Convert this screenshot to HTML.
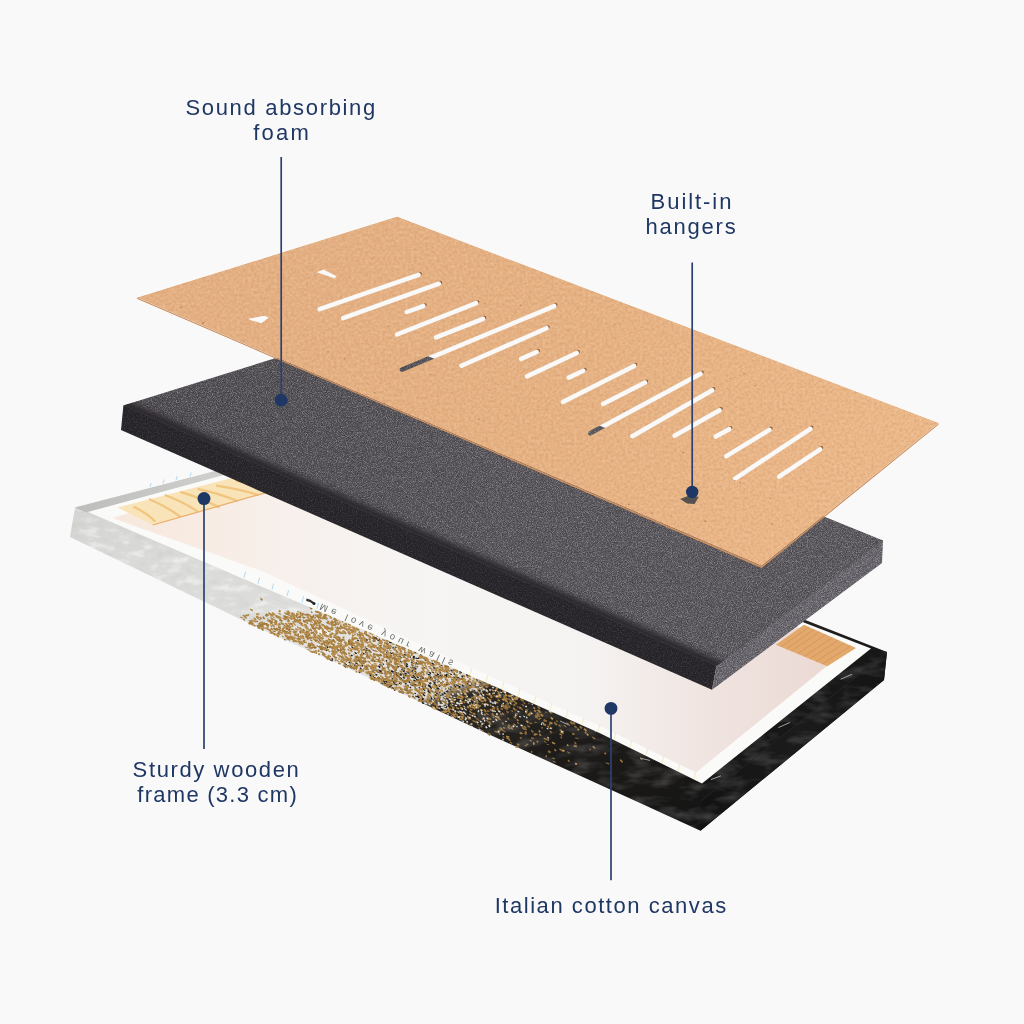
<!DOCTYPE html>
<html><head><meta charset="utf-8"><style>
html,body{margin:0;padding:0;background:#f9f9f9;}
body{width:1024px;height:1024px;overflow:hidden;position:relative;}
svg{position:absolute;left:0;top:0;display:block;will-change:transform;}
.lb{font-family:"Liberation Sans",sans-serif;font-size:22px;fill:#1f3764;}
.mt{font-family:"Liberation Sans",sans-serif;font-size:9.5px;fill:#6a6a6a;}
</style></head><body>
<svg width="1024" height="1024" viewBox="0 0 1024 1024">
<defs>
<linearGradient id="band" gradientUnits="userSpaceOnUse" x1="174.2" y1="471" x2="354.8" y2="959">
 <stop offset="0" stop-color="#d4d4d2"/>
 <stop offset="0.15" stop-color="#dadad8"/>
 <stop offset="0.3" stop-color="#dcdcda"/>
 <stop offset="0.42" stop-color="#e4e4e2"/>
 <stop offset="0.575" stop-color="#dddcd9"/>
 <stop offset="0.588" stop-color="#5a5650"/>
 <stop offset="0.6" stop-color="#2c2926"/>
 <stop offset="0.75" stop-color="#1e1c1a"/>
 <stop offset="1" stop-color="#141414"/>
</linearGradient>
<linearGradient id="rimG" gradientUnits="userSpaceOnUse" x1="75" y1="0" x2="240" y2="0">
 <stop offset="0" stop-color="#bdbdbc"/>
 <stop offset="1" stop-color="#d2d2d1"/>
</linearGradient>
<linearGradient id="canvasBack" gradientUnits="userSpaceOnUse" x1="150" y1="0" x2="850" y2="0">
 <stop offset="0" stop-color="#f8e9df"/>
 <stop offset="0.2" stop-color="#f7f0ec"/>
 <stop offset="0.4" stop-color="#f6f5f4"/>
 <stop offset="0.62" stop-color="#f5f3f2"/>
 <stop offset="0.8" stop-color="#f0e4e0"/>
 <stop offset="1" stop-color="#ead7d1"/>
</linearGradient>
<linearGradient id="foamFront" gradientUnits="userSpaceOnUse" x1="0" y1="0" x2="0" y2="1">
 <stop offset="0" stop-color="#2b2a2f"/>
 <stop offset="1" stop-color="#333237"/>
</linearGradient>
<linearGradient id="rface" gradientUnits="userSpaceOnUse" x1="700" y1="0" x2="887" y2="0">
 <stop offset="0" stop-color="#121212"/>
 <stop offset="0.5" stop-color="#1b1b1b"/>
 <stop offset="1" stop-color="#141414"/>
</linearGradient>
<filter id="foamTex" filterUnits="userSpaceOnUse" x="100" y="300" width="800" height="400" color-interpolation-filters="sRGB">
 <feTurbulence type="fractalNoise" baseFrequency="1.2" numOctaves="1" seed="5" result="n"/>
 <feColorMatrix in="n" type="matrix" values="0 0 0 0 1  0 0 0 0 1  0 0 0 0 1  1.0 0 0 0 -0.5" result="wdot"/>
 <feColorMatrix in="n" type="matrix" values="0 0 0 0 0  0 0 0 0 0  0 0 0 0 0  -1.0 0 0 0 0.5" result="kdot"/>
 <feComposite in="wdot" in2="SourceGraphic" operator="in" result="w2"/>
 <feComposite in="kdot" in2="SourceGraphic" operator="in" result="k2"/>
 <feMerge><feMergeNode in="SourceGraphic"/><feMergeNode in="k2"/><feMergeNode in="w2"/></feMerge>
</filter>
<linearGradient id="kraftG" gradientUnits="userSpaceOnUse" x1="330" y1="230" x2="860" y2="470">
 <stop offset="0" stop-color="#e4b083"/>
 <stop offset="0.5" stop-color="#e6b283"/>
 <stop offset="1" stop-color="#ebb889"/>
</linearGradient>
<linearGradient id="foamTop" gradientUnits="userSpaceOnUse" x1="150" y1="0" x2="850" y2="0">
 <stop offset="0" stop-color="#524f54"/>
 <stop offset="0.5" stop-color="#5a575d"/>
 <stop offset="1" stop-color="#5c595f"/>
</linearGradient>
<filter id="mottle" filterUnits="userSpaceOnUse" x="60" y="480" width="300" height="220" color-interpolation-filters="sRGB">
 <feTurbulence type="fractalNoise" baseFrequency="0.06 0.14" numOctaves="3" seed="3" result="n"/>
 <feColorMatrix in="n" type="matrix" values="0 0 0 0 0.72  0 0 0 0 0.72  0 0 0 0 0.71  -0.7 0 0 0 0.29" result="g"/>
 <feColorMatrix in="n" type="matrix" values="0 0 0 0 1  0 0 0 0 1  0 0 0 0 1  1.6 0 0 0 -0.8" result="wh"/>
 <feMerge><feMergeNode in="g"/><feMergeNode in="wh"/></feMerge>
 <feComposite in2="SourceGraphic" operator="in"/>
</filter>
<filter id="blackTex" filterUnits="userSpaceOnUse" x="400" y="600" width="500" height="240" color-interpolation-filters="sRGB">
 <feTurbulence type="fractalNoise" baseFrequency="0.035 0.09" numOctaves="3" seed="8" result="n"/>
 <feColorMatrix in="n" type="matrix" values="0 0 0 0 1  0 0 0 0 1  0 0 0 0 1  0.45 0 0 0 -0.2" result="w"/>
 <feComposite in="w" in2="SourceGraphic" operator="in"/>
</filter>
<filter id="bev" filterUnits="userSpaceOnUse" x="0" y="300" width="1024" height="450"><feGaussianBlur stdDeviation="3"/></filter>
<filter id="foamTex2" filterUnits="userSpaceOnUse" x="100" y="380" width="640" height="320" color-interpolation-filters="sRGB">
 <feTurbulence type="fractalNoise" baseFrequency="0.8" numOctaves="2" seed="9" result="n"/>
 <feColorMatrix in="n" type="matrix" values="0 0 0 0 1  0 0 0 0 1  0 0 0 0 1  0.35 0 0 0 -0.175" result="wdot"/>
 <feColorMatrix in="n" type="matrix" values="0 0 0 0 0  0 0 0 0 0  0 0 0 0 0  -0.5 0 0 0 0.25" result="kdot"/>
 <feComposite in="wdot" in2="SourceGraphic" operator="in" result="w2"/>
 <feComposite in="kdot" in2="SourceGraphic" operator="in" result="k2"/>
 <feMerge><feMergeNode in="SourceGraphic"/><feMergeNode in="k2"/><feMergeNode in="w2"/></feMerge>
</filter>
<filter id="kraftTex" filterUnits="userSpaceOnUse" x="130" y="210" width="820" height="360" color-interpolation-filters="sRGB">
 <feTurbulence type="fractalNoise" baseFrequency="0.35" numOctaves="3" seed="11" result="n"/>
 <feColorMatrix in="n" type="matrix" values="0 0 0 0 1  0 0 0 0 0.88  0 0 0 0 0.76  0.7 0 0 0 -0.35" result="w"/>
 <feColorMatrix in="n" type="matrix" values="0 0 0 0 0.72  0 0 0 0 0.5  0 0 0 0 0.36  -0.7 0 0 0 0.35" result="k"/>
 <feComposite in="w" in2="SourceGraphic" operator="in" result="w2"/>
 <feComposite in="k" in2="SourceGraphic" operator="in" result="k2"/>
 <feMerge><feMergeNode in="SourceGraphic"/><feMergeNode in="k2"/><feMergeNode in="w2"/></feMerge>
</filter>
<mask id="kmask" maskUnits="userSpaceOnUse" x="0" y="0" width="1024" height="1024">
<polygon points="137,297.6 397,216.6 939,423 761.6,566" fill="#fff"/>
<polygon points="137,297.6 761.6,566 939,423 938.7,424.8 761.6,568.2 137,299" fill="#fff"/>
<g stroke="#000" stroke-width="4.5" stroke-linecap="round">
<line x1="319.7" y1="309.2" x2="418.6" y2="274.9"/>
<line x1="343.1" y1="318.1" x2="439" y2="283.7"/>
<line x1="406.8" y1="312" x2="423.4" y2="306.1"/>
<line x1="397" y1="334.5" x2="476.2" y2="303.2"/>
<line x1="436.1" y1="337.4" x2="483" y2="318.8"/>
<line x1="402" y1="369.6" x2="554.3" y2="306.1"/>
<line x1="461.5" y1="365.7" x2="546.5" y2="328.2"/>
<line x1="521.1" y1="358.9" x2="536.7" y2="352"/>
<line x1="527" y1="376.4" x2="576.8" y2="353"/>
<line x1="568.8" y1="377.6" x2="583.4" y2="370.8"/>
<line x1="562.9" y1="402" x2="634.2" y2="365.9"/>
<line x1="603" y1="404" x2="645" y2="382.5"/>
<line x1="590.3" y1="433.3" x2="700.6" y2="373.7"/>
<line x1="632.3" y1="436.2" x2="712.3" y2="390.3"/>
<line x1="674.6" y1="435.7" x2="719.6" y2="410.3"/>
<line x1="715.7" y1="436.6" x2="729.3" y2="429.2"/>
<line x1="726.4" y1="456.2" x2="769.4" y2="429.8"/>
<line x1="735.2" y1="478.6" x2="810.4" y2="428.8"/>
<line x1="779.1" y1="476.7" x2="820.2" y2="449.3"/>
</g>
<polygon points="316.7,272.2 323.5,269.6 336.5,276.3 334.5,278.3" fill="#000"/><polygon points="248.8,318.8 264.4,315.8 268.8,317.6 261.5,323.2 250,320" fill="#000"/>
</mask>
</defs>
<g id="frame">
<polygon points="75,507.6 342,438 887,652 884,680 700.5,830.8 640,803 480,730.3 360,673.8 260,628.8 70,537" fill="url(#band)"/>
<polygon points="75,507.6 260,586 340,620 340,664.8 260,628.8 70,537" fill="#fff" filter="url(#mottle)"/>
<path d="M331.7 657.8l1.8 1.1 -.8 1.1 -1.3 -.8zM461 678l2.8 1.8 -1.3 .6 -2.2 -1.4zM407.9 653.7l2 1.6 -.8 .8 -1.8 -1.4zM406.1 689l2 1.3 -.9 1.3 -1.6 -1zM416.4 675.7l2.7 1.5 -.7 1.2 -2.4 -1.6zM410.1 683.5l2.6 1 -.6 1.3 -1.9 -.9zM400.8 656.8l1.7 .7 -.5 .8 -1.1 -.5zM399.2 691.1l1.2 .9 -.9 .8 -.8 -1zM422.2 685.6l1.3 1.4 -.7 .8 -1.5 -1.5zM386.3 659.7l1.3 1.1 -1 1.1 -1.1 -1.2zM413 674.7l1.1 1.2 -1.2 .7 -1 -.8zM344 665l2.1 1.4 -.2 1.5 -2 -1.3zM344.7 662.7l2.4 1.8 -.5 1 -2.6 -1.5zM429.4 699.4l1.3 1.5 -1.2 .8 -1.3 -1.4zM314.3 646.4l1.6 .6 -.3 1.4 -1.6 -.3zM411.6 661.3l1.7 1.9 -.7 .9 -2 -1.9zM371.9 677.1l1.1 1.3 -.7 .6 -1.1 -1.1zM345.6 658.8l1.9 .6 -.1 1.2 -2 -.3zM356.4 656.7l2.2 .8 -.5 1.1 -2.2 -.9zM453.6 685.4l2.3 1.6 -1 1.5 -1.5 -1.3zM430.1 681.7l1.6 1.4 -.8 1.2 -1.9 -1.4zM405.6 674.2l1.2 .9 -.6 1.2 -1.3 -.6zM446 670.5l2.2 1.9 -.9 .5 -1.8 -1.4zM447 664.3l2.1 1.8 -1 .9 -1.9 -1.6zM446.3 683l2.2 1.9 -1.4 .7 -1.7 -1.2zM422.2 699.7l2.1 .9 -.6 1.1 -1.5 -.9zM446 690.9l1.9 .5 -.3 .9 -1.7 -.5zM426.1 700.6l1.3 1 -.9 .8 -.9 -1zM359.1 671.1l1.5 1.6 -.8 .6 -1.4 -1.1zM403.1 670.1l1.8 .8 -.6 1.6 -1.3 -.8zM411.5 669.6l2.1 1.1 -.6 1.2 -2.1 -1.2zM466.9 675.5l1.6 .9 -.7 1 -1.2 -.9zM460.4 671.4l1.8 1 -.6 .9 -1.9 -1.2zM407 671.4l2.3 1.1 -.5 1.2 -2 -.7zM479.8 681.2l1.5 1 -1 1.1 -1.3 -.8zM422.7 697.9l1.5 .7 -.7 1 -1.2 -.8zM395.6 666.5l2.1 1.1 -.8 1 -1.8 -1.1zM410.1 686.2l1.4 1.6 -1 .6 -1 -1zM444.1 692.1l1.6 1.1 -.5 .9 -1.9 -1.2zM360.2 667.2l1.8 1.5 -.9 1.4 -1.7 -1.8zM395.7 673.8l2.7 1.1 -.3 1.6 -2.3 -.9zM414.8 667.1l2 1.7 -.8 1.1 -2 -1.8zM374 677l2.3 1.1 -.9 1.1 -1.6 -.7zM394.6 670.4l1.5 1.3 -1 .6 -1.2 -.8zM413.9 675.8l2.2 1.5 -.9 .7 -1.6 -1zM373.2 636.4l2.3 1.7 -.6 1.1 -2.3 -1zM395.5 666.9l1.2 .8 -.2 1.1 -1.3 -.5zM415.5 657.5l2.4 .5 .1 1.1 -2.6 -.3zM475.3 682.4l1.1 .9 -.9 1.3 -1.1 -1.2zM389.5 655.9l1.4 1.6 -1 .6 -1.3 -1.3zM385.8 653.7l1.7 .6 -.5 1.5 -1.6 -.7zM439.6 673.2l2.3 .9 -.3 1 -2.3 -1.1zM413.1 682.9l3.2 1.3 -1 1.5 -2.5 -.9zM364.1 638.1l3.1 1.6 -1 1 -2.1 -1.2zM389.4 684.9l2.9 .9 -.6 .7 -2.1 -.3zM388.9 679.8l1.1 1.3 -.9 1 -1.3 -1.3zM437.3 688.1l1.6 2.1 -1.4 .8 -1.5 -2zM399 690.6l1.9 .5 -.4 1.6 -1.6 -.3zM468 680.1l1.7 .8 -.4 1.4 -1.7 -.5zM387.8 663.2l2.3 .6 -.6 .9 -1.7 -.3zM338.8 645.1l2.2 1.6 -.8 .9 -1.5 -.9zM449.5 686.2l2.9 .6 -.2 1 -2.1 -.2zM401.7 679.2l2.4 .7 -.1 1.4 -2.4 -.6zM400.2 660.2l2.3 2.3 -.9 .5 -2 -1.9zM355.1 662.5l2.9 .5 -.2 1.2 -2.2 -.3zM403 667l2.5 .9 -.3 1.3 -2.8 -.5zM456.1 676.4l3.2 .9 -1 1.5 -2.1 -.7zM445.5 677.8l2.6 2.5 -1.3 .4 -2.1 -1.8zM399.1 675.4l1.1 1.8 -1 .7 -1.5 -1.3zM354.8 651.4l2.4 2 -1.2 .9 -1.5 -1.2zM422.7 688l1.6 1.2 -1.1 .9 -1.2 -.8zM458.5 677.2l2.4 1.8 -.7 .9 -2.3 -1.7zM430.7 689.8l2.2 1.2 -.6 1.6 -2.2 -1.5zM425.1 683.6l1.5 1.2 -.3 .9 -1.8 -1zM423.8 667l1.9 .7 -.3 1.1 -1.9 -.8zM376.6 637.2l1.1 1.7 -1.1 1 -1.2 -1.5zM478.8 679.3l3.1 .8 -.5 1.1 -2.2 -.8zM423.8 691.7l1.6 .8 -.3 1.4 -1.7 -.9zM416.1 678.6l2.3 .6 -.2 1.8 -2 -.6zM421.8 698.8l1.8 .8 -.5 1.6 -1.8 -.9zM402 666.6l1.3 1 -1 1.2 -1.2 -1.1zM397.5 665.2l1.6 1.4 -.7 1.4 -1.5 -1.3zM371.1 665.6l2 1.4 -.9 .8 -1.7 -.9zM420.7 680.2l1.5 1.8 -1.2 .6 -1 -1.3zM437.7 698.5l1.5 .6 -.2 1.2 -1.2 -.2zM434.6 679.9l1.5 .6 -.5 1.1 -1.3 -.5zM419.7 661.7l2.4 1.9 -1.3 .9 -1.4 -1.5zM378 676.8l1.9 1.6 -.7 1.1 -2.1 -1.8zM379.1 666.8l1.3 .7 -.2 1.1 -1.5 -.8zM438.4 684.7l2.9 .4 -.6 1.2 -1.9 -.4zM470.4 685.1l1.8 .7 -.7 1.4 -1.6 -.8zM407.9 691.7l1.4 1.1 -1.1 1 -1 -1zM387.6 678.2l1.1 1.6 -1 .7 -.8 -1.3zM378.8 671.3l1.3 1.2 -1 .8 -.9 -.9zM450.4 673.3l1.9 1.3 -.7 .7 -1.8 -1.1zM325.8 649.4l2 .9 -.9 1 -1.5 -.6zM419.1 674l2 2 -1.1 .9 -1.6 -1.6zM369.2 672.5l2 .8 -1 1.4 -1.4 -.9zM330.6 659.2l2.6 1.4 -.9 .9 -2.4 -1.1zM357.4 639.5l1.6 .4 -.4 1.5 -1.7 -.6zM379.3 639.9l2.2 .7 -.6 1.2 -1.6 -.4zM452.1 681l1.6 .8 -.5 1.3 -1.7 -1.1zM379.4 663.7l2.7 1.5 -.7 1.1 -2.1 -1.1zM467.1 682.5l1.6 1.9 -.8 .6 -1.5 -1.5zM450.3 669.4l2.2 .6 -.3 1 -2.1 -.7zM428.8 690.9l1.8 1.1 -.4 1.6 -2 -1.1zM424.1 688.9l1.4 1.3 -.6 1 -1.3 -1.4zM466.1 674l2.7 .8 -.5 1.4 -2.1 -.7zM472.1 683.1l1.3 .7 -.7 1.1 -1 -.6zM414.4 685.6l1.5 1.4 -.5 1.1 -1.8 -1.5zM411.7 664.4l1.8 1.7 -.7 .7 -1.8 -1.7zM348.5 661.8l2.4 .5 -.4 1.2 -1.7 -.2zM391.3 669.9l1.9 2.1 -1 .9 -1.6 -1.7zM430.7 686.4l1.4 1.9 -.7 .8 -1.8 -1.4zM438.3 676l1.9 1.3 -.9 1.5 -1.8 -.9zM361.8 664.3l1.5 1.3 -.8 1.3 -1.3 -1.1zM469.3 685.1l1.5 .9 -.6 1 -1.5 -.6zM413.2 656.6l1.8 1.2 -.7 1.4 -1.9 -1.1zM422 697.1l2.2 2 -.9 1.3 -1.8 -2.1zM454.1 672.5l1.3 1.5 -.8 1.2 -1.3 -1zM434.4 678.2l2.1 .6 -.6 .8 -1.4 -.3zM411.3 683.8l2.4 .8 -.5 1.4 -1.9 -.6zM430 672.4l1.2 1 -.7 .8 -1.1 -1zM445.4 675.8l2.6 .8 -.8 .8 -1.9 -.2zM398.9 682.4l2.5 1.1 -.4 1.1 -2.3 -.9zM424.6 679.6l2.2 1.2 -1 .9 -1.3 -.7zM457.7 685l3.1 1.4 -.7 .8 -2.2 -.8zM413 655.7l2.1 .4 -.6 1.3 -1.8 -.5zM351.1 646.2l2.5 .9 -.4 1.1 -1.8 -.7zM428.1 684.6l2.1 .6 -.4 1.2 -1.6 -.1zM373 655.3l1.7 1 -.2 1.4 -1.8 -.8zM386.9 684.1l.9 1.3 -1.1 1.2 -1 -1.4zM410.5 650l1.7 .7 -.5 1 -1.1 -.5zM434.1 683.3l2.4 1.2 -.4 1.5 -2.7 -1zM419.2 686.8l1.3 1.4 -.9 .8 -1.2 -1.2zM350.6 654.7l2.1 .3 -.5 1.3 -1.3 -.3zM362.8 660.3l1.5 .4 -.1 1.3 -1.5 -.2zM456.1 670.8l2.2 .6 -.4 1.1 -2 -.3zM425.9 673.2l1.9 .5 -.4 .7 -1.4 -.3zM369 649.2l2.1 2 -1.1 .9 -1.9 -1.8zM456.5 683.9l1.5 1.2 -.7 1.1 -1.2 -.6zM453.6 676.3l2.3 1.4 -.8 .9 -2.1 -1.2zM391 683.9l1.5 .9 -.6 1.1 -1.1 -.7zM443.8 693.2l2.2 1.4 -.6 1.2 -2 -1.3zM404 669.3l1.3 1.1 -.7 .8 -1.2 -.8zM414.6 670.3l1.9 1.2 -.9 1.1 -1.6 -1.1zM424.1 686l1.9 .6 -.3 1.1 -1.7 -.2zM394.4 657.3l1.2 1.4 -1 1 -1.2 -1zM379 638.4l1.4 .7 -.5 1.2 -1.4 -.5zM372.2 669.8l1.9 2.2 -1.1 .5 -1.2 -1.6zM433.2 667.1l1.9 .5 -.4 1.6 -1.6 -.9zM427.8 684.7l3 1.3 -.8 1.5 -2.1 -1.2zM437.4 693.4l2.1 .5 -.4 .9 -1.5 -.4zM438.6 684.9l1.8 .7 -.3 1.7 -1.5 -.9zM436.7 692.3l1.2 1.1 -.7 1.1 -1.3 -.9zM434.9 691.3l2 .8 -.6 1.2 -1.8 -.8zM406.2 688.1l2 .6 -.4 1.4 -1.4 -.5zM442.1 693.2l1.2 1 -1 1.1 -.8 -1zM445.8 673.9l2.7 .6 -.7 .8 -2.1 -.4zM422.1 680.8l1.8 2 -1 .6 -1.5 -1.7zM385.7 680.4l2.2 1.4 -1.1 1.1 -1.8 -1.2zM372.2 668.1l2.5 1.3 -.6 1.1 -2.2 -.8zM388.2 646.9l2.3 1.3 -.5 .9 -2.4 -1zM440.7 675.3l2.3 .9 -.6 1.5 -1.6 -.8zM425.2 685.5l1 1.3 -.6 1.1 -1.3 -1.2zM421.3 676.5l2.5 .6 -.3 .9 -2.7 -.4zM378.4 669.4l1.5 .6 -.3 .9 -1.4 -.6zM412.8 695.4l1.2 .7 -.6 1.5 -1.4 -.7zM454.2 685.1l2.4 1.2 -.7 .9 -2.5 -1.1zM379.7 670l1.6 1 -.6 1.4 -1.5 -.8zM439.1 691.5l1.4 1 -.9 .9 -.8 -.8zM400.3 673.5l1.2 1.2 -1.4 1.3 -.8 -1.3zM417.7 695.5l2.3 1.9 -1.3 1 -2.1 -1.8zM447 690.3l1.8 .6 -.3 1.5 -1.8 -.8zM431.5 697.6l1.1 1.4 -1.2 .8 -.8 -1zM421.6 692l2.8 1.7 -1.1 .7 -1.9 -1.1zM422.3 702.3l1.9 .5 -.3 1.3 -1.6 -0zM403.8 653.7l2.7 .9 -.7 1.1 -2.2 -.5zM378.5 665.3l2.3 1.3 -1 .9 -1.7 -.7zM383.4 667.6l1.7 2 -1.3 .8 -1.4 -1.2zM399.2 655.9l1.9 .7 0 1 -1.8 -.6zM354.9 663.9l1 1.1 -1.2 1.3 -.8 -.7zM420.1 653.5l2.2 1 -.6 1 -1.6 -.4zM376.5 646.6l1.5 .8 -.5 1.4 -1.2 -.5zM438.9 680.4l1 1.2 -.9 1 -.8 -1.1zM406 666l1.7 .7 -.7 .9 -1.4 -.4zM413.3 675.1l2.3 1.7 -.9 .8 -2 -1.9zM406.2 664.8l2.3 1.1 -.6 1 -2 -1zM434.9 674.4l1.9 .7 -.7 1.2 -1.6 -.6zM387.7 666.3l1.5 1.1 -.7 1.1 -1.8 -.7zM379.4 677l1.3 1.5 -.8 1.1 -1.6 -1.7zM411.7 666.9l2.8 .7 -.5 .9 -2.1 -.4zM434 680.9l1.3 1.7 -1.1 .3 -1.1 -1.3zM430.5 696.1l1.8 1.4 -.4 .8 -1.7 -1.4zM386.5 642.5l1.1 .8 -.5 1 -1.1 -.8zM401.2 688.3l1.3 1.4 -.9 1.1 -1.7 -1.6zM413 683.4l2.6 2.4 -1.3 .7 -1.7 -1.8zM416 661.7l2.2 2.2 -1.1 .9 -1.5 -1.8zM441.2 664.7l1.7 1 -.8 .9 -1.4 -1zM378.7 677.6l2.8 .8 -.6 1 -2.3 -.8zM461.5 677.6l1.5 1.5 -1.1 .8 -.9 -1.1zM401.3 692.2l1.8 .2 .1 1.1 -2.3 -.5zM426.5 678.2l1.8 1.2 -1.1 1.3 -1.3 -1.1zM365.5 651l1.5 1.6 -.7 .9 -1.6 -1zM358.2 658.9l2.4 2.3 -.9 .9 -2.2 -2.1zM350.2 666.5l2.3 .9 -1.1 1.1 -1.6 -.8zM445.9 665l1.6 .6 -.4 1.2 -1.7 -.6zM426.7 687.6l1.9 .6 -.6 1.2 -1.9 -.7zM437.7 687.1l2.3 2.2 -1 .5 -1.9 -1.8zM428.5 672l2.6 .4 -.3 1 -2 -.3zM453.4 683.9l1.6 .4 -.3 1.3 -1.2 -.2zM459.1 686.1l1.5 1 -.5 1.4 -1.5 -.6zM379.3 654.5l2.6 .8 -.7 1.2 -2.4 -.9zM380.9 682.9l2.8 .4 -.9 1.1 -2.2 -.5zM421.3 677.2l2.5 .9 -.4 1.2 -2.3 -1zM350 642.1l2.2 .9 -.4 .9 -2.2 -.7zM424.9 658.7l1.4 .9 -.4 1.3 -1.4 -.7zM390.1 652.1l2.6 1.5 -1.1 .6 -1.8 -1.1zM414.7 692.6l1.4 .6 -.2 1.1 -1.7 -.8zM432.2 663.8l2.6 .6 -.5 .9 -1.9 -.4zM435.4 684.4l2.5 1.4 -1.2 1.4 -2 -1.2zM431.7 662.6l2.3 .7 -.7 1 -2.2 -.6zM408.1 675.4l1.8 1.2 -.7 .7 -1.4 -.6zM433.9 660.7l2.4 1.1 -.3 1.3 -2.1 -.9zM419 681.6l1.6 1.1 -.9 .8 -1.3 -.7zM403 676l2.3 1.6 -.8 1.3 -1.9 -1zM422.4 685.6l1.4 1 -.8 1.1 -1.1 -.6zM446.9 681.8l1.6 2 -.8 .5 -1.4 -1.3zM383.1 663.1l1.2 1.6 -1 .4 -.9 -1.1zM393.8 682.7l1.7 1.4 -.9 .9 -1.3 -.7zM375.4 673.8l2.3 .6 -.6 1.3 -1.7 -.2zM457.8 679l2 .3 -.4 1.4 -1.7 -.3zM476.2 679.2l2.2 1.2 -.7 .7 -2.1 -1zM386.1 678.2l1.7 .8 -.8 1 -1.5 -.6zM372.8 640.3l2.1 .6 -.4 .9 -2 -.6zM436.9 678.8l2 1 -.8 1 -1.7 -1zM407.9 684.5l1 1.2 -.9 1.1 -1.3 -1.3zM378.2 647.5l1.9 2.5 -1.4 .6 -1.7 -1.6zM451.2 670.2l1.7 .4 -.2 1.1 -1.9 -.4zM388.7 685.7l2.1 1 -.7 1.4 -1.4 -.9zM387.2 671.3l2.4 .4 -.8 1 -1.7 -.3zM408.9 680.7l1.9 1.6 -1.3 .9 -1.4 -1.4zM394.5 666.7l2.3 1.3 -1 1.2 -2.1 -.8zM370 674.6l1.7 .9 -.8 1.2 -1.6 -1zM370.6 674l2.5 1.5 -1.3 1 -1.6 -.7zM364.1 648.2l1.4 1.7 -1.2 1 -1.2 -1.2zM417.8 695l2.1 .6 -.6 1.1 -1.9 -.3zM373.5 636.4l2.5 .9 -.5 1 -1.9 -.7zM440.6 674.5l2.5 1.1 -.3 1.2 -2.3 -.7zM459.5 670.9l2.2 .7 -.9 1.1 -1.6 -.3zM432.5 680.6l1.7 .3 .1 1.2 -1.7 -.3zM427.7 689.3l1.6 .4 -.6 1.2 -1.3 -.3zM386.3 643.1l2.9 1.7 -.4 1 -2.4 -1.3zM387 679.9l2 1.5 -.8 1.5 -1.9 -1.4zM410.5 670.4l2.7 .7 -.5 1.3 -2 -.3zM433.7 696.7l1.7 1.6 -1 .7 -1.4 -1.2zM389.1 671.4l2 1.6 -1.3 .6 -1.5 -1.4zM383.1 680.1l2 1.2 -1 1.5 -1.8 -1.2zM348.4 658.4l2.6 1.2 -1 1 -2.4 -.9zM428.8 684.7l1.8 .4 -.3 1 -1.6 -.3zM446.2 674.4l1.1 1.2 -.4 .9 -1.6 -1.1zM412.3 667.5l2 2 -.7 1.1 -1.8 -2.1zM436.7 686.7l1.9 1.7 -1.1 1.1 -1.2 -1.2zM354.8 658.5l3 1.3 -.8 .8 -2.1 -.9zM348.3 640.5l3.1 .6 -.9 1.4 -2.4 -.8zM384.4 672.9l2.7 .9 -.5 1.1 -2.1 -.6zM435.4 694.5l2.5 1.2 -1 .6 -1.5 -.9zM414 651.1l2.1 1.1 -.6 1.4 -1.8 -1.1zM446 673.7l2.6 .9 -.3 1.2 -2 -.8zM440 694.9l3.3 .7 -.8 1.7 -2.2 -.9zM386.8 655.7l2.1 1.6 -.8 1 -2 -1.4zM395.3 683.6l2.5 .8 -.7 1.4 -1.9 -.7zM430.5 676.1l1.7 1.1 -.5 1 -1.4 -.7zM471.5 682.4l1.5 1.1 -1 1.3 -1.4 -1.2zM365.6 649.4l2.2 .7 -.7 1.3 -1.8 -.4zM434.9 695.4l1 1.2 -.6 .7 -1 -1zM393.7 681.7l1.7 .9 -.8 .9 -1.6 -.8zM414.6 677.2l2.1 1.7 -.6 .7 -2.1 -1.4zM394.6 688.8l1.2 1.1 -1.1 1 -1.2 -.9zM415.5 695.4l1.5 .7 -.5 1.2 -1.3 -.6zM392.3 686.7l2 1.6 -.8 .8 -1.9 -1.6zM351.2 654.8l1.7 .4 -.3 1.1 -2 -.3zM450.4 688.2l1.9 1.5 -1.3 1.2 -1.4 -1.5zM419 684.4l1.2 1.1 -.9 1.1 -1 -.9zM371.3 674.8l3.1 1.1 -1 1.2 -2.3 -1.2zM468 673.7l1.7 1.6 -.8 .7 -1.3 -1zM327.1 645.9l1.6 1.1 -1 1.4 -1.2 -1.2zM423.4 687.9l1.5 2 -.5 .9 -2.2 -2zM360.9 659.9l2.7 1.1 -.3 1.5 -2.6 -1.1zM444 674.4l2.3 .7 -.4 1.1 -2.1 -.4zM405.9 662.8l2.2 1.2 -.5 1 -2.2 -.6zM423 693.7l2.4 1.6 -.4 1.1 -2.6 -1.5zM392.5 677.7l1.1 1.4 -1.1 .9 -1 -1.2zM390.3 661l1.8 .7 -.4 .8 -1.3 -.2zM395.5 671.2l1.8 1.8 -1.1 .8 -1.3 -1.6zM446.7 669.1l2 1.3 -1 1 -1.9 -1.3zM400.9 674l1.6 .6 -.6 1.2 -1.7 -.7zM456.7 678.6l2.4 1.9 -1.1 1 -1.9 -1.8zM403.5 669.5l1.4 .6 -.4 .9 -1.1 -.5zM429.7 672.1l1.7 .5 -.6 1.2 -1.2 -.7zM403.1 673.7l1.7 .8 -.7 1.4 -1.3 -1zM416.5 689.2l1.2 1.5 -.6 .7 -1.5 -1.3zM393.1 646.3l1.5 2 -.9 1.1 -1.6 -1.3zM451.3 690.7l1.6 .7 -.4 1.1 -1.5 -.6zM385.9 651.4l3.3 1.1 -.9 1.1 -2.1 -.4zM413.8 668.4l1.6 1.3 -.6 1.2 -1.4 -1.1zM429.8 667.4l2.4 1.2 -.5 .9 -2.3 -1.2zM379.4 672l2.8 .5 -.3 1.1 -2.3 -.5zM417.8 673.1l1.5 .7 -.7 1 -1.1 -.6zM380.6 642.2l1.5 .6 -.1 1 -1.9 -.8zM395.4 668.8l1.4 1.2 -.5 .9 -1.5 -.7zM420.2 678l2 2.5 -1 .6 -1.8 -2.2zM445 664.7l2.6 1.7 -1.1 1 -2.2 -1.2zM476 678.4l1.8 1 -.5 1 -1.2 -.8zM366.1 638.4l1.9 1.3 -.6 1.2 -2 -1.3zM432.6 671.4l1.8 1 -1 .9 -1.5 -.8zM363.5 652.6l1.2 .9 -.6 1.6 -1.4 -1.1zM395.9 673.2l1.8 1.7 -1 1 -1.4 -1.7zM440.3 674.5l.9 1.1 -.9 1 -1 -1.1zM462.5 684.2l1.5 1.7 -.7 1.1 -1.6 -1.4zM413.6 679.3l2.7 1.5 -.9 1.1 -2.2 -.7zM338.1 648.9l1.2 1.8 -.9 .9 -1.2 -1.3zM400.5 676.9l1.6 1.7 -.8 .8 -1.4 -1.4zM438.8 690.7l2.4 1.7 -1.1 .9 -1.7 -1.2zM404.9 688.1l1.2 1.7 -.7 .6 -1.3 -1.1zM394.9 646.5l1.8 .7 -.3 .9 -1.6 -.6zM419.3 682.1l2 1.7 -1.4 .7 -1.8 -1.5zM419.1 699l1.6 1.2 -.8 1 -1.7 -.9zM433.7 681.4l2.5 1.4 -1.3 1.1 -1.7 -1.4zM430 685.5l1.8 1.4 -.6 1 -1.9 -1.6zM389.1 641.5l2.7 .8 -.3 1.1 -2.4 -.5zM405.3 682.5l1.5 .8 -.5 1.4 -1.6 -.5zM377.5 639.1l2.2 .9 -.3 1.4 -2.2 -.8zM468.6 681.9l1.7 .9 -1 1.3 -1.4 -.9zM384.6 681.9l1.5 1.3 -.9 1.2 -1.8 -1.5zM393.1 657.2l1.9 .8 -.1 1.3 -1.8 -.7zM309 644.1l2.1 2 -1.1 .5 -1.8 -1.5zM405.3 688.9l1.9 .5 -.3 .8 -1.6 -.3zM437.3 673.1l1.9 1.5 -.9 1.2 -1.7 -1.4zM347.6 664.9l2.7 1 -.3 .8 -2.6 -.9zM422.3 700.8l1.7 .8 -.8 1.4 -1.6 -.7zM374 660.5l1.7 .8 -.5 1 -1.7 -.7zM436.5 675.1l1.6 1 -.4 1.2 -1.6 -1zM407.9 667.9l2.1 1.3 -.7 1.2 -2 -.8zM399.8 672.9l1.7 .9 -.6 1 -1.5 -.5zM404.5 672.4l2.5 .9 -.5 1.1 -2.1 -.5zM418.2 657.1l1.3 1 -.4 1.1 -1.4 -.7zM434.8 693.8l2.1 1.3 -.6 1.4 -2.1 -.9zM440.5 681.9l2.2 .8 -.4 1.4 -2.4 -.9zM378.8 671.3l1.9 .9 -1.1 1.1 -1.4 -.7zM350.7 665.2l1.2 1.6 -1.3 .7 -.8 -1.2zM429.8 676.4l1.4 1.7 -1 .9 -1.5 -1.5zM454.9 669l2.4 .7 0 1.2 -2.4 -.5zM380.8 672.4l2.9 .6 -.9 1.1 -2.1 -.4zM417.6 678.7l2.6 1.7 -1 .8 -1.8 -1.2zM414.9 672.6l1.4 1.1 -.6 .6 -1.3 -.7zM420.6 678.4l1.4 .7 -.6 1.5 -1.2 -.8zM380.6 669.9l1.7 .6 -.5 1.2 -1.4 -.3zM427.8 690.8l1.8 .5 -.7 1.3 -1.5 -.7zM401.5 668.7l2.3 1.2 -.9 .8 -1.7 -.8zM439.3 670.5l1.9 1.7 -.8 1.2 -2 -1.4zM428 673.8l2.9 .7 -.6 1.2 -2.3 -.4zM401.7 666.7l2.2 .7 -.2 1.3 -2.3 -.6zM365.8 647.7l2.6 1.4 -1.3 .7 -1.7 -1.2zM429.1 682.5l1.8 .5 -.5 1.5 -1.4 -.4zM448.6 687.9l1.2 1.2 -.9 .6 -1 -1.1zM392.8 652.3l1.3 1 -1.1 .9 -.9 -1zM364.9 665.5l2.7 .8 -1 1.6 -2.5 -.7zM411.5 676.4l2.4 .8 -.2 1.1 -2.6 -.6zM392.2 679.9l2.3 2.3 -1 .8 -1.9 -1.9zM393.1 675.7l1.7 .9 -.9 1.3 -1.4 -.9zM381.4 664.6l1.7 1.6 -1.1 .6 -1.5 -1.1zM462 675.1l2.1 1.6 -1.4 1 -1.5 -1.2zM410.2 655.9l1 1 -.6 1.2 -1.3 -.6zM392.1 670.2l2.6 1.7 -.8 .5 -2.3 -1.1z" fill="#1c1b1a"/>
<path d="M475.1 695.5l2.2 1.3 -1 .6 -2.1 -1.1zM414.3 697.2l1.2 1.3 -.7 .8 -1.3 -1.3zM451.9 671l2.7 1.4 -.6 .7 -2.9 -.8zM473.7 702.4l1.4 .9 -1 1.5 -1.3 -.6zM276.2 628.6l1.8 1.7 -1 .9 -1.2 -1.2zM366.6 653.5l2 .9 -.1 .9 -2.1 -.8zM539.3 729.8l1.5 1.8 -1.1 1.1 -1.5 -1.4zM372.4 659.4l3.2 .6 -.5 1.4 -2.9 -.5zM453.2 668.6l2.1 1.3 -.8 .9 -1.7 -.9zM313.3 614.2l1.4 1.8 -1.2 1.1 -.9 -1.1zM403.7 661.6l1.9 .8 -.1 2 -2.1 -.8zM403.3 680.9l1.9 .6 -.6 1.8 -1.8 -.5zM433.5 683.5l2.7 1.8 -.8 1.3 -3 -1.5zM334 655.9l3.6 1.3 -1.4 1.8 -2.5 -1.1zM272.8 630.6l2.9 .3 0 1.4 -3.4 -.7zM282.6 627.6l1.4 .8 -.3 1.1 -1.7 -.7zM325.5 641.4l1.8 .7 -.5 1.2 -1.5 -.4zM368.6 656.1l2.5 2.2 -1.3 .6 -1.7 -1.7zM467.3 680.6l1.4 1.6 -1.1 .7 -1.2 -.8zM326.4 621.8l3.5 .8 -.2 1.3 -3.3 -.5zM302.6 612.6l1.2 1.2 -.8 1.4 -1.3 -1zM379.5 676.9l2 2.4 -1.3 .8 -2.4 -2.2zM495.3 696l3.1 2.2 -1 .4 -2.5 -1.7zM314.1 619.7l1.9 1.8 -1.1 .9 -1.6 -1.7zM339 638.7l2.8 2.2 -.8 1 -2.8 -1.8zM396.4 662.5l2.8 1.1 -.5 1.4 -2.7 -.8zM371.4 658.9l1.8 1.4 -.9 1.2 -2.3 -1.2zM412.2 672.1l2.2 1.9 -.9 1.1 -2.2 -1.8zM428.5 661.5l2.4 2.5 -.7 .5 -2.4 -2.4zM387 662.8l1.3 1.8 -1 .6 -1.4 -1.2zM429.9 687.9l2.6 2.4 -1.1 .7 -1.7 -1.8zM457.4 695.8l2.3 1.3 -.9 1 -2.2 -1zM305.4 619.3l2.5 1.1 -.6 2.1 -2.2 -.9zM310.3 639l2.2 1.2 -.2 1.2 -2 -.7zM509.1 705.9l1.8 1.2 -1.1 .9 -1.3 -.9zM384 683.4l2.3 1.5 -.8 1.2 -1.8 -.8zM497.4 705.7l1.3 1.1 -1.1 1.5 -1.1 -1.3zM268.9 619.8l2.6 1.6 -1.4 1.4 -2 -1.5zM320.8 646.6l3.6 1.8 -1.2 1.5 -2.8 -1.5zM367.1 648.4l2.8 2.2 -1.3 .9 -2.7 -1.9zM322.8 652l2.7 1.7 -1.1 .7 -2 -1.6zM399.7 678.3l1.8 1.6 -1.3 .9 -1.3 -1.5zM340.3 639.3l2.5 .3 -.3 2.2 -2.6 -.6zM400.4 688l3.1 .9 -.8 .9 -2.8 -.8zM416.2 683.4l2.3 2.5 -1.7 .7 -1.3 -1.4zM261.4 625.2l2.5 .4 -.3 2.1 -2.1 -.7zM356.3 627.6l1.8 1 -.7 1.3 -1.4 -.8zM474.1 712.4l2 1.9 -1.4 1 -1.2 -1.3zM324.9 654.9l1.4 1.5 -.8 .9 -1.5 -1.2zM294.2 639.4l2.7 1.7 -1.3 .9 -2.5 -1.3zM464.5 696.1l3 .6 -.4 1.8 -2.5 -.6zM325.8 639.5l2.9 .9 -.5 1.7 -2.5 -.5zM309.2 637l2.9 .6 -.3 1.3 -3.3 -1zM427.3 701.3l2 1.8 -.8 .7 -1.4 -1.2zM348.8 659.2l2.7 1.4 -.9 1.6 -3.1 -1.7zM298.8 637.8l2.7 .9 -.4 .9 -2.4 -.5zM505 699.6l1.8 .3 -.5 1.5 -1.4 -.3zM308.4 632.9l1.6 1 -.8 1.6 -1.2 -.7zM406 679l3.6 .9 -.8 2.3 -3.1 -.7zM423 686.1l2.9 1.6 -.9 1.5 -2.3 -1.3zM357.9 664.2l1.1 1.5 -1.1 1.2 -1.3 -1.2zM319.4 636.1l2.8 1.4 -1.4 1 -1.7 -1.1zM459.3 690.6l3.6 2 -1.3 1 -2.8 -1.6zM295.1 621.1l1.5 .4 -.2 1 -1.4 -.2zM260.3 616.7l2 1.9 -1.4 1 -1.8 -2zM360.4 656.8l1.7 1.6 -1 .7 -1.3 -1.1zM357.3 644.3l1.7 .9 -1 1.1 -1.2 -.3zM315.6 651.7l1.6 .6 -.3 1.6 -1.4 -.5zM385.7 639.4l3.9 .9 -1 1.5 -2.4 -.4zM400.2 649.4l2.1 1.5 -.8 1.7 -2.1 -1.4zM243.5 614.7l2.6 1.6 -.9 .9 -2.7 -1.4zM359 637l1.8 .9 -.4 1.2 -1.7 -.7zM420 698.8l4 2.1 -.8 .7 -3 -1.5zM293.8 616.8l2.4 2.6 -1.5 1 -2.1 -2zM311.8 615.7l2.3 .8 -.4 1.7 -2.5 -.9zM351.8 662.3l3 1.8 -1.2 1 -2.4 -1.8zM277.4 635.1l1.8 1.2 -.7 1.3 -1.5 -.9zM311.1 624.9l2.8 1 -.5 1.6 -2.5 -1.3zM420.5 679.4l1.4 1.7 -1.4 .8 -1.1 -.8zM390.4 686.5l2.9 1.4 -.6 1.3 -2 -.8zM354.6 660.8l3.1 .9 -1.2 1.4 -2.5 -1zM341.5 658.2l3.8 1.5 -.8 1.5 -3.5 -1.7zM352.9 642.4l2 .5 -.1 1.2 -2 -.6zM282.8 629.4l3.1 1.1 -.7 1.2 -2.4 -.6zM474 705.4l2.6 1.9 -1 .9 -2 -1.3zM261.1 623.1l2.4 .8 -.4 1.5 -2.5 -.6zM393.4 675.5l2.9 2.1 -.8 .8 -2.8 -2zM428.1 660.6l1.7 .9 -.5 1.3 -1.7 -.3zM431.7 678.1l1.5 1.3 -1.1 1.7 -1.1 -1zM483.1 697.1l3 1.6 -.9 .6 -2.5 -1zM477.6 695.9l3.4 1 -.6 1.5 -3.1 -.5zM379.9 646.1l3.4 2 -1.2 .9 -2.6 -1.6zM306.8 636.9l2.8 1.3 -.4 1.4 -3 -1.1zM427.4 688l1.6 .8 -1 1.3 -1.4 -.6zM394.3 675.7l2.9 3.2 -1.4 .9 -2.9 -2.3zM312.4 646.5l3.3 .9 -.8 1 -2.6 -.5zM469.3 713.4l2.7 1.7 -.5 1.2 -2.6 -1.5zM394.5 674.2l2.4 .4 0 1.1 -2.8 -.5zM395.5 679.5l2.1 1.2 -.6 1.5 -2.1 -1.1zM439.9 684.5l1.3 .8 -.6 .9 -1.4 -.9zM405.7 659.3l3.5 1.3 -1.1 1 -2.6 -.6zM323.7 616.1l3.3 2.1 -.9 1 -2.8 -1.5zM311.7 627.5l3.4 1.5 -1.1 .9 -2.3 -1.2zM417.6 663l1.6 1 -.7 .7 -1.4 -.7zM444.5 702.3l2.6 1.6 -.9 1 -2.3 -1.4zM375.6 677.1l2 2.3 -1.2 1.5 -2.3 -1.9zM421 691.6l2.6 .5 -.9 1.9 -2.2 -.6zM394.1 653l2.1 1.3 -1 .9 -1.8 -.9zM422 681.1l2.2 2 -1 1.1 -1.7 -1.6zM372.5 644.9l2.6 2.1 -1.5 1.1 -2.2 -1.9zM390.6 682.7l1.9 1.9 -1.4 .8 -1.5 -1.7zM437.2 660l1.3 1.6 -1.3 1.3 -1.4 -1.7zM257.5 616.2l1.7 1.4 -.9 1.4 -1.6 -.9zM403 680.3l2.6 2.2 -.3 1.1 -2.4 -1.8zM425.1 703.7l2.2 .8 -.9 .8 -1.5 -.6zM295.7 628.5l2.9 .7 -.7 1.1 -2.4 -.7zM324.6 630.9l2 1.7 -1.5 .8 -1.7 -1.7zM332.4 651.8l3.3 .8 -.5 1 -2.6 -.5zM343.2 623.9l2.5 1.7 -1 1.2 -2 -.9zM316.8 619.5l2.6 2.7 -1.6 .5 -2.1 -2.2zM262.8 622.5l3 1.4 -.8 1.3 -2.1 -.5zM407.8 669.8l2 .9 -.8 1.1 -1.3 -.4zM476.7 700.5l2.1 1.7 -1.2 1.6 -2 -1.7zM447.6 672.6l2.4 .5 -.4 1.2 -2.3 -.6zM344 627.4l1.9 .8 -.7 1.2 -1.4 -.3zM549.7 721.5l3 1.1 -.5 2 -3.1 -.9zM393.8 681.2l2.8 .5 -.6 1.1 -1.7 -.3zM433.7 699.4l1.7 .7 -.1 1.6 -1.5 -0zM314.3 627.6l2.1 .5 -.4 1.7 -2.5 -.4zM382.4 638.8l2.8 1.6 -1 .6 -2.2 -1.1zM451.8 683.7l1.9 1.1 -1 .9 -1.4 -.6zM363.2 636.2l1.6 1.1 -.8 .9 -1.7 -1zM381.7 659.1l2.3 1.1 -1.1 1.4 -1.5 -.8zM394 678.4l1.4 2.1 -.8 1.1 -1.7 -1.3zM432.2 679.5l3.7 2.1 -.9 1 -2.7 -1.7zM308.8 636.3l2.3 1.8 -1 1 -2.1 -1.9zM457.6 694.5l4 1.8 -1 .7 -2.8 -1.3zM284.3 611.8l3.2 2.2 -.7 1 -2.4 -1.8zM323.8 648.2l2.1 1.7 -.6 1.1 -2.2 -1.7zM356.2 659.1l2.5 .8 -.2 1.4 -2.5 -.4zM445 700.6l2 1.1 -.9 .6 -1.5 -.6zM394.6 663.3l2.3 1.8 -1.2 .6 -1.5 -1.1zM287.6 637l2.4 1.9 -.8 1 -2.8 -2zM383 648.1l2.9 1.3 -1.3 1.5 -2 -1.1zM342.4 626.9l2 .4 -.6 1.3 -1.3 -.6zM375.4 649.9l1.7 1.5 -.9 .7 -1.2 -1.2zM372.1 658.7l2.1 2.3 -1.4 .9 -1.6 -1.7zM448.2 669.1l2.3 1.9 -.9 1 -2 -1.5zM327.5 641l3 1.2 -.8 1.6 -2.4 -.6zM396.5 675.2l1.8 1 -1 1.3 -1.4 -.6zM336.4 638l3.8 2.5 -1.2 1 -2.9 -1.3zM271.2 627.6l2 1.9 -1.2 1 -1.6 -1.8zM439.5 665.7l1.9 1.1 -.8 .7 -1.4 -.5zM282.6 629.5l3 1.5 -1.6 1.7 -2.6 -1.6zM320.4 645.3l3.1 1.4 -.8 1.5 -2.2 -1.3zM337.1 659.4l2.8 3.2 -1.3 -0 -2.3 -2.3zM333.2 654.3l2 1.6 -.6 1.5 -2.1 -1zM390.2 659.9l2.2 1.3 -.8 1.4 -1.8 -.8zM415.1 687.5l1.8 1.3 -.8 1.1 -1.2 -.7zM399.7 687.6l2.3 2 -.7 1 -1.7 -1.7zM370.2 654.9l2.4 1.6 -.7 .6 -2.3 -1.5zM350.5 628.5l2.7 1.3 -.6 1.3 -2.9 -1.4zM444.6 698.7l2.8 1.2 -1.1 1.1 -1.6 -.8zM313.7 627.1l2 2.2 -1.6 .5 -1.3 -1.6zM261.1 627.4l3.1 2.6 -1.3 .9 -2.2 -1.9zM297.5 634.5l2.9 2.2 -1 1 -2.4 -1.6zM380.2 650.7l1.9 1.3 -.5 1.3 -1.9 -1.1zM435.1 667.9l2.9 2.7 -1.8 .9 -1.8 -2zM430.4 664.8l1.4 .6 -.6 1.2 -1.4 -.4zM411.4 651.8l2.2 2 -1.6 1 -1.7 -1.8zM343.2 664.3l2.1 1.8 -.9 .9 -1.5 -1.6zM250.7 608.8l2.4 1.2 -.7 1.3 -2.8 -1.7zM403.5 656.1l2.5 .9 -.8 1.3 -2.4 -.6zM268.3 619.1l3.2 1.3 -.3 2 -2.8 -.9zM282.9 630.5l2.1 1.2 -.7 1.1 -2.2 -1.3zM303.9 639.3l1.6 .7 -.5 1.1 -1.7 -.2zM291.6 628.5l2.9 1.1 -.5 .8 -2.3 -.7zM459.9 712.5l2.6 .6 -.5 1.6 -2.1 -.7zM435 689.3l3.3 1.5 -.8 .8 -2.1 -.7zM315.2 639.3l1.5 1.3 -1.3 1.3 -1.4 -1.5zM285.5 615.5l2.5 1.6 -1.2 1.2 -1.8 -.8zM361.8 662.4l1.8 1.9 -1.7 .8 -1 -1.2zM305.6 635.3l2.5 1.1 -.8 2 -2.3 -.9zM385.6 653.2l2.7 2 -.7 1 -2.3 -1.5zM419.5 655.6l2.3 .8 -.7 1.1 -2.1 -.7zM399.9 664.9l1.4 1.5 -1.4 .7 -.8 -1.1zM383.4 679l1.6 .9 -.6 1.3 -1.4 -1.1zM314.1 622l3.5 1.3 -.7 1.6 -2.8 -1.2zM328.2 654.9l3.1 1.3 -1.1 1.1 -2.1 -1.3zM477.9 704.8l3.5 .5 -.7 1.5 -2.6 -.7zM359.4 630.8l1.4 1.8 -1.2 1.3 -1.4 -1.7zM266.4 623.1l1.6 .9 -.6 1.2 -1.7 -.9zM508.4 694.5l3.1 1.6 -1.3 .7 -2.5 -1.3zM472.6 712.4l2.6 .9 -.7 1.5 -2.1 -.5zM377.3 653.9l2.2 1.9 -1.3 1.3 -1.7 -1.1zM482 702.7l2.5 1.1 -.4 1.2 -2.3 -1zM330.4 642.4l2.8 1.1 -.7 1 -2.6 -.9zM437.2 681.1l1.3 1.4 -.8 .9 -1.3 -1.5zM418.5 689.8l1.9 2 -1.5 1.4 -2 -1.7zM373.4 669.1l2.2 1.2 -.8 .5 -1.7 -.7zM417.4 678.9l3.8 .7 -.6 1.6 -3.1 -.7zM329.3 658.5l2.7 .7 -.3 1.7 -2.4 -.7zM323.8 647.3l2.9 1.6 -1.3 1.1 -2.6 -1.5zM353.4 647.2l3.8 1.6 -1.4 1.4 -2.6 -.9zM316.3 610.8l3.3 .6 -.3 2 -3 -.9zM372.5 649.2l2.8 1.1 -.8 1.1 -2.3 -.9zM373.4 652.7l2.2 1 -.5 1.9 -2.7 -1.2zM459.5 700.6l2.5 1.9 -1 .7 -2.1 -1.5zM375.2 653.6l3 .5 -.6 1.4 -2.4 -.5zM480.5 684.7l2.7 1.4 -.3 1.1 -2.4 -1.1zM449 710.4l2.1 1.3 -1.1 .8 -1.6 -1.3zM278.2 626.1l2.8 .7 -.4 1.9 -2.8 -.6zM307.7 618.6l3 2.4 -1.4 .8 -2.1 -2.1zM434.5 676l2.3 .8 -.5 1.6 -1.8 -.9zM388.5 656.3l3 1.6 -1.2 .8 -2.4 -1.3zM497.6 692.6l2.5 .3 -.3 1.7 -2.3 -.6zM318.7 652.7l1.5 1.2 -1 1.6 -1.2 -1zM349.1 622.8l2.1 2.3 -1.2 1 -2 -2zM256.2 620.4l2.1 .5 -.6 1.6 -1.6 -.5zM300 631.1l1.4 .9 -.9 1.8 -1.1 -1.1zM317.5 634.5l3.2 1.6 -.9 .8 -2.3 -1.2zM403.4 645.6l2 1.5 -1.3 1.4 -1.6 -1.3zM458.9 703.8l2.3 1.2 -.5 1.2 -2.1 -.7zM398.8 680.9l3.5 1.3 -.9 1.7 -2.3 -1.1zM277.3 616.1l1.4 1.5 -1.4 1 -.9 -1.2zM510.3 694.6l1.7 1.2 -.9 1.3 -1.3 -.6zM378.5 670.9l3.7 1.5 -1.2 1 -2.6 -1.2zM424.2 682.6l2.3 2.1 -1 .9 -1.8 -1.5zM395.6 686.3l1.8 .5 -.1 1.1 -1.7 -.4zM350.4 666l2.9 1.6 -1.3 1.1 -2.4 -1.2zM332 619.8l2.4 2.9 -1.7 1 -1.8 -2.1zM366 649.5l3.3 .9 -0 1.3 -2.9 -1zM335.1 648.3l1.1 1.5 -1.1 1.2 -1.3 -1.3zM259 622.6l3.3 .7 -.8 1.5 -2.3 -.7zM406.1 670.6l2.4 1.1 -1 1.3 -2.1 -1zM290.1 614.7l2.3 2.3 -1.1 .5 -2.1 -1.8zM288.7 624.7l2.3 2.8 -1.2 1 -2.4 -2zM374.1 647l1.8 .5 -.2 1 -1.6 -.5zM485.9 682.1l3.1 2.3 -.9 1 -2.5 -1.6zM370.5 645.2l2.4 .9 -.7 1.4 -1.9 -.6zM396 644.1l2.1 .8 -.6 1.9 -1.8 -.8zM324.1 643.7l3.1 1.8 -1.5 1.2 -2 -1.4zM420.9 678.3l1.7 .4 -.5 1.3 -1.5 -.3zM419.1 679.8l2.5 2 -.7 1.7 -2.3 -1.5zM394.6 661.3l2.8 2.9 -1.2 1.3 -2.7 -2.4zM452.4 706.1l2.5 1.2 -.7 1.4 -2.1 -.8zM473.1 695.4l2.6 .7 -.7 1.7 -2.3 -.8zM479.1 682.9l2.1 2.3 -.7 .9 -1.8 -1.5zM311.3 616.7l1.6 1.6 -.9 1.1 -1.8 -1.1zM340.4 655.7l4.2 1 -1.4 1.9 -2.7 -.9zM426.9 671.1l1 1.4 -.6 1.1 -1.3 -1zM394.2 679.9l2.3 1.3 -.9 1.7 -1.9 -1.3zM431.2 677l2 1.1 -.6 1.5 -2.1 -1.2zM275.4 620.2l1.9 2.3 -1.1 1.5 -1.8 -2.1zM360.6 633.7l1.7 1.1 -1.1 1.2 -1.5 -1.3zM384.3 667.1l1.7 .9 -.7 1 -1.5 -.9zM272.4 624l2.2 1 -1 1.5 -1.4 -.6zM356 664.7l2.1 2.3 -.9 1.5 -2.3 -2zM449 690.7l2.4 2.5 -1.6 .5 -1.6 -1.7zM375.6 665.1l2.5 .9 -1.1 1.3 -1.6 -.9zM321.3 637.2l2.9 .6 -.8 1.1 -2.1 -.7zM389.2 646.7l2.6 .9 -.7 1.3 -2.3 -.5zM476.3 682.8l1.9 1 -.4 2 -1.8 -.7zM405.6 684.7l2.3 2 -.8 .9 -2 -1.9zM418.9 672.1l2 1.2 -.6 .7 -1.9 -.9zM355 633.1l1.1 1.1 -1.2 1.2 -.9 -1.2zM433.3 664.8l1.4 1.4 -1.2 1.4 -1.6 -1.5zM319.1 638.6l3.1 2.3 -1.3 1.2 -2.1 -1.6zM498 692.8l2.1 .8 -.4 1.2 -2 -.5zM401.9 690.4l1.5 1.2 -.9 1 -1.2 -.9zM386.7 683.2l3 1 -.8 1.5 -2.2 -.3zM309.3 629.5l3.1 .6 -.7 .9 -1.9 -.6zM471.1 703l2.3 1.9 -1.2 1 -1.9 -1.6zM367.4 660.5l3 1.1 -.7 1.1 -2.3 -.8zM445.3 668.1l2.4 1.8 -1.1 1.7 -1.9 -1.7zM344.1 663.1l1.9 .8 -.5 1.1 -1.3 -.8zM372.9 667l2.4 .5 -.2 1.1 -2.5 -.7zM355.8 665.3l1.7 .8 -.7 1.4 -1.1 -.6zM350.9 648.3l1.6 1 -.6 1.6 -1.3 -.9zM426.1 677.7l3.1 .4 -.9 1.3 -2.8 -.4zM445.6 687.4l1.2 1.4 -.9 1.5 -1.4 -1.3zM385 647l3.2 1.1 -1 .8 -2.1 -.7zM537.7 705.8l2.6 2.5 -1 1.1 -2 -2.1zM475 696l3.7 .9 -.7 1.1 -3 -.5zM348.5 664.9l2.1 1.1 -.8 .8 -1.3 -.7zM299.4 615.2l1.5 1.2 -.6 .7 -1.6 -.9zM360.9 638.9l2.5 1.1 -.8 1.1 -1.7 -.8zM300.3 615.4l1.4 1.3 -1.2 1.2 -1 -1.4zM473.9 703.4l1.8 1.8 -1.1 1 -1.6 -1.6zM307.9 644.8l2 1.9 -1.4 .5 -1.4 -1.5zM397.6 675.3l2.3 2 -1 1.1 -2 -1.5zM435.7 688.4l2.1 1.6 -1.1 .7 -1.2 -1.1zM401.9 680.4l1.7 .8 -.2 .9 -1.9 -.5zM311.2 611l1.7 1.6 -1 .7 -1.3 -1.4zM320.3 616.1l1.5 1.9 -1.2 1.2 -1.5 -2zM299 643l2.5 .8 -.4 1 -2 -.6zM320.8 627.2l3.4 2.2 -1 .6 -3.3 -1.8zM463.7 700.8l2 1.6 -1 1 -1.4 -.7zM396 651.3l2.2 1 -.3 1 -2.1 -.5zM292.8 640.2l2.9 .6 -.6 1.5 -2.3 -.5zM467.6 717.7l3.7 .5 -.7 1.6 -2.9 -.5zM389.2 683.3l2.3 .8 -.6 1.5 -1.8 -.6zM372.7 663.9l2 2.2 -1 .4 -1.6 -1.8zM423.2 685.6l1.5 1.6 -1 .4 -1.4 -1.3zM291.1 636.5l2.3 1.3 -.7 .9 -2.4 -1.1zM325 646.4l2.3 1.9 -1.3 1.8 -2.3 -2.1zM508.5 695.3l2 .5 -.5 1.5 -1.8 -.7zM256.7 624.8l3.6 1 -.2 1.4 -3.3 -.8zM345.4 658.5l3 1.1 -.9 1.4 -2.8 -1zM393.8 674.3l1.2 1.5 -1.2 .9 -1.1 -1.2zM452.9 711.7l1.4 1.6 -1.1 .4 -.9 -.9zM406.7 677l3.3 2.1 -1 1 -2.3 -1.4zM304.5 633.2l2.3 1.1 -.6 1.2 -2.1 -1.1zM318.9 627l1.7 1.7 -1.2 .7 -1.3 -1zM286.6 612.8l3.4 1.8 -1 1.2 -3 -1.4zM398.1 655.7l1.5 1.1 -1.3 1.3 -1.4 -1.1zM340.1 639.4l2 2.1 -.8 1.4 -2.2 -2.1zM331.4 642.5l2.7 1.5 -.8 1 -2.8 -1.5zM288.1 618.9l2.1 1.8 -.7 1.1 -2.1 -1.4zM319.5 645.5l2 1.2 -.8 1.5 -2.2 -1.4zM286.2 623.1l1.4 .9 -.4 1.7 -1.4 -.7zM348.6 659.4l2 .7 -.5 .9 -1.8 -.6zM397.6 672l1.9 .6 -.7 1.8 -2.2 -.7zM420.6 680.6l1.3 .9 -.9 1.2 -1 -1.1zM400.6 651.9l2.1 1.5 -1.1 .7 -1.6 -1.1zM456.6 687.9l2.3 1.3 -.5 1.2 -2.3 -1.3zM336.1 637.3l1.5 1 -.9 1.3 -1.2 -.7zM361.5 653.1l1.7 1.9 -1.1 1.4 -1.9 -1.3zM267.2 623.1l2.4 2.2 -1.4 1.8 -1.8 -2.6zM387.4 640l1.4 1.7 -1.1 .6 -1.1 -1.4zM289.7 622.6l3.4 1 -.7 1.7 -2.8 -1zM409.7 673.4l2.7 1.7 -1.2 1.4 -2.7 -2.2zM453.1 679.8l2.5 2 -1.1 .6 -1.4 -1.3zM374.8 669.9l3.1 1.2 -.5 .7 -3.2 -.8zM352.6 643.9l2 .9 -.9 1.2 -1.7 -.7zM484.6 682.9l1.7 1.7 -.9 .9 -1.3 -1.1zM294.1 629.9l3.7 1.8 -1.5 1.1 -2.4 -1.6zM332.2 643.4l3.1 .3 -.7 1.8 -2.4 -.4zM414.9 665l2 .9 -.4 1.6 -1.9 -.4zM342.8 638.1l2.5 1.9 -1.1 1.1 -2.6 -1.4zM408.9 654.3l2.1 1.8 -1.1 1.4 -2.4 -2zM401.1 646.2l1 1.2 -.9 .8 -.7 -1.1zM383.8 639.3l1.9 1.1 -.7 1.2 -1.6 -.9zM269.9 628.9l1.3 1.3 -.8 1.2 -1.5 -1.1zM456.8 714.8l2.4 2.3 -1.6 1.2 -1.5 -1.9zM503.3 689.9l2.7 .7 -.5 1.6 -2.3 -.5zM422.9 670.9l1.5 1.4 -1.2 .9 -1.3 -1.4zM411.6 682.1l2.6 1.6 -.9 1.5 -2 -.9zM249.8 620.2l3 1.7 -.8 1.3 -2.7 -.8zM428.5 675.2l2.3 1.4 -1.2 .9 -1.4 -1.2zM378.9 641.8l2.8 2.1 -.7 .8 -2.5 -1.8zM492.3 706l3.5 1.5 -.8 .9 -2.4 -1zM321.1 636.8l3 1.5 -1 .9 -2.4 -1.1zM395.9 659.2l3.6 1.3 -1.1 1.4 -2.6 -1zM459.2 672.4l2.1 .9 -.5 1.2 -2 -.7zM339.2 626.8l2 2.1 -.6 1 -2 -1.6zM298.9 618.7l2.8 1.1 -1.2 1.6 -2 -1zM402.3 679.5l3.3 .9 -.6 1.2 -2.8 -.7zM429.9 661.5l2.1 2.4 -1.1 .6 -1.7 -1.6zM286.3 628l2.4 1.3 -.4 1 -2.6 -.9zM368.5 650.8l3.5 1 -1.1 1.4 -2.5 -.9zM479.2 698.7l2.2 .5 -.8 1.9 -2.2 -.9zM348.1 639.6l3.7 1.1 -.4 1.4 -3.5 -1.1zM468.2 674.1l1.8 1.1 -.9 1.3 -1.5 -.7zM436 698.5l2.8 1.5 -.8 .6 -2.1 -.8zM329.9 617l2.2 .7 -.9 1 -1.4 -.6zM448 675l2.1 2.2 -1.5 1.1 -1.8 -2.1zM362.1 660.9l2 1.7 -.6 1 -1.9 -1.5zM395.2 658.6l2.9 .8 -.7 1.9 -2.4 -.6zM322.7 615.8l2.3 .6 .1 1.2 -2.7 -.9zM305.7 627.7l2.2 .9 -.5 1.2 -1.5 -.5zM344.1 641.8l3 1.6 -1.2 .8 -2.4 -1.5zM314.9 619.7l1.1 1.1 -1.2 1.6 -.9 -1zM321.3 642.4l1.6 1.1 -.9 1.6 -1.6 -1.4zM402.3 654.1l2.9 2.1 -.9 1.3 -2.5 -1.8zM453.3 682.9l3.5 1.5 -1.1 .7 -2.7 -1zM483.4 697.8l3.1 1.9 -.3 1 -2.7 -1.4zM389 675.8l1.4 1.4 -1.3 1 -1.1 -1.3zM372.8 667.7l1.6 2 -1.1 .9 -1.3 -1.2zM319.2 635.2l1.5 .9 -.5 1.5 -1.6 -1.2zM377.6 643.3l2.4 2.1 -1.2 .4 -1.9 -2.1zM344.1 631.6l2.7 1.7 -1.2 1.1 -1.9 -1.1zM454.7 681l1.2 1.7 -.9 1.1 -1.1 -1.3zM336 629.6l1.4 1.6 -1.3 1 -1 -1.3zM409.6 690.7l2.9 1.8 -1.4 1.3 -2.5 -1.4zM428 666.1l2 .3 -.1 1.3 -1.6 -.4zM452.4 691.4l2.2 2.5 -1.1 1 -2.1 -2.1zM430.6 692.6l1 1.1 -.6 .7 -1.2 -1zM490.6 695.8l1.9 .8 -.6 1.8 -1.9 -1.1zM420 672.2l2.1 .7 -.5 1.6 -1.8 -1zM392.3 666.9l2.7 .9 -1 .9 -2.4 -.8zM454.5 673.8l3.5 .9 -.9 1.9 -2.4 -.5zM420.9 674.3l2.8 2.5 -1.2 .9 -2.4 -2zM434.5 676.2l1.9 .9 -.9 1.2 -1.4 -.6zM393.9 648.4l2 1.3 -.9 1.2 -2.1 -1.3zM394.3 671.6l2.3 .9 -.8 1 -1.5 -.9zM444 683.7l1.8 1.1 -.8 1 -1.4 -1.1zM547.4 725.6l1.8 .7 -.5 1.8 -1.9 -1.1zM374.7 638l1.4 2 -1.3 1.5 -1.5 -1.5zM550.6 711.6l1.8 1.6 -.9 .6 -2.1 -1.4zM320 627.3l2.9 .6 -.8 1 -2.7 -.4zM324.6 654.8l1.6 2 -1.2 .6 -1.2 -1.6zM366.1 654.7l3.3 1 -.7 1.8 -2.9 -.6zM458.8 687.5l2.6 1.8 -.7 1.8 -2.3 -1.6zM362.6 644.7l1.9 1.4 -.9 1 -1.8 -1zM328.6 638.4l3.1 1.4 -.7 .9 -2.5 -1.3zM304.8 633.7l3.3 .7 -1 1.5 -2.3 -.7zM332.2 639.2l1 1.3 -1.4 1.8 -.9 -1.2zM306.2 633.6l3.5 1.6 -1 1.5 -2.6 -.7zM413.3 658.4l1.5 .6 -.4 1.5 -1.4 -.3zM361.6 642.6l2.2 1.1 -.4 1.8 -2 -1.1zM419.6 672.2l1.6 .3 -.1 1.3 -1.5 -.1zM270.9 621.1l1.5 1.2 -.7 .7 -1.6 -1zM391.7 657l3.4 .8 -.4 1.8 -2.6 -.6zM366 632.8l1.6 1.6 -1.4 1.3 -1.2 -1.3zM389.1 657.5l1.7 1.8 -1 1.2 -1.6 -.9zM252.4 624.2l2.9 1.6 -.3 1 -2.4 -1.3zM331.7 642.1l1.5 1.6 -1.4 1.3 -1.4 -1.4zM389.9 679.8l3.3 1.7 -1.1 .6 -2.6 -1.3zM407 668.7l1.5 .8 -.2 1 -1.6 -.5zM385.5 656.5l2.7 1 -.5 .8 -2.7 -.6zM404.5 665l2 .6 -.6 1.7 -1.3 -.8zM335.7 631.8l2.7 .9 -.7 1.9 -2.1 -.9zM373.4 677.6l1.5 1.8 -1.2 1.3 -1.5 -1.7zM351.9 664.5l1.4 1.2 -.5 1 -1.5 -1.3zM337.9 635.7l2.9 2.1 -1 1.6 -3.2 -2.1zM451.2 678.3l3.4 1.5 -1.4 1.2 -2.4 -1zM413 681.5l2 1.2 -.9 1.5 -1.8 -1.1zM369.6 651.3l2.6 1 -.7 .8 -2.1 -.4zM366.7 634.1l2.7 1 -.5 .9 -2.7 -.7zM427.8 694.1l1.2 .7 -.4 1.1 -1.2 -.7zM399.7 677.5l2.1 2 -1.3 .6 -1.8 -1.7zM404.5 659.3l2.7 2.1 -1.5 1.5 -2.8 -2.2zM365.3 666.4l1.8 1.2 -1 1.3 -1.4 -.7zM312.8 646.5l3.4 1.5 -1.4 .8 -2.4 -1.2zM295.4 618.7l3.1 1.9 -.8 1.4 -2.5 -1.6zM380.4 675l1.9 1.3 -.8 1 -1.9 -1.5zM419.6 687.7l2.4 1.7 -.7 .7 -2.6 -1.9zM381.5 671.7l1.9 1.9 -1.4 .7 -1.3 -1zM381.6 658l2.9 .8 -.6 1.2 -1.9 -.4zM307.9 619.6l2.5 .6 -.5 .8 -2 -.3zM315.8 631.7l1.8 1.2 -.8 1.3 -1.6 -1.4zM340.7 648.5l1.7 2.2 -1.5 .9 -1.3 -1.8zM349.9 659.3l2 1.6 -.7 .7 -1.9 -1.2zM299.9 626.9l1.9 1.7 -.7 1.3 -1.7 -1.1zM334.2 646.5l1.6 1.6 -1.2 1.9 -1.6 -1.6zM456.7 713.6l1.6 1.4 -1.1 1 -1.1 -1zM311.1 642.2l1.4 .4 -.1 1.6 -1.4 -.6zM437.1 705.6l1.5 1.4 -.9 1 -1.7 -1.1zM396.2 677.6l2 1.9 -1.4 1.2 -1.4 -1.3zM327.8 626.8l2.6 1.1 -.7 1.4 -2.1 -.2zM387 684.9l2.9 2 -1.6 1.5 -2.1 -2.2zM463.2 715.6l1.6 .2 -.6 1 -1.2 -.3zM367.6 634.8l2.6 1.3 -.8 1.3 -2.2 -1.1zM358.9 658l1.8 1.3 -1.4 1.2 -1.5 -1.1zM340.7 650.9l2 2.1 -1.2 1.1 -2 -1.5zM322.1 653l2.4 1.1 -.6 1.8 -2.1 -1zM515.3 712.9l2.8 .9 -.1 .8 -2.5 -.5zM395.4 687.9l1.6 1 -.6 .9 -1.5 -.7zM424 686.4l1.5 1.1 -.9 .8 -1.2 -1zM386.5 645.2l2.7 .9 -.6 1.6 -2.5 -.9zM397.5 658.9l1.2 1.3 -1.9 1.3 -.6 -1.5zM273.5 625l1.4 1 -.3 1.1 -1.4 -.9zM407.5 654.7l2.2 1.6 -.6 1.1 -2.4 -.8zM421.5 660.4l2.6 1.4 -1.6 1.7 -1.8 -1.2zM355 667l2.7 .9 -.5 1.4 -2.5 -.7zM379.7 653.5l2.4 1.3 -1 1.1 -2.3 -.7zM584.7 728.1l2.5 2.5 -1.3 1.1 -2.4 -2.3zM373.6 676.9l2.5 3 -.9 .4 -2.1 -2zM340.4 647.4l2.2 2 -1.3 .4 -1.5 -1.4zM368.3 644.1l1.4 2.1 -1.3 1 -1.2 -1.3zM336.9 626.1l2.5 1.9 -1.1 1.1 -1.9 -1.8zM288.1 610.3l2 2.3 -.8 .9 -2.4 -2.5zM288.1 631.8l3.4 1.3 -.7 1.1 -3.1 -.7zM271.1 631.5l3.4 1.5 -.5 1.6 -2.7 -1.2zM265.2 614.1l2.4 1.3 -.3 1.5 -2.2 -.9zM544.9 723.4l1.4 .5 -.5 1.6 -1.2 -.6zM478.3 687.4l2.4 1.4 -1.1 1 -1.7 -.9zM467 706.5l2.4 1.7 -1 .6 -1.8 -1.4zM342.6 648l3.1 1.1 -.6 1.9 -2.9 -.9zM400.3 654.1l1.6 .7 -.7 1 -1.4 -.7zM490.4 708.5l2.6 2.1 -1.2 1.1 -2.3 -1.7zM417.4 693.9l1.9 1.2 -.9 1.3 -1.3 -1.1zM332.2 649.6l1.4 1.5 -1.3 1.4 -1.2 -1.5zM369.3 672.1l2.9 1.1 -.5 1.8 -3.4 -1.3zM370.4 677.5l2.6 1.2 -1.3 1.5 -1.7 -1.2zM511.7 710.1l1.4 .8 -.6 1.1 -1.3 -1zM491.2 695.6l2 1.4 -1.2 1 -1.5 -1.2zM282.8 617.2l3.5 2 -.8 1.2 -3 -2zM441.5 700.6l2.2 1 -.8 1.1 -1.6 -.6zM359.7 653.9l2.5 .7 -.5 1.2 -2.1 -.6zM324.6 625.3l2.6 1.8 -.9 1.4 -2.1 -1.2zM270.8 622.4l2.1 .8 -.7 1.3 -2.3 -.8zM414 661.8l2.9 1.6 -1.1 1 -2 -1.2zM441.9 666.6l2.1 1.3 -.8 .5 -1.6 -.8zM384.1 645.3l2 .7 -.2 1.5 -1.8 -.4zM352.9 629.9l2.5 1.6 -1 .5 -2.1 -1.4zM423.4 657.6l1.2 .7 -.3 1.1 -1.6 -.6zM486.1 693.5l2.5 .9 -.9 .9 -2 -.7zM365.9 634.9l1.7 .4 -.5 1 -1.2 -.4zM303.4 628.4l1.9 2.1 -1.2 1.2 -2.2 -1.9zM329.2 645.6l1.6 1.8 -1.3 1.1 -1.4 -1.5zM520.7 698.1l2.7 3.1 -1.4 .3 -1.8 -1.7zM462.9 674.6l2.7 2.3 -.9 .8 -2.1 -2zM541.5 713.6l2.2 1.9 -1.3 1.4 -2.5 -2zM449.7 675l2.7 2.4 -1.9 .7 -1.9 -2zM439 666l3 1.7 -.7 .8 -2.7 -1.6zM460.5 697.7l3.2 1 -.9 1.1 -2.7 -.6zM336.5 646.3l1.7 2.2 -1.1 .9 -1.8 -1.8zM322.6 632.6l2.4 .8 -.7 1.7 -1.8 -.7zM477.2 687.1l2.2 1.4 -.8 .9 -1.8 -1.2zM359.9 658.6l1 1.2 -1.1 1.2 -1.1 -.9zM429.3 690l3.1 1.5 -1.1 .6 -2.1 -.9zM325.3 634l3 1.7 -.9 1.1 -2.7 -1.2zM412.6 682.6l2 1.4 -1.4 1.3 -1.6 -1.1zM485.4 690.1l3.4 1.6 -1.2 1 -2.8 -1.7zM347 657.7l2.5 .9 -.8 1.8 -2 -.3zM439 675.9l3.7 2.4 -1.2 .9 -2.8 -1.8zM286.2 626.8l2.3 1.7 -1.1 1.4 -2.4 -1.7zM327.7 620.3l1.8 1.1 -1 1.1 -1.5 -.6zM339.3 662.2l1.5 1.6 -1 .6 -1 -1.1zM426.2 678.6l2.3 2.6 -1.5 1.1 -2.2 -1.7zM382.4 679.7l1.3 1.6 -1.2 1.2 -1.6 -1.6zM317.4 637.4l1.9 1.1 -.4 1.1 -1.7 -.7zM375.9 658.5l2.9 1 -.5 .9 -3.1 -.8zM460.3 711.7l2.5 1.7 -1.1 .9 -1.9 -1.3zM355.3 667.5l2 1.4 -.8 1 -1.4 -.8zM284.4 617l3.4 1.2 -.8 1.6 -3.1 -1.4zM389 678.3l1.7 .9 -.7 .8 -1.1 -.7zM505.9 697.1l2 2 -1.3 .9 -1.9 -1.5zM509.3 694.5l2.5 2 -.7 .9 -2.2 -1.9zM342.6 650.4l2.7 1.1 -.3 1.6 -2.6 -.8zM365.8 645.9l1.1 1.3 -1.6 1.2 -1 -1.3zM286.1 635.5l1.9 .4 -0 .9 -1.8 -.3zM415.8 671.4l2.2 1.9 -.9 .5 -1.9 -1.2zM354.4 636.7l2.6 1.5 -.7 1.5 -2.3 -1zM460.2 715.4l3.1 .7 -.3 1 -2.6 -.6zM492.4 707.8l1.4 1.7 -1.1 .9 -1.2 -.8zM302.7 640l2.6 1.4 -1.2 1.6 -1.6 -1.3zM407.1 687.8l2.3 3.1 -1.5 1 -2.1 -2.5zM310.3 615.5l2.8 1.9 -1.3 1.1 -2.2 -1.5zM320.9 642.9l2.3 .5 -.4 2 -2.3 -.4zM283.8 624.3l2.3 1.7 -.9 .8 -1.8 -1.4zM495.4 701.3l3.3 .9 -1 1.4 -2.7 -.8zM340.4 624.6l2.9 2.9 -1.5 1.5 -2.1 -2.3zM443.3 698l2.9 1.8 -1.3 1.3 -1.9 -1.4zM318.6 626.2l3.6 .9 -1 .7 -2.4 -.3zM360.8 656.5l3.2 .4 -.8 1.8 -2.7 -.5zM333.8 617.5l2.5 .3 -.1 1.2 -2.8 -.4zM294 620.2l2.8 1.2 -.9 1.3 -2.5 -1.3zM444.6 708l2.1 2.2 -1.1 1 -1.9 -2zM276.6 627.2l2.5 2.5 -.9 .7 -2.5 -1.7zM452.4 708.4l1.5 1.6 -.8 .7 -1.6 -1.5zM395.1 653.2l2.9 .9 -.8 1.9 -2.8 -1zM388.5 662.7l1.9 1.8 -.4 .8 -2.1 -1.7zM332.3 649.5l2.8 1.7 -1.3 1 -2.3 -1.2zM421.9 666.7l3.2 2 -1.4 1.1 -2.8 -1.6zM528.1 713.5l2.4 1.5 -.7 1.3 -2.6 -1.1zM299.6 630.4l2 1.2 -.7 1.5 -2 -1.3zM406.1 674.4l2 .5 -.3 .7 -1.7 -.2zM314.2 635.9l2.1 1.6 -.4 1.2 -2.3 -1.5zM493.6 695l1.7 .6 -.5 1 -1.3 -.4zM417.4 660.1l1.6 .7 -.1 1.7 -1.8 -.5zM386.7 647.6l3 .7 -.3 .9 -2.8 -.3zM284.5 617.7l1.8 1 -1 1.3 -1.9 -1zM419.8 661.2l1.8 1.8 -.9 .8 -1.9 -2zM408.2 691.9l1.6 .6 -.4 1.4 -1.4 -.6zM435.1 688.7l3.3 .5 -.9 1.3 -2.7 -.7zM313.2 632l1.5 .7 -0 .9 -1.7 -.5zM388.1 645.6l1 1.3 -1.1 .8 -.8 -.9zM286.5 632.1l1.9 1.4 -.7 .7 -1.6 -1.3zM458.3 678.6l1.9 .8 -.8 1.3 -1.7 -.5zM499 693.7l1.4 1.7 -1 .6 -1.5 -1.6zM416.4 673.4l2.8 2 -.9 1.2 -2.4 -1.3zM462.2 677.5l3.3 1.5 -1 1.1 -3.2 -1.7zM323 624.5l2.1 .9 -.7 1.1 -2.1 -.9zM310.9 618.4l2.2 1.3 -.9 .9 -1.7 -.9zM384.2 670.7l2.8 1.3 -1 1.4 -2 -.8zM450.6 676.4l3.9 .8 -1.1 .8 -2.8 -.5zM257.8 626.3l2.3 1 -.7 1.6 -2 -1zM435.1 685.3l2.6 1.4 -.6 1.8 -2.1 -1.2zM458 687.8l2.9 2.7 -1.1 .8 -2.3 -1.8zM405.7 657.6l2.8 .7 -.2 1.6 -2.9 -.9zM323 629.7l2.7 2.3 -1.9 1.2 -2.3 -2.1zM413.5 684l3.3 1.7 -1.1 1.3 -2.7 -1.8zM292.2 638.5l1.9 1.2 -.9 1.1 -2 -1.2zM410.9 658.6l2.5 1.5 -.4 1.4 -2.8 -1.4zM330.9 646.2l2.9 1.5 -.9 1.7 -2.6 -1.4zM320.6 651.2l2.9 .6 .1 1.3 -3.3 -.6zM538.5 716l1.7 .3 -.2 1.1 -1.5 -.3zM277.9 616.1l2.7 .5 -.6 1.8 -1.8 -.5zM315.4 640.4l1.6 1 -.6 1 -1.3 -1.1zM462.7 680.3l2.6 .8 -.8 1.1 -1.9 -.3zM398.7 647.3l3.2 1.7 -1.3 1 -1.9 -1.3zM395.3 658.3l2.6 1.8 -.9 1.6 -2.2 -1.5zM419.9 694.3l2.9 1.8 -1.1 1.1 -2.9 -1.9zM377 670.5l1.8 1.9 -1.1 .9 -1.9 -1.9zM485.2 685.2l3.7 .8 -1.3 1.9 -2.7 -.6zM393.5 653.3l2 1.9 -1.4 .7 -1.4 -1.1zM306.3 619.2l3.2 .9 -0 1.6 -2.7 -.7zM450.8 714.8l3.1 1.2 -.6 1.1 -2.7 -.9zM389.7 660.2l2 .5 -.3 1.8 -1.9 -.6zM327.5 635.7l1.9 1.1 -.4 .8 -2.2 -1.2zM294.6 632.4l2.1 1.3 -.5 1.2 -2 -.8zM362.8 661.6l2.3 1.9 -1.2 .9 -2 -2zM479 698.2l1.9 .7 -.2 .8 -1.9 -.6zM392.8 664.9l2.5 1.8 -1.5 1 -1.4 -1.4zM421.2 670.7l1.7 .7 -.4 1.8 -1.6 -.4zM366.5 667.3l2.8 2 -1.2 1.1 -2.1 -1.5zM419.8 674.7l3.6 1.3 -.8 .9 -2.6 -.9zM395.2 660.1l2.5 1.6 -1.2 1.3 -1.9 -1.7zM333.7 645.3l2.3 1.4 -1 1.4 -1.5 -1zM366.5 666.4l2 .7 -.6 .8 -1.4 -.4zM348.3 632.2l2.1 1.7 -.9 1 -1.7 -1.4zM314.4 621.4l2.9 .8 -.6 1.9 -2.1 -.8zM281.8 628.7l3 1.2 -.9 1 -2.3 -.7zM370.3 667.3l3.3 .8 -.6 .9 -2.1 -.7zM405.5 654.3l1.7 .6 -.3 1.3 -1.7 -.8zM278.3 623.5l1.6 .5 -.6 .9 -1.3 -.5zM352.8 643.4l1.4 1.3 -1 1 -1.3 -1zM286 625.7l2 1.2 -.9 1.3 -1.7 -.9zM307 634.6l2.6 1.6 -1.1 1.4 -1.8 -1.3zM345.6 652.5l1.9 1.4 -.9 1.4 -2.2 -1.2zM422.5 683.1l2.6 2.3 -1.2 1.4 -2.5 -1.8zM401.8 648.1l2.4 .7 -.6 1.2 -1.7 -.3zM263.1 616.1l2.2 2.6 -1.3 .8 -1.7 -1.7zM470.5 686.1l1.6 1.1 -1.2 1.5 -1.5 -1.4zM363.7 657.3l2.7 .5 -.5 1.6 -2.7 -.3zM502.5 689.6l1.6 .9 -.7 1.6 -1.7 -.5zM417.8 690.6l2.3 1.1 -.9 1.5 -1.7 -.7zM391.9 643.3l2.8 .8 -.2 1 -3 -.5zM430.2 663.8l2.9 1.9 -.7 1 -2.5 -1.7zM288.9 627.2l1.7 1.6 -.6 .8 -1.6 -1.4zM293 622l2.5 2.3 -.7 .4 -2.4 -1.9zM364.8 630.2l2.5 .5 -.4 2.2 -2.5 -.7zM327.3 648.6l2 .8 -.8 1.4 -1.6 -.8zM329.9 635.9l2.5 1 -.4 1.2 -2 -.7zM359.1 643.2l3.6 1 -.5 1 -3.1 -.5zM344.5 655.1l2 .8 -.4 1.1 -1.9 -.8zM381.2 681.6l1.3 1.6 -1 1.1 -1.4 -1.4zM307.4 649.1l3.1 .9 -.8 .8 -2.3 -.8zM528 725.3l2.2 1.6 -.6 .8 -2.6 -1.6zM511.2 696.5l2.5 1.1 -.9 1.4 -1.9 -.7zM454.8 679.2l3.4 1.3 -.6 1 -3 -1.2zM419 679.9l2.4 1.7 -1.1 1 -2.1 -1zM471.2 681.7l2.7 1.3 -1 1.3 -1.7 -.9zM445.3 696.6l4.1 .6 -.7 1.1 -3.4 -.7zM469.7 724.1l2.5 .7 -.6 .9 -2.5 -.6zM286 628.1l2.4 .8 -.6 1.1 -1.9 -.7zM306.4 630.6l2 2.3 -1.1 1.2 -2.1 -2.2zM304.3 623.9l2.5 1.4 -1.1 .7 -2 -1.3zM343.5 651.4l3 1.2 -.8 1.8 -2.4 -.8zM473.7 683.3l1.6 .8 -.6 1.5 -1.6 -.9zM345.2 643.8l2.1 1.7 -1.3 1.2 -1.6 -1.4zM452.7 677.1l3.6 1.1 -.8 1.6 -2.8 -.8zM474.7 698.5l1.6 1.1 -.8 1.6 -1.5 -1.2zM404.8 679.6l3.6 1.9 -1.4 1.3 -2.5 -1.4zM335.2 622.3l1.9 2.3 -.7 .6 -2.1 -2.1zM310.8 623.2l1.6 2 -1.3 .8 -1.4 -1.5zM380.8 661.8l.9 1.4 -.9 .9 -.8 -1.1zM297.9 633.1l1.4 .8 -.5 1.4 -1.4 -.4zM286.2 630.7l1.9 .3 -.4 1.3 -1.6 -.5zM396.8 650l1.4 1.4 -.8 1 -1.2 -.9zM373.1 644l2.7 .9 -.1 1.4 -2.7 -.8zM352.6 647.8l3.2 1.5 -.7 1.2 -3.1 -1.4zM294.6 633.6l3.6 1.5 -.9 1.5 -3.1 -1.3zM349.9 649.9l2.3 .7 -.2 1.1 -2.5 -.7zM404.5 680.3l1.9 .5 -.7 1.4 -1.7 -.4zM385.2 670.7l1.1 1.4 -.7 .9 -1.3 -1.3zM347.8 631.2l2.6 .5 0 1 -2.7 -.4zM468.5 685.1l2.2 1.6 -.4 1.1 -2.5 -1.6zM539.5 733.2l2.3 2.3 -1.6 .8 -1.3 -1.6zM471.1 696.6l3.9 1.3 -.6 .8 -3.3 -1zM347.6 625.4l2 1.3 -.8 1.1 -1.7 -1.2zM397.2 653.6l3.1 1.8 -.7 .7 -2.3 -1.2zM418 699.4l1.9 1 -.6 1.4 -1.4 -.1zM496.1 688.6l1.8 1.2 -1.7 1.6 -1.1 -1.5zM383.5 678l3.8 .8 -1 1.8 -2.4 -.8zM310.2 636.2l2.6 1 -.8 1.5 -2.1 -.7zM499.2 696.5l2.3 .3 -.3 .9 -1.7 -.2zM473.5 677.6l2.8 2.8 -1.3 .2 -2.2 -2zM296.9 637.4l1.7 1.6 -.7 1.2 -1.7 -1.5zM438.6 703.3l1.8 .8 -.5 1.4 -1.4 -.8zM436.4 704.2l1.3 1.8 -1.4 1 -.7 -1.3zM392.8 651.8l2.8 2.4 -1.5 .8 -2.4 -2zM245.7 614.2l2.1 .9 -.5 1.5 -1.9 -.5zM373.7 671.2l2 1.4 -.7 1.5 -1.8 -1.1zM386.4 663.3l2.5 1.1 -.9 .9 -2.1 -.9zM371.3 659.5l1.7 1.3 -.7 1 -1.4 -.9zM419.9 655.2l2.7 .9 -.3 1.5 -3 -.5zM387.9 680.3l2.1 2.1 -1.1 1.5 -2.2 -2.7zM451.7 687.5l3.3 1.3 -1 1.6 -2.8 -1zM415.8 673.7l2.1 2.3 -1.4 .9 -1.9 -2.3zM404.8 646.9l1.4 1.4 -1.3 1.4 -1.1 -1zM354.8 655.5l2.5 .7 -.5 1.5 -2.2 -.3zM363.6 660l3.5 1.3 -1.1 1.6 -2.9 -.7zM450.5 712.8l3.2 1.5 -.7 1 -2.3 -1zM483 684l1.9 .7 -.8 1.6 -1.3 -.7zM415.2 688.4l2.9 1.6 -.9 1.7 -3.1 -1.6zM420 662.5l3.3 1.2 -1 1.2 -3 -.7zM389.9 653.6l3.1 2.5 -1.3 1.2 -2.5 -2zM354.9 665.4l3.2 1.5 -.6 1.1 -3.1 -1.5zM323.6 614.5l2.8 1.5 -.2 1 -2.8 -1.3zM461.7 711.8l2 2.4 -1 1 -1.9 -1.9zM458.2 682l2.3 2.2 -1.2 .7 -1.8 -1.5zM531.1 737.3l3.4 .8 -.9 .8 -2.5 -.3zM372.3 657.6l2 2 -1.1 .7 -1.4 -1.6zM451.1 708.4l3.1 .9 -.4 1.4 -2.6 -.6zM275.7 619.5l2.1 2.6 -1.6 .5 -2.1 -1.9zM436.9 690.2l1.4 1.4 -.9 .7 -1.6 -1zM326.2 626.8l1.7 1.7 -1.7 1.5 -1 -1.3zM360.3 644.1l3.1 .6 -.5 1.9 -3.3 -1.1zM296.5 616.5l1.8 .7 -.5 1.2 -1.6 -.4zM333.6 618.2l2.6 1.5 -.6 1.5 -2.5 -1.5zM299.5 612.6l2.4 .5 -.5 1.2 -1.9 -.5zM311.5 646.3l1.6 .6 -.3 1.9 -1.4 -.5zM353.1 666.8l2.6 1.5 -.8 1.5 -2.5 -1.5zM252.2 622.8l1.6 1.4 -1.1 .9 -1.2 -1.1zM309.2 644.9l1.3 1.4 -.5 1 -1.5 -1.5zM440.9 696l1.8 2.5 -1.5 1 -1.3 -1.9zM349.7 647.4l2.1 2.1 -.8 .6 -2 -1.6zM469 705.1l2.9 1.6 -.8 1.7 -2.5 -1.7zM393.2 672.1l3.3 1.6 -.9 1.2 -2.7 -1zM320.4 647.3l2.6 2.4 -.8 .9 -2.3 -2.4zM288.1 619.9l1.6 .4 -.6 1.2 -1.3 -.5zM289.5 636.7l1.2 1.3 -1 1.4 -1.4 -1.8zM420.2 655.8l3.1 1 -.4 1.8 -3.1 -.7zM298.2 637l2.5 2.7 -1 .7 -2 -2.3zM460.9 700.3l2.1 .9 -.6 1.4 -1.6 -.8zM309.7 642.9l2.9 2 -1.9 1.2 -1.8 -1.3zM407.7 655.7l1.9 .9 -.6 1.2 -1.6 -.5zM332.9 645l2.8 1 -.5 1.6 -2.5 -.4zM504.2 695.2l1.6 .5 -.2 1.6 -1.6 -.5zM251 620.4l1.6 1.7 -1 .6 -1.3 -1.1zM357.4 660.4l1.4 .5 -.4 .9 -1.4 -.4zM433.6 675.5l1.9 1.5 -1.2 1.4 -1.7 -1.2zM329.9 655.6l1.3 .8 -.4 .9 -1.6 -.6zM348.6 623.2l2.5 1.1 -.7 1.4 -2.2 -.7zM277.1 615.9l2.8 .5 -1 1.1 -2.1 -.6zM422 680.1l2 .9 -1.2 2 -1.4 -1.2zM415.3 684.9l2.1 1 -.1 .9 -2.2 -.7zM339.7 649.1l1.3 1.5 -.9 .9 -1.3 -.8zM399.2 676l1.8 1.9 -1.1 .5 -1.8 -1.8zM334.6 633.2l2.3 1.2 -0 .9 -2.6 -.9zM402.5 646.1l1.7 2 -1.3 .7 -1.2 -1.5zM368.6 656l2.2 2.4 -1.5 .7 -1.8 -1.8zM313.1 623.2l2.6 1.6 -1.2 1.3 -1.8 -1.3zM436.9 696l2.2 .6 -.5 1.2 -2.3 -.4zM365.7 668.8l1.7 1 -.7 .8 -1.2 -.7zM301.9 634.7l2.5 1.5 -.8 1.4 -2.3 -1.5zM410 666.6l3.7 1.9 -1.5 .4 -2.5 -1.2zM558.9 724.6l2.2 1.7 -1 .4 -1.8 -1.2zM381.7 668.5l2.7 .8 0 1 -2.8 -.3zM477.1 703.8l3.5 1.9 -.7 .5 -2.6 -1.2zM269.8 613.2l2.9 1.4 -.9 1.2 -2.2 -1zM317.8 622.5l1.5 .4 -.3 1.2 -1.5 -.7zM439.2 668.2l3 1.8 -1.5 1.5 -2.5 -1.4zM349.6 643.2l3.8 2.2 -1.1 1.1 -2.6 -1.5zM411.6 662.3l2.6 .7 -.4 1.5 -2.3 -.6zM345.9 659.7l1.9 1.4 -1.1 1.5 -1.4 -1.4zM331.3 627.1l2.2 2.2 -.7 1.5 -3 -2.1zM351.8 634.2l2.7 1 -.5 1.1 -2 -.6zM459.4 677.5l1.8 .9 -.5 1.4 -1.6 -1.3zM427.1 697.8l2.9 1.5 -.7 1.8 -2.9 -1.6zM376.3 654l2.9 2.4 -1 .8 -2 -1.5zM415.3 679.8l1.8 .7 -.5 1.5 -1.5 -.6zM348 642.5l3.4 .6 -.4 1.7 -2.7 -.8zM496.6 713l1.6 1.5 -1.2 .9 -1 -1.1zM311.4 650.7l2.5 1 -.9 1.4 -2 -.6zM460 694.4l1.8 1.2 -.8 1 -1.2 -1.3zM327.1 642.4l2.5 1.6 -1.2 1.4 -1.8 -1.2zM411.1 653.6l2 1 -.8 1.5 -1.6 -.7zM301.2 641l2.7 2.9 -1.2 1.1 -2.1 -2.1zM403.8 661.5l1.4 .6 -.4 1.1 -1.3 -.4zM378.7 654l1.4 1.8 -1.3 1.1 -1.4 -1.6zM330.5 632.9l2.6 1.4 -.8 .7 -1.9 -1zM467.1 698.1l3.1 1.4 -.7 1.4 -2.4 -1zM352.2 630.6l1.3 1.5 -1.1 1.5 -1.6 -1.6zM286.4 638.3l2.7 .2 -.3 1.3 -2.8 -.5zM311.3 625.4l2.8 1.7 -1.1 .7 -2.1 -1.6zM441.8 674.6l2.3 2.6 -1.3 .5 -2 -1.7zM369.1 635.2l2 1.1 -.8 1 -1.8 -.9zM249 621.7l2 1.4 -1 1.7 -1.8 -.9zM334.7 623.6l1.8 .9 -.7 1.5 -1.5 -.6zM383.7 648.1l2.6 1.2 -.2 .8 -3 -1.1zM357 663l1.6 1.1 -.7 1.1 -1.3 -.7zM374 664.2l2.9 .8 -.2 .8 -2.2 -.3zM446.7 669.9l2.1 2.1 -1.5 .7 -1.3 -1.5zM420.7 699.2l2.7 1.8 -1.4 1.3 -2.2 -1.3zM339.8 631.6l1.3 1.9 -.9 .6 -1.5 -1.3zM394.8 667.5l2.7 1.3 -.7 1.3 -2.1 -.3zM366 671.1l3.1 2.9 -1.4 .5 -2 -2.1zM387.7 668.9l2.5 .5 -.3 1.3 -1.8 -.5zM319.5 632.5l1.5 .9 -.4 1 -1.4 -.8zM304.4 641.4l1.8 .6 -.8 1.3 -1.2 -.4zM386.7 682.8l2.3 1.7 -1.1 .7 -1.9 -1.3zM304.1 613.6l2.7 1.7 -.7 .7 -3 -1.5zM300 611.7l1.5 .7 -.8 1.2 -1.4 -.6zM309.6 645.4l1.7 1.8 -1.4 1.2 -1.4 -1.7zM291.9 612.1l3 1.6 -1.2 1.2 -2.4 -1.4zM325.6 634.9l3.7 .6 -.8 1.2 -3.2 -.4zM394.8 662.6l1.5 1.1 -.8 1.3 -1.5 -.8zM303.4 620l2.7 2.1 -1.2 1.1 -2.4 -1.9zM442.1 667.8l3.5 2.9 -1.5 .5 -2.5 -2.3zM257.7 624.8l3.5 .9 -.8 1 -2.2 -.7zM442.4 701.8l2.4 .9 -.9 .9 -1.7 -.6zM306.6 622l1.8 1.4 -.9 .9 -1.4 -1.2zM369.2 665l2.8 2.2 -.9 .5 -2.3 -1.8zM353.5 659l2.9 1.6 -.8 1.1 -2.7 -1.5zM380.6 678.1l2.1 1.1 -.6 1.2 -1.8 -.9zM319.9 619.7l2.2 1.6 -1 1.2 -1.8 -1.4zM417.4 665.4l1.2 1.2 -1 1.2 -1.3 -1.1zM465.2 699.6l2.8 .6 -.5 1.6 -1.9 -.7zM400 682.4l1.9 1.6 -.5 1 -2.2 -2.2zM385.3 670.2l1.5 .5 -.2 1.6 -1.7 -.4zM349.8 640.6l2.9 2.8 -1.6 1.2 -2.5 -2.6zM324.4 613.7l2.6 1.4 -.7 1.8 -2.6 -1.4zM357.2 655.1l2.4 2.4 -.8 1.4 -2.8 -2.2zM329.5 633.4l2.2 .7 -.7 1.5 -1.4 -.4zM401.9 647.1l1.6 1.3 -.5 .8 -2 -.9zM353.6 627.4l2.3 .8 -.5 1.2 -2.1 -.8zM346.6 644.4l2.2 .2 -.6 1.1 -1.5 -.2zM480.4 709.3l2.9 .6 -.6 1.2 -2.3 -.6zM368.4 664.2l1.9 1.8 -1 1.1 -2.3 -2.1zM308.8 620.4l2.2 1 -.2 1.1 -2.3 -.9zM451.4 697.2l2.2 1.3 -.9 1.6 -1.8 -1.1zM358.8 658.1l2.5 1.5 -.4 1.6 -2.7 -1.3zM364.5 659.2l1.7 1 -.3 1.2 -1.9 -.9zM445.6 667.3l2.1 .5 -.6 1.4 -1.6 .1zM333.3 640.2l3 2 -1.2 .7 -2.8 -1.6zM403.7 648.9l2.2 1.6 -.7 1 -1.7 -1.3zM379.6 644.7l2.2 1.7 -1.2 1.1 -1.7 -1zM519.9 732l2.8 .8 -.3 1.7 -2.9 -.6zM414.8 663.7l1.7 .5 -.2 .8 -1.5 -.2zM410.5 666.4l3.5 1.9 -.7 1.3 -2.8 -1.5zM342.3 651.4l1.8 .9 -.3 1.8 -1.8 -.5zM331.7 632l2.6 1.7 -1 .6 -2 -1.1zM326.1 634.4l1.6 1.2 -.8 .6 -1.3 -.9zM455.1 691.3l1.8 2 -1.1 .6 -1.8 -1.6zM438.2 661.8l1.9 1.3 -1.2 1.1 -1.6 -1.3zM344.3 630.5l1.5 1.8 -1.5 .9 -.9 -1.2zM344.8 642l1.5 .9 -.4 1 -1.5 -.6zM447.7 682.7l2.8 1.9 -1.3 .9 -2.6 -1.1zM317.1 644.9l1.5 1.4 -.7 .9 -1.5 -1.2zM431.4 660.1l1.7 .4 -.1 1.2 -2 -.5zM412.7 659.9l2.1 2 -1.3 .4 -1.6 -1.6zM378.4 676.1l1.4 1.2 -.9 1.4 -1.3 -1.1zM378.9 648.8l2.9 1.9 -.6 1.7 -2.5 -1.3zM334.4 620.7l2.7 1 -.8 1.3 -2.6 -1zM395.7 657.6l2.5 1.1 -.5 1.4 -2.3 -.9zM288.8 612.5l1.3 1.1 -1.1 1.3 -1.2 -.9zM420.7 670.8l3.8 .9 -.7 1.6 -3 -.6zM507.9 698.4l2.5 .6 -.4 1.1 -2.5 -.6zM407.2 675.3l1.5 1.5 -.8 1.5 -1.8 -1.6zM429.9 679l3.7 .7 -.5 1.3 -3.3 -.4zM407 692l2.1 1 -1.1 1.6 -1.4 -1.2zM319.8 616.9l3.6 .8 -.8 1.2 -3.1 -.7zM474.7 680.4l1.9 1.3 -.8 1.8 -1.9 -1.2zM318.4 649.4l1.6 1.6 -1.4 1.2 -1.3 -.8zM279.3 617.3l1.8 1.9 -1.3 .5 -1.3 -1.2zM466 683.9l2.9 1.1 -.5 1.5 -3.3 -.8zM375.3 668.9l3.4 .6 -.6 1.4 -2.8 -.5zM374.2 666.2l2.7 1.8 -1.3 1.3 -2.1 -1.6zM303 619.4l2.1 .8 -.6 1.6 -1.6 -.7zM360.2 654.8l2.8 2.5 -1.1 .8 -1.9 -1.9zM300.2 614.1l3.3 .9 -.6 .9 -3.1 -.6zM418.1 662.4l1.4 1 -.7 1.6 -1.3 -.7zM372 636.5l1.4 1.3 -1 1.4 -1.2 -.7zM331.4 623.8l2.6 1.8 -1.1 .8 -1.7 -1.5zM379.3 656.8l1.2 1.2 -1 1.5 -1.2 -.7zM322.8 640.1l2.8 1.2 -.6 1.3 -2.9 -1.2zM496.9 715l2.4 3.1 -1.4 .7 -1.8 -1.7zM459.4 712.5l2.9 .2 -.7 1.7 -1.9 -.5zM428.6 677.8l2.8 1.7 -.8 1.1 -2.7 -1.4zM313 631.2l3 3.3 -1.7 .4 -2 -2.4zM279.6 628.3l2.1 2.8 -1.4 .4 -2.1 -1.9zM274.1 627.2l2.2 1.6 -1 2.1 -2.6 -2.3zM351.6 641.4l2.9 1.4 -.7 1.4 -2.4 -1.1zM325.9 644.6l2.3 .8 -1.1 1.5 -1.7 -.8zM378.3 658.8l2.9 1.7 -1 .7 -2.5 -1.5zM278.1 631.8l1.9 .5 -.5 1.4 -1.7 -.5zM337.5 638.2l2.2 1.9 -1.7 1 -1.6 -1.7zM330.3 640.7l2 1.6 -.9 .9 -2 -1.5zM464.5 692.4l2.9 2 -.9 1.6 -2.3 -2zM260.1 623.8l2.8 1.4 -1.5 1.8 -1.9 -1.4zM425.1 677.2l1.5 1.3 -.8 .8 -1.2 -.8zM355.7 645.2l2.1 1.1 -.7 1.6 -1.5 -1.2zM390.3 681.5l1.8 2 -1.2 .9 -1.6 -1.4zM372.1 636.2l2.8 .5 -.5 1.3 -2.2 -.4zM270.1 620l3 1.6 -.5 1.2 -2.9 -1.5zM534.9 733l3 .9 -1 .9 -2.2 -.7zM507 701.8l2.1 1.3 -.5 1.3 -1.9 -1zM467.1 689.8l1.9 2 -.8 1.2 -1.9 -1.9zM399.9 664.6l2.8 .5 0 2.1 -2.6 -.6zM309.3 633l1.7 2 -1 .9 -1.4 -1.8zM409.8 688.9l1.8 1.4 -1.1 1.4 -1.9 -.8zM444.9 664.8l3.6 .9 -.8 1 -2.5 -.5zM338.1 662.9l2.6 .4 -.7 1.1 -1.7 -.3zM406.1 685.7l2.1 2 -1.5 1.5 -1.3 -2zM366.6 657.3l1.9 .3 -.2 1.2 -1.7 -.5zM391.1 665l3.4 1.5 -1.5 1.1 -2.9 -1.5zM480.2 694.6l1.7 2.3 -1.3 .5 -1.4 -1.4zM345.7 656.6l2.7 1.2 -.8 .9 -2.2 -.7zM394.5 656.3l1.9 1.1 -.7 1.1 -1.9 -.8zM389.6 680.3l3.4 .5 -1 1.3 -2.1 -.5zM433.6 707.6l1.9 .8 -.8 1.3 -1.3 -.7zM490.4 704.1l1.8 2 -1.4 .5 -1.5 -1.7zM414.2 651.4l1.9 2 -1.1 .3 -1.6 -1.4zM345.9 655.8l2.8 2.2 -1.2 .7 -2.6 -2.1zM432.2 701.5l1 1.1 -.4 .8 -1.5 -1.2zM490.8 684l2 .5 -.5 1.7 -1.6 -.3zM301.4 622l1.5 1.6 -1 1.7 -1.7 -1.3zM389.9 654.8l2.2 1.8 -.7 1.3 -2.4 -2.2zM287.6 624.8l1.2 1 -.8 1.4 -1.1 -1.2zM286.8 635.2l2.9 1.7 -1.3 1.2 -1.9 -1.4zM378.4 648.9l1.7 1.8 -1 .5 -1.6 -1.4zM454.2 679.8l2 .7 .1 1.3 -2.5 -.1zM460.3 690.1l2.8 .6 -.3 .9 -2.1 -.5zM505.3 704.8l2.3 1.6 -1.1 1.7 -2.3 -1.2zM445.7 678.9l2.9 3 -1.3 -.2 -1.9 -1.7zM327.9 630.4l2.7 .7 -.2 1.3 -2.7 -.7zM442.5 680.5l2 1.3 -1.4 1.3 -1.3 -1.3zM288 628.6l2 .7 -.3 1.7 -1.7 -.1zM434.2 703l2.6 .8 -.8 1.5 -2 -.6zM307.7 637.2l1.6 1.6 -1 .8 -1.5 -1.5zM352.8 667.9l2 .7 -.6 1.2 -1.6 -.5zM348.9 652.3l1.8 .7 -.7 1.3 -1.7 -.6zM327 626.3l3.5 1.6 -1.2 1.7 -2.6 -1.6zM479.2 705l1.5 1.4 -1.4 1.2 -1.3 -1.2zM355.8 628.5l3.8 .8 -.7 1.5 -2.9 -.4zM324.5 654.7l1.7 1.9 -1.3 .5 -1.6 -1.5zM350.9 629.1l3.1 .8 -.9 1.7 -2.5 -.8zM523.7 702l1.7 1.1 -.5 1.2 -1.4 -1zM444.4 683.3l2.8 2.1 -1.5 1.5 -3 -1.9zM351.3 628.9l1.7 1.1 -.6 1 -1.2 -.5zM461.9 707.4l1.6 1 -.8 1.6 -1.6 -1zM341.5 660.1l1.2 1.1 -.9 1.2 -1.1 -1.1zM280.5 622.4l4.1 1.2 -.9 1.5 -2.7 -.8zM389.9 659.9l2.7 1.1 -.8 .8 -2.4 -.9zM300 631l1.9 1.9 -1.2 1.1 -2 -2.4zM328.9 654.6l1 1.8 -1.1 1.3 -1.2 -1.6zM492.3 712.5l1.3 1.5 -1.1 1.5 -1.3 -1.2zM423.4 672.9l1.7 1.5 -1.1 1.3 -1.8 -1.1zM445.1 675.7l1.4 1.5 -1 1.3 -1.6 -.9zM310.1 606.2l2.8 2.3 -1.7 1.2 -1.7 -2zM343.8 661.9l2.4 1.2 -1 1.1 -1.8 -.9zM292.6 630.9l1.7 .8 -.5 1 -1.3 -.7zM506.4 736.4l3.1 2.2 -.7 1.4 -2.6 -1.7zM445.7 682.4l4 .4 -1 1.8 -2.7 -.4zM406.9 674.9l1.3 1.4 -1.2 1.5 -.9 -1.3zM386.7 641.8l2.6 2 -1 1 -2.1 -1.2zM425.5 659l2.7 1.6 -.8 1 -2.7 -1.7zM393.8 668.5l2.6 1.1 -.6 1.1 -2.4 -.9zM468.7 679.7l3.3 2.5 -1.6 .5 -2.5 -1.8zM313.2 644.6l1.6 .5 -.2 1.2 -1.7 -.6zM483.8 713.4l2.2 .6 -.6 1.7 -2 -.7zM269.2 629.4l2.4 1.1 -1 1.1 -2.2 -1.1zM348.2 648.5l1.1 1.4 -.6 1 -1.6 -1.2zM411.6 663.2l2.8 2.7 -1.2 .4 -2.3 -2zM311.9 625.9l1.3 1.5 -1.2 .8 -1 -1.4zM316.8 616.2l2.8 1.1 -.5 1.3 -2.2 -1.2zM341.7 625.8l2.2 1.8 -1 1.4 -1.5 -1.2zM315 616.6l1.4 1.3 -1.6 1.2 -.9 -1.1zM353.6 665.7l1.6 .6 -.2 1.6 -1.7 -.7zM276.3 633.8l1.6 1.7 -.7 .8 -1.5 -1.6zM283.7 615l3.4 1.3 -.8 1.7 -3.2 -1.6zM480.8 700l2.7 .7 -.3 1.5 -2.8 -.5zM348.1 623.3l3.3 2 -1.2 .5 -2.8 -1.6zM488.5 692.9l1.8 1.9 -1.6 .8 -1.5 -1.1zM427 671.6l1.1 1.5 -1 1.4 -1.2 -.8zM427.8 701.5l1.6 1.7 -1.2 1.3 -1.3 -1.8zM469.1 674.9l2 .9 -.4 1.5 -2 -.3zM407 667.5l3.6 1.7 -.8 1 -2.4 -1.3zM502.2 712.2l2.5 2.3 -1.4 .5 -1.9 -1.3zM260.6 597.4l2.3 2.3 -.9 1.3 -1.7 -1.7zM456.4 669.4l1.8 1.2 -1.1 .8 -1.2 -1.1zM404.4 662.8l1.7 1.3 -.8 1.1 -1.5 -.8zM390.3 674.1l1.7 .6 -0 1.1 -1.6 -.3zM439 683.7l1.5 1.5 -1 1.1 -1.4 -1zM399.1 686.2l2 1.9 -.5 .8 -2.7 -1.7zM314.4 629.9l3.2 1.5 -1.5 1.2 -2.7 -1.4zM424.3 656.9l1.9 1.6 -1.3 1.3 -1.3 -1.3zM274.8 622.9l2.3 1.5 -.6 1.1 -2.5 -1.3zM469.6 698l1.5 .7 -.6 1.6 -1.5 -.8zM284.4 638.5l1.7 1.1 -.7 1.2 -1.8 -.8zM450.1 704l2.6 2.3 -1.3 .6 -1.8 -1.6zM310.8 631.6l2.6 .6 -1.1 2 -2 -.7zM317.8 627.1l1.8 1.2 -.8 1.1 -1.7 -.8zM393.9 688.8l1.5 .4 -.4 1 -1.6 -.4zM420.4 691.7l1.5 1.5 -.7 .6 -1.4 -1.2zM315.3 649.9l1.9 .7 -.6 1.2 -1.5 -.3zM478.8 686.3l3.1 1.6 -.7 1.1 -2.6 -1.3zM325.5 616.8l2.4 1.5 -1.1 1.1 -2.1 -1.1zM364 639.5l2.3 1.4 -.8 1.1 -1.9 -1.5zM566.2 722.6l2.6 .8 -.2 .9 -2.7 -.9zM469.7 708.5l3.1 1.1 -.8 1.2 -2 -.7zM332.9 651.4l1.7 1.3 -.9 1.1 -1.1 -1zM367.1 651.7l1.6 1.9 -1.3 1.2 -1.2 -1zM325.6 616.7l2.4 2.6 -1.3 .2 -1.7 -1.6zM264 622.3l3.1 1 -.4 1.2 -3.2 -.9zM536.9 740.6l1.6 1.2 -.9 1.1 -1.3 -1.4zM487.4 696.8l2.6 2.6 -1 .7 -2.2 -2.4zM280 618.4l2.9 2.1 -1.2 1.6 -2.6 -1.7zM370.3 667.2l3.8 2.2 -1.2 1.1 -2.8 -1.8zM367.8 671.8l2.4 .8 -.6 1.2 -2 -.9zM454.1 711.1l2.2 1 -.6 1 -2 -.6zM420.7 695.8l2.4 1.1 -.9 1.5 -1.7 -1zM361.5 669.4l2.6 1.5 -.3 1 -2.7 -1.5zM286.3 625.1l.9 1.4 -.6 .9 -.9 -1.2zM344.3 623l2.8 .7 -.2 1.6 -2.5 -.8zM382.1 677.9l3.7 1.4 -.4 1 -3.3 -1.3zM322.6 630.3l1.8 1.3 -.3 1.2 -1.8 -.6zM259 622.5l1.4 1.2 -.9 1.4 -1.5 -.8zM502.4 694.2l2.7 .7 0 1 -2.7 -.7zM377.8 646.6l2.2 1.4 -.7 .9 -2.2 -1.2zM393.2 682.7l2.4 1.5 -1 .6 -2.1 -1.2zM261.8 621l1.7 1.3 -.9 1.2 -1.3 -.9zM325.4 613l1.7 .9 -.6 1.4 -1.3 -.8zM428.8 661.3l2.6 2.3 -1.5 .6 -1.8 -2zM386.4 662l2 .5 -.2 1.1 -1.9 -.4zM418.6 661.6l1.8 1.2 -1.1 1.9 -1.6 -1zM408.6 695.9l1.6 1.3 -.6 .7 -1.4 -1.2zM420.3 675.6l2.6 .7 -.4 2 -2.3 -.5zM389 649.3l2.9 1.4 -.5 .9 -2.2 -1zM422.3 669.1l2.2 .5 -.6 1.5 -1.8 -.5zM268.5 612.1l3.4 2 -1 1.2 -2.8 -2.1zM356.8 633l3.9 1.5 -.7 1.4 -3.1 -.5zM369.1 631.4l3.5 1.7 -1.5 1.5 -2.4 -1.7zM442.9 707.1l2.6 2.5 -1.2 .8 -1.9 -1.9zM337.5 648.3l1.6 1.7 -1 1.3 -1.5 -1.6zM287.4 617.5l2.2 1.9 -.7 .8 -2 -1.7zM319.4 612.8l2.6 1.5 -1 1.7 -2.2 -1.5zM474.5 694.1l2.8 .8 -.9 1.3 -2 -.4zM484.3 709.9l2.4 1.2 -.6 1 -1.9 -.8zM497.1 695.1l2.9 1.5 -1.5 1.3 -2.7 -1.3zM339.9 655.1l2.3 1.5 -.7 .9 -2.2 -.9zM270.2 631.3l2.2 1.2 -1 1.3 -1.8 -.5zM318.2 617.4l2.9 3 -1 .2 -2.1 -2.2zM409.8 679.1l1.9 1.1 -.5 .9 -1.9 -.8zM258.9 626.9l2 .5 -.5 1.3 -1.7 -.5zM452.6 669.1l2.6 1.1 -1 1.5 -1.6 -.6zM348.1 641.7l2.8 2.3 -1.5 1.2 -2.1 -1.7zM381.8 641.4l1.2 1.2 -.6 .7 -1.3 -1.1zM340.7 632.2l3.6 .9 -1.1 1.2 -2.8 -.8zM322.9 641.9l2.8 2.7 -1.6 .4 -1.9 -2zM374.8 649.7l3 1.9 -.8 .7 -2.3 -1.2zM470.7 688.3l3 2.4 -1 .4 -2.4 -1.7zM378.8 659.8l2.5 2.5 -1.8 .6 -2.3 -1.7zM461.2 711.8l2.1 .9 -.9 1.2 -1.8 -.9zM333.3 623.8l2 .6 -.6 1.7 -1.5 -.7zM358.5 664.5l3.8 .8 -.7 1.4 -3.2 -.8zM316.9 614.5l3.2 .9 -.5 1.9 -2.6 -.7zM468.8 686.2l1.5 1.5 -1.4 1.6 -1.2 -1.6zM318.5 645.9l2.3 1.1 -.7 1.3 -2 -1.1zM333.5 638.8l1.7 2 -1.1 .8 -1.8 -1.9zM471.8 685.2l1.8 1.1 -.2 1.5 -1.9 -.5zM301 629.8l2.9 1.4 -1.2 .7 -2.1 -1.2zM388.7 671.4l2.1 2.6 -1.5 .6 -1.4 -1.7zM336.6 627.8l2.9 1.3 -1.2 1 -2.5 -1.2zM450 681.2l2.3 2.2 -1.2 .8 -1.6 -1.3zM459.7 692.1l1.6 1.5 -1 .6 -1.2 -1.2zM444.2 701.4l3.7 .6 -.1 1.8 -3.2 -.6zM283.8 626.7l1.8 1.5 -.7 .6 -1.7 -1.1zM452.5 700.9l2.5 1.4 -.2 1.4 -2.9 -1.4zM407.3 657.4l1.2 .9 -.4 1.3 -1.3 -1.1zM418.5 691.7l2.9 2.6 -1 .6 -2.6 -2.1zM386.2 676.1l2.5 1.8 -1.5 1.5 -1.7 -1.1zM445.4 666.8l2.5 1.7 -1.1 1.2 -2.4 -1.3zM312.5 643.2l2.3 1.9 -1.5 1.4 -2.2 -1.5zM424.2 677.7l1.9 .5 -.4 1.2 -1.4 -.1zM510.8 699.5l2.2 2.3 -1.1 1.1 -2.4 -2.2zM620.6 758.9l2.6 2.9 -1.2 1 -2.2 -2.3zM449.6 708.1l1.5 .4 -0 1.3 -1.7 -.3zM507.6 717.3l2 1.5 -1 1 -1.2 -1.1zM314.3 632.7l2.5 2.4 -1.6 .5 -2.1 -1.6zM271.8 617.9l3.6 1.6 -1 .5 -3 -1.1zM362.6 634.7l1.7 .9 -.9 1.3 -1.5 -1.1zM402 690.1l2.9 2.4 -1.7 1.6 -2.2 -2.2zM401.2 671.9l2.9 2.2 -1.2 .9 -2.5 -2.1zM476.9 678.5l1.6 .9 -.6 1 -1.5 -.6zM390.1 644.6l1.9 1.3 -1.1 1.5 -1.6 -1.6zM383.6 656.1l1.9 .6 -.8 1.3 -1.4 -.5zM446.1 664.6l1.9 1.1 -1 1.6 -1.2 -1.1zM453.1 714.3l2.2 .6 -.5 1.2 -1.6 -.3zM382.2 666.4l3.8 2.4 -1.4 .8 -2.5 -1.8zM414.1 687.5l3.6 1 -.2 1.2 -2.8 -.3zM330.1 645.1l2.1 1.9 -.9 1 -1.8 -1.5zM572.1 733l2.6 .5 -.2 1.6 -2.4 -.6zM405.1 659.6l2.7 1.7 -.8 1 -2.1 -1.6zM278.6 632.9l2.7 1.5 -1.3 .7 -1.8 -.9zM449.9 690.7l2 .9 -.5 1.1 -1.8 -.8zM416.1 659.6l2.8 1.2 -.9 1.2 -1.7 -.4zM294 614.3l3.7 1.7 -.6 1.2 -3 -1.5zM308.4 642.4l3.5 2.5 -2 .9 -2.2 -1.8zM401.1 652.3l1.4 1.4 -1.1 1.1 -1 -1.2zM370 636.3l1.5 1.1 -1.1 1.2 -1.1 -.7zM454.9 675.6l2.5 .8 -.5 1.4 -1.8 -.3zM480.8 691.7l2.1 1.4 -.7 .9 -1.8 -1.2zM439.9 675.8l1.6 2 -1.7 1 -1.3 -1.6zM408.7 675.4l1.6 .8 -.7 1 -1.2 -.3zM484.1 708.5l2.5 2.7 -1.1 1.5 -1.9 -2.5zM270.2 621.4l3 .6 -.7 1 -2.3 -.4zM373.5 638.4l2.6 2.5 -1.4 1.4 -2.1 -2.1zM351.8 637.1l3.2 1.8 -1.5 1.5 -2.4 -1zM512.4 694l1.7 1.6 -.8 1.1 -1.5 -1.3zM543.1 723.4l3.4 1 -1.2 1.8 -2.3 -1.1zM440.6 681.7l1.7 1.6 -1.3 1 -1.3 -1zM306.6 630l3.1 2.1 -1.5 .9 -2.2 -1.3zM342.1 660.5l3.5 2.1 -1.1 .7 -2.8 -1.8zM307.5 613.4l1.8 .9 -.7 1.8 -1.8 -.9zM514.9 701.3l2.4 1.9 -.9 .7 -2.1 -1.6zM288 637.1l2.7 2.5 -1.1 1 -2.7 -2.5zM313.7 633.9l3.4 2.5 -1.9 1.3 -2.1 -1.6zM534 733.5l2.1 .7 -.5 1.5 -2 -.3zM291.8 614.2l3.2 1.3 -1.6 1.6 -2.1 -1.4zM292.3 637.5l2.3 2.3 -.9 .6 -2 -2.1zM411.5 659.5l1.8 1.1 -1 1.4 -1.3 -1.2zM327.6 656.2l3.2 2.2 -1.8 1 -1.9 -1.6zM289.4 630.3l2 .9 -.3 1.4 -2.2 -.5zM434.5 659l2.2 2.5 -1.6 .8 -1.3 -1.6zM277.1 632.5l2.8 .8 -.6 1.5 -2.3 -.7zM333.1 639.5l2.5 2 -1.3 .8 -1.8 -1.2zM418.2 682.8l3.2 1.2 -.7 1.5 -3.2 -.9zM342.2 645.8l2.2 2.3 -1.3 1.3 -1.9 -1.5zM349.3 664l2.4 .5 -.5 1.1 -1.5 -.6zM534.3 709.6l2.2 1.2 -1.1 1.6 -1.7 -1.4zM360.6 635.8l2.6 2.9 -1 .7 -2.1 -2.6zM408.4 676.8l2.1 1.6 -.9 .6 -2.1 -1.3zM306.3 613.2l1.7 1.2 -.4 1.4 -1.7 -1zM370.9 670.5l1.8 1.5 -.7 .7 -1.5 -1.1zM339.4 631.2l3.6 1.2 -.7 1.4 -2.7 -.9zM463.7 681.7l3.7 .9 -1.2 1.3 -2.4 -.9zM423.9 662.3l2.3 1.4 -.8 1.4 -2 -1.3zM392 657.3l1.7 1.4 -1 1.3 -1.4 -1.2zM298.9 621.9l3 2 -1.3 .8 -2.5 -2zM389.5 671.6l3.1 2 -1.5 1.4 -3 -2zM351.5 642.6l1.6 1.2 -.8 1.2 -1.7 -1.1zM274.3 633.9l1.6 .6 -.4 1.2 -1.5 -.5zM296.4 613.3l2 .8 -1 2.1 -1.3 -.8zM387.2 666.1l1.8 1.7 -.7 1.1 -1.8 -1.5zM395.7 649.4l2.5 2.2 -1.2 1 -1.8 -1.4zM443.1 699.9l2.1 .6 -.3 1.8 -1.9 -.7zM358.9 642l1.8 2.2 -1 1.1 -1.8 -1.8zM377.5 678.1l1.8 1.8 -.9 1.2 -1.5 -1.1zM464.4 680.3l3.4 2.5 -1.1 .6 -2.6 -1.9zM338.2 627.3l2.3 1 -.5 1.2 -1.7 -.7zM251.6 621.5l2.2 1.8 -1.2 1.9 -2.2 -1.9zM387.7 664.9l2.3 .8 -.5 1 -2.2 -.6zM337.5 623l2 2 -1.1 .3 -1.8 -1.9zM370 646.1l1.9 1.4 -1.1 .7 -1.4 -1.2zM396.4 654.9l1.3 1.5 -.5 .7 -1.4 -1.2zM489.2 694.5l3.2 .7 -.6 .8 -2.3 -.3zM308.4 628.3l1.9 2 -.9 .9 -1.8 -2.3zM279 622.5l2.1 2.3 -1.1 1 -1.5 -1.8zM372.6 677.6l2.9 3.2 -1.4 .5 -2.5 -2.3zM369.3 637.7l1.8 2 -1.1 1.3 -1.9 -1.8zM472.8 705.9l3.1 2.6 -1.4 1.4 -2.1 -2.1zM431.1 669l4.2 1 -.5 .8 -3.6 -.6zM423.5 661.3l2.8 2 -1 .8 -2.8 -1.7zM319.2 625.1l2.4 .6 -.7 1.3 -1.7 -.3zM404.7 687.2l2.5 .5 -.5 1.3 -2.5 -.5zM366.4 654.1l1.9 .7 -.5 1.5 -1.7 -.8zM367.2 671.4l2.7 .8 -1.2 2 -2.2 -1.1zM359.3 633.5l2.4 1.7 -.9 1.4 -2 -1.7zM266.5 622.9l2.7 2.8 -1.6 1.6 -2.1 -2.2zM419.8 679.7l2.2 2.8 -.9 .7 -2.2 -2.6zM466.5 721.7l1.9 .8 -1 1.7 -1.4 -.7zM319.5 647.2l2.3 .8 -.6 1.5 -1.6 -.9zM390.4 679.6l3.7 1.3 -1.5 1.2 -2.8 -1.1zM319.5 648.6l3.1 1.1 -.1 1 -2.9 -1zM248 613.9l1.5 .8 -.8 1.2 -1.5 -.7zM438.2 700.2l1.9 2.1 -1.4 1 -1.7 -1.3zM339.5 640.1l1.8 1 -1.1 1.5 -1.2 -.7zM394.7 666.4l1.5 .8 -.6 1.4 -1.4 -.8zM266 613.3l3.7 1.7 -1.1 .8 -2.5 -.9zM404 651.3l2.9 .9 -.6 1.5 -2.4 -.6zM364.4 631.9l1.8 1.6 -1.2 1.3 -1.3 -1.3zM311.5 646.4l1.8 1 -.8 1.2 -1.7 -.9zM395.1 680.6l1.7 1.8 -.8 1.1 -1.7 -1.7zM333.2 636.2l3.5 .8 -.9 1.2 -2.5 -.4zM319.4 624.1l1.4 1.6 -1 1.1 -1.7 -1.6zM457.2 677.5l1.6 .5 -.3 1.4 -1.9 -.6zM260.9 623.5l1.2 1.5 -.8 1.4 -1.6 -1.4zM467.2 705.6l2.6 1.1 -1 1 -2.2 -1.1zM409.1 671l2.1 1.7 -1.3 1.3 -1.4 -1.1zM384.5 652.9l2.1 2 -.8 .5 -2.2 -1.5zM330.8 621.5l2.4 2.5 -1.5 .6 -1.9 -1.7zM482.1 700.6l1.9 1 -1 .7 -1.2 -.7zM341 644l1.2 1.9 -1.3 .9 -1.2 -1.3zM332.1 645.9l2.9 .5 -.6 1.1 -2.3 -.2zM253.8 617.4l2.9 2.7 -1.1 .3 -2.2 -1.7zM356.5 647.6l2 2.2 -1 1.2 -2.3 -2.2zM243.8 618.4l1.6 1.6 -1.2 .8 -1.4 -1.5zM407.1 690.2l2 .6 -.3 1 -1.6 -.3zM434.9 667.6l2.5 .7 -.6 1.8 -1.7 -.4zM378.9 644.8l3.4 .5 -.8 1.3 -2.5 -.4zM298.4 616l3.1 1.1 -.7 1.5 -2.7 -.9zM421 654l2.8 3 -1.9 .9 -2.1 -2.4zM381.8 650.9l2.2 1.3 -.8 1.2 -2.5 -.9zM432.2 686.6l3.1 1.4 -.6 .9 -3.1 -1.3zM285.1 630.8l2.5 1 -.6 1.6 -2.4 -.7zM357.8 650.1l2.4 .4 -.2 1.7 -2 -.4zM318.8 614.1l2.8 1.4 -1.1 .8 -1.9 -1zM310.3 628.3l2.2 1.9 -.7 1.2 -2.3 -1.2zM273.9 632.7l2 .6 -.8 1.2 -1.7 -.8zM361 632.7l1.9 1.8 -1 1 -2.1 -1.5zM335.7 618.4l1.9 2.1 -.9 .9 -1.8 -1.9zM336 645.6l2.7 2.2 -1.1 1 -2.7 -1.9zM405.8 685.1l2.1 .4 -.5 1.3 -1.5 -.2zM385.6 674.7l2.1 2.1 -1.1 1.2 -2.3 -2zM289.7 617.3l3.3 2 -1.2 .8 -2.4 -1.7zM434.8 702l1.7 1.7 -1.2 .8 -1.4 -1.5zM482.9 682.7l2.4 1.3 -1.1 1.6 -1.8 -.6zM387.2 649.6l1.6 1.5 -.8 .9 -1.6 -1.2zM378.6 647.5l2.3 1.6 -.7 1.4 -2.5 -1.4zM407.7 651.1l2.9 .8 -.2 2 -2.6 -.9zM460.8 717.1l3.2 1.6 -.7 1 -2.8 -1.4zM302.7 616.5l2.3 1.6 -1.1 .9 -1.8 -1.6zM464 680.1l3.2 1.4 -.6 1.1 -2.5 -1.5zM447 680.4l1.7 1.5 -1.1 1.3 -1.1 -1.6zM380.2 641.1l2.4 2 -1 1.6 -2 -1.3zM339.2 644.4l2.7 .8 -.2 1.9 -2.2 -.5zM323.8 641.2l2 1 -.8 1.8 -1.7 -1zM345.6 628.2l2.3 2.5 -.7 .6 -2.1 -2.3zM314.9 639.1l3.2 .7 .2 1.8 -3.1 -.5zM514.9 697.1l2.4 2.3 -1.6 .9 -1.7 -1.9zM474.8 716.9l2.3 1 -.5 .9 -2 -.8zM466.9 684l2.4 .8 -.1 1.7 -2.9 -.6zM323.3 616.3l3.3 1.6 -.9 1.6 -2.6 -1.1zM390.7 663.3l2.5 2.8 -1.5 .6 -2.1 -2.5zM276.3 615l1.8 1.9 -.9 1.1 -1.8 -1.1zM342.6 636.4l2.2 .4 -.6 1.5 -1.4 -.4zM398.9 657.9l2.2 .2 -.1 1.6 -1.8 -.5zM399.4 670.3l3.4 .8 -.9 1.5 -2.2 -.6zM407 674.5l3.2 .9 -.8 1.8 -2.2 -.9zM372.6 668.5l1.5 .8 -.7 1.6 -1.6 -1.1zM346.3 627.9l2.3 1 -.9 1.1 -2.1 -1zM317.1 620.8l4.1 1.5 -1.3 1.8 -2.4 -1.1zM359.6 661.1l2.8 2 -1 .9 -2.2 -1zM373.8 655.1l2.6 1.8 -1 1.7 -1.9 -1.2zM323.2 646.9l2.8 1.4 -1.3 1.9 -2.5 -1.5zM404.9 660l2 2 -1.3 .8 -1.6 -1.6zM355.9 641l2.4 1.8 -1.6 1.5 -1.8 -1.6zM435.8 675.6l.9 1.3 -1.2 1.6 -.9 -1zM318.3 621.7l1.6 1 -1.2 1.7 -1.2 -1.4zM385.4 656l1.9 .8 -.7 1.4 -1.5 -.5zM288.8 635.8l2.4 1.1 -.9 1.1 -1.5 -.8zM397.6 645.3l3.3 .7 -.6 1.2 -2.2 -.3zM457.3 695.9l1.9 1.5 -1 1.7 -2.2 -1.4zM317.8 641.5l1.7 .3 -.4 1.3 -1.5 -.3zM405.3 688.4l1.1 1.3 -1.1 1.5 -.9 -1.3zM373.3 644.7l3.8 .5 -.5 1.4 -2.8 -.7zM302.6 615.9l3.2 1.5 -.4 1 -2.9 -1.4zM382.3 676.3l1.5 1.2 -.9 1.5 -1.4 -1.1zM337.8 639.9l1.6 .9 -.5 1 -1.2 -.6z" fill="#a27a3b"/>
<path d="M306.4 625.7l2.2 1.8 -1.4 1.5 -2.1 -1.8zM511 726.8l2.4 2.4 -1.3 .3 -1.7 -1.6zM392.4 667.7l3.7 .5 -.9 1.4 -2.2 -.4zM351.8 631.3l2.1 2 -.9 .6 -2.4 -1.8zM427.5 669.7l2.1 .7 -.6 1.9 -2 -.7zM446.6 693.3l3.2 1.5 -.6 1.7 -3 -1.4zM399.3 687l3 1.3 -.9 .8 -2.5 -1.3zM378.9 648l2.2 1.5 -1.2 1.6 -2.1 -1.7zM376.2 635l2.6 .6 -.6 1.2 -1.8 -.4zM371.5 631.9l2.4 2.6 -1.4 1.2 -1.9 -2.2zM277.9 630.8l2.2 .2 -.4 1.8 -1.8 -.4zM412.7 671.3l1.6 1.6 -.9 .5 -1.6 -1.4zM349.2 660.3l2.1 .5 -.6 1.1 -1.7 -.6zM293.1 616.8l2 1.1 -1.2 1.2 -1.5 -1zM365.8 641.1l2.8 1.6 -1.1 1.2 -2.1 -1.4zM297.5 612.8l1.9 1.5 -1 1.2 -1.3 -1.3zM398 652.3l3.5 .8 -.5 .9 -2.5 -.3zM389.8 682.2l2.7 .8 -.5 1 -2.1 -.7zM441.1 710.9l2.3 .6 -.3 1.4 -1.8 -.7zM335 634.6l2.7 2 -.7 .9 -2.2 -1.6zM384.1 642.2l1.8 .7 -.5 1.8 -1.5 -.5zM312.6 637.8l3.2 1 -.5 1.6 -2.7 -1zM484.2 698.7l2.5 2.1 -1.3 .9 -2 -1.2zM306.9 616.2l2.7 1.1 -1.1 1.1 -2.4 -.9zM345.8 658.8l1.7 1.5 -.7 .9 -1.5 -1.1zM337.8 642.2l1.8 1.1 -.6 1.9 -2.1 -1.5zM476 682.4l3.8 1 -.9 1.3 -2.7 -1.2zM349.3 638.6l2.6 1.9 -.8 .9 -2.4 -1.4zM497.9 716l1.9 .9 -.8 1.9 -1.8 -1.1zM355.5 636.7l2.9 1.5 -.5 1.4 -2.7 -1.5zM331.6 625.7l2.4 2.6 -1.2 1.4 -2.1 -2.1zM364.9 671.3l3.7 1.2 -.7 1 -3 -1zM446.9 707.6l1.8 1.1 -.8 .6 -1.4 -.9zM345.5 664.8l3.3 1.6 -1 1.7 -3 -1.4zM394 659.8l2.5 .9 -.4 1.9 -2.3 -.9zM347.1 631.4l1.8 .8 -.4 .9 -1.8 -.8zM301.9 623.5l2 2 -1.3 .9 -2.1 -1.2zM398.3 662.5l1.9 1.5 -1.1 1.2 -1.4 -1.3zM447.6 674.2l1.4 1.2 -.9 1.3 -1.3 -1zM361.8 633.4l1.9 1 -.7 1.4 -1.6 -1.2zM485.8 702.8l2.4 1.2 -1.1 1.2 -1.4 -.9zM293.7 636.2l2.8 2.1 -1.1 .8 -2.3 -1.5zM391.1 678.5l3.3 2 -.9 .5 -3 -1.6zM352 635.8l2 1.1 -.6 1.3 -1.5 -.8zM473.8 678.1l2 1.4 -.8 1.5 -1.6 -1.1zM435.2 670.8l2.5 1 -.8 1.6 -2 -.5zM375.4 650.3l3.1 1.2 -1 .7 -2.1 -.8zM354.5 645l1.9 1.8 -1 1.3 -1.9 -2.3zM293.4 614.3l2.5 1.3 -.9 1.6 -2.2 -1.1zM305.3 626.2l2.5 1 -.8 1.8 -2.3 -.9zM270.7 616.7l1.9 1.6 -1 1.1 -1.3 -1.5zM361.4 669.9l1.3 1.4 -1.5 1.6 -1 -1.5zM312 644.7l4.4 1.5 -1.6 .9 -2.4 -.9zM358.2 651.5l1.2 1.4 -1 1 -1.5 -1.1zM329.8 635.3l1.6 .8 -.6 1.8 -1.6 -.6zM462.1 713.2l2.3 1.5 -1 1.3 -2.4 -1.5zM281.3 621.8l1.6 1.4 -.9 1 -1.9 -1zM355.6 657l2 2.3 -1 .2 -2.1 -1.9zM502 698.2l2.6 1.9 -1.4 .8 -1.6 -1.3zM296.6 621.3l2.4 .7 -.7 1 -2.1 -.8zM296.8 612.5l1.9 2.1 -1.2 1.3 -1.7 -1.7zM338.3 642.7l3.7 .5 -.4 1.2 -3.2 -.5zM413 671.8l1.4 1 -.8 1.2 -1.3 -.7zM456.5 686.7l1.9 1.2 -.7 1 -1.5 -1zM271.3 630.9l2.2 1.7 -1.3 1.5 -2.1 -1.3zM438.5 663.4l1.4 1.2 -1.1 1 -1.4 -1.5zM455.2 712.7l1.9 1.5 -1.1 .8 -1.6 -1zM411.3 679.8l1.7 1.3 -.8 1 -1.4 -.8zM469.8 710.2l2.7 2.8 -1.4 .5 -1.9 -2.2zM345.3 641l1.9 1.5 -.7 1.1 -2.3 -1.8zM450.6 700.7l1.8 1 -.7 1.6 -1.5 -.5zM346.8 643.9l1.4 .8 -.5 1.2 -1.5 -.4zM300.9 636.4l2 1.7 -1.1 .8 -1.6 -1.5zM307.5 614.8l1.4 1.3 -1 1.4 -1.3 -.9zM353.2 653.2l1.9 1.5 -.6 .9 -1.7 -1.2zM254.2 624.6l1.8 .7 -.7 1.2 -1.3 -.5zM411.3 650.3l1.1 1.1 -.8 1 -1 -.9zM422.4 664.3l1.9 1.8 -1 1.1 -1.6 -1.8zM310.5 618l3.9 1.1 -.8 1.4 -3 -.6zM370.3 665.2l2.7 2.5 -1.1 1 -2.2 -1.6zM414.8 661.6l1.4 .9 -.6 1.3 -1.4 -.9zM446 678.6l2.8 1.7 -1.4 .8 -1.9 -1.2zM384.5 668.3l1.9 2.5 -1.1 1.3 -2.1 -2.5zM472.7 685.7l2.5 .6 -.8 1 -2.1 -.4zM329.3 614.6l2.1 2.1 -.7 .8 -2.2 -2zM460.1 683.3l1.9 .9 -.7 1.7 -1.4 -1zM353 629.1l2.7 1.3 -.5 1.4 -2.6 -1.3zM371 667.1l1.9 1.5 -.5 .9 -2.1 -1.4zM326.4 635.7l1.5 .7 -.9 1.3 -1.4 -.7zM375.1 677.7l3.3 1.2 -.6 1.8 -3.5 -.8zM423.4 670.1l2.3 1.5 -.4 1.2 -2.5 -1.6zM383.4 645.4l1.8 1.5 -1.2 1.3 -1.2 -1.3zM273.4 616.3l1.4 1.5 -.8 .8 -1.1 -1.2zM552 741.4l3.4 1.8 -.7 1.2 -3 -1.4zM480.5 680.5l2.6 .9 -.3 1.2 -2.9 -1zM337.2 654l3.2 1.1 -.8 1.4 -2.5 -1zM426.1 687.4l3.3 1.1 -.3 1 -2.6 -.9zM350 649.8l3 1.5 -1 1 -2.6 -1.2zM310.8 623.8l1.6 .7 -.1 1.1 -1.4 -.3zM387.8 653.7l1 .9 -1.1 1.2 -1 -.8zM408.5 669.5l1.6 1.6 -.8 .7 -1.5 -1.4zM452.8 671.2l2.4 1.9 -1 .5 -2.5 -1.4zM322.6 632.1l2.8 1.5 -1.1 1.1 -2.4 -1.1zM456.3 707l3.4 1.3 -1.2 1.1 -2.3 -1zM289 632.3l2.3 .9 -.4 1.7 -2.5 -.8zM381.2 679.2l1.4 .8 -.4 1.8 -1.7 -.9zM270.5 614.3l3.3 .7 -1.1 1.7 -2.3 -.3zM426.7 663.2l3.2 .4 -.7 1.2 -2.3 -.4zM430 663.8l2.5 1.1 -.2 1.3 -2.7 -1.4zM381.5 669.5l2.3 1.2 -.8 .9 -1.8 -.9zM385.7 641l1.2 1.8 -1.1 1.1 -1.6 -1.5zM352.8 628.8l3.3 .7 -.6 1.7 -3.3 -.5zM359.2 669.1l2.6 .9 -.6 .9 -2.1 -.9zM410.7 658.3l2 .3 -.5 1.3 -1.6 -.3zM353.8 644.6l2.6 1.4 -.8 1.2 -2.3 -1.2zM311.1 620.4l2 2 -.7 .9 -2.6 -2zM367.3 664.9l3.5 2.1 -.9 .5 -3.1 -1.7zM396 666.1l2.4 .9 -.8 1.7 -1.7 -1zM357.1 643.4l2 1.1 -.9 1.6 -1.9 -.9zM359.8 645.3l4.2 1.7 -1.4 1.4 -3.1 -.8zM325 634l1.7 2 -1.7 .8 -1.6 -1.3zM319.9 615.7l1.6 1.6 -1.1 .9 -1.5 -1.3zM357.2 646.7l1.8 1.2 -.6 1.4 -2.1 -1.4zM315.2 610.5l2.3 1.1 -.8 1.3 -2 -.8zM458.1 678l2.6 2 -.8 1.4 -2.3 -1.9zM410.4 668.9l1.9 1.5 -.9 1.6 -1.4 -1.4zM455.9 674.3l1.2 1.2 -.9 1.3 -1.7 -.9zM319.3 634l4.1 .8 -1 1.4 -2.5 -.7zM393.7 647.5l1.3 1.3 -1 .6 -1 -.9zM386.3 645l2.5 1.8 -1.2 1.1 -2.1 -1.5zM434 707.2l3.1 1.8 -.6 .7 -2.3 -1zM481.4 729.3l2.6 2.2 -.4 1.1 -2.6 -2zM459.3 718l3.4 1.6 -1 1.2 -2.6 -1.2zM432 707.1l3.5 .8 -.6 1.1 -3.2 -.8zM365.5 651.6l2.6 1.5 -.3 .7 -2.6 -1.4zM271.4 631.8l2.8 1.4 -.7 1.3 -2.2 -1.2zM436.8 675.8l2.2 1.6 -.7 .8 -2.2 -1.6zM334.9 641.2l1.6 1.2 -.8 .9 -1.3 -1.2zM298.1 640.5l2.4 2 -1 1.1 -1.8 -1.4zM437.8 698.3l1.7 .7 -1 1.4 -1.2 -.8zM429.2 701.4l3 1.7 -.9 1 -2.1 -1zM386.2 675.4l3.4 2 -.7 1 -2.6 -1zM474.9 687.5l3.7 .6 -.2 1.9 -3.4 -.8zM346 664.8l3 1.5 -.9 .8 -2.2 -1.1zM286.3 624.7l1.4 1 -.9 .9 -1.2 -.8zM269.8 623.4l1.4 1 -.4 1 -1.4 -.9zM356.7 627.4l2.1 1.6 -1.6 .9 -1.4 -1.2zM319.4 622.4l1.5 1.5 -1.2 .9 -1.1 -.5zM350.5 661.9l3.3 1.8 -.7 1 -2.7 -1.4zM267 626.7l2 .9 -.7 1 -1.9 -1.1zM359.7 656.1l2.7 2.9 -1.6 .7 -2 -2.1zM315.1 635.7l2.9 1.9 -1.3 1.2 -2.3 -1.9zM292 624.2l1.7 1.6 -1.3 1.6 -1.1 -1.3zM391.5 658.5l1.4 .8 -.5 1.6 -1.2 -.7zM358.6 642.4l3.1 2.3 -1.5 .7 -2.6 -2zM256.3 613.3l3.4 .3 -1 2 -2.7 -.8zM389.9 674.7l2.3 1.1 -.5 1.1 -2.2 -1.3zM334.3 651.1l2.3 .5 -.6 1.6 -2.3 -.7zM461.3 715.8l2.6 1.3 -1.1 1.6 -1.9 -1.4zM334.3 645.3l2.5 2.6 -1.1 .6 -2.5 -2.2zM352.5 626.1l2.3 1.4 -1.1 1.6 -2.1 -1zM362.5 640.4l1.6 1.8 -1.4 1.1 -1.7 -1.6zM398.1 660l2.3 1.8 -1.1 1.3 -2 -1.4zM310.3 642.4l3 .9 -1 1.3 -2.1 -1zM298.1 640l3.3 2.2 -1.3 1.2 -3 -1.3zM432.4 685.5l2.2 2.3 -1.2 .7 -1.8 -1.8zM278.1 616.4l3.5 1 -.7 1.6 -3.5 -.9zM392.7 647.4l3.6 .9 -.3 1.1 -2.9 -.5zM337.2 621.4l3.2 1.8 -.6 1.1 -2.8 -1.6zM414.2 674.2l3.5 1.1 -1.3 1.1 -2.5 -.8zM504.5 689.6l2.4 1.5 -.7 1.5 -2.6 -1.2zM280 612.9l1.1 1.5 -.5 .8 -1.2 -1.4zM479.3 695.7l2.2 1.4 -.7 1.2 -2.4 -1.4zM454.5 668.4l2.5 1 -.5 1.3 -2.6 -.5zM497.5 708.1l2.2 2.4 -1 1 -2.1 -2zM244.6 616.4l2.5 1.4 -.7 1.2 -2.4 -1.3zM282.4 629.7l1.4 1.3 -.5 1 -1.9 -1.6zM331.6 640.4l1.7 1 -.6 1 -1.7 -.8zM383.7 654.6l1.9 1.4 -1 .9 -1.6 -1.4zM369.8 653.1l2.5 2.6 -1.5 .9 -1.6 -1.6zM471.3 685l2.3 1.9 -1.1 1.3 -2 -1.9zM425.9 679.5l1.7 1.4 -1.3 1.2 -1.1 -1zM471.1 703.4l1.6 1.1 -.3 1.5 -2.1 -.9zM452.6 707.1l1.6 1.2 -.9 .9 -1.4 -.9zM403.4 668.1l1.6 1.3 -.8 1.5 -1.6 -1.1zM298.1 620.6l3 1.2 -.3 1.9 -3 -1.3zM328.3 654.9l1.4 1.8 -1.4 1.1 -1.6 -1.4zM343.9 644.4l1.7 1.9 -1.4 1.5 -1.4 -1.5zM397.6 658.9l1.8 .7 -.3 1.6 -1.9 -.8zM403.7 666.6l1.5 1.3 -.9 .9 -1.7 -1.5zM289.7 636.7l2.9 1.9 -.9 1.2 -2.4 -1.6zM417.4 680.2l1.3 1.7 -1.4 1.3 -1.1 -1.7zM307 631.9l2.9 .6 -.7 1.8 -2.2 -.4zM331.4 624.1l1.7 .9 -.6 1.4 -1.7 -1zM459.7 677.4l3.5 2.1 -1 .7 -2.4 -1.6zM453.1 685.1l2.3 1.9 -1 1.2 -1.6 -1.4zM350 656.8l2.7 1.5 -1.1 1.4 -2.1 -1.4zM451.7 680.1l1.6 1.6 -.8 .7 -1.7 -1.5zM472.2 706.1l1.1 1.1 -.8 1.3 -1.3 -1.1zM503.8 697.5l2 1.9 -.8 1.2 -2.1 -1.6zM465.4 683.3l1.5 1.6 -1.1 1.5 -1.5 -.9zM324.2 647.6l2.6 2.1 -.8 1.4 -2.9 -2.3zM475.2 688.3l2 .7 -.7 1.5 -1.2 -.5zM464.7 683.2l2.6 .6 -.5 1.5 -2 -.3zM348.7 657.7l2 1.4 -.9 .6 -1.4 -.7zM575.4 762.4l1.9 1.1 -.7 1.4 -1.8 -.4zM399.3 656.3l2.3 1.1 -.2 .9 -2.5 -.9zM400.9 688.4l1.8 1.2 -.4 1.1 -1.6 -.5zM303.4 636.5l1.5 2 -1.3 .8 -1.5 -1.4zM410.3 675l2.4 .6 -.2 1.3 -2.3 -.5zM406.5 667.8l2.9 1.1 -1.1 1.2 -1.8 -.8zM259.8 625.8l3 2.6 -1.2 .1 -1.9 -1.5zM312.2 636.6l2.9 .5 -.9 1.1 -2.7 -.3zM492.5 692.3l1.4 1.1 -1 1.7 -1 -1zM439.2 663.3l1.9 1.6 -.9 1.3 -2.1 -1.5zM387.4 651.2l3 1.9 -1.7 1.3 -2.2 -1.5zM291.1 627.8l1 1.5 -1.2 1.6 -.9 -1.5zM446.4 666.3l3.1 2.7 -1.4 .5 -2.2 -2zM407.5 658.4l3 2.1 -1.5 1.8 -2 -1.4zM432.6 690.8l2.6 1.2 -.9 1.8 -2 -.9zM402.4 672.4l1.6 1.3 -1 1.3 -1.6 -1.4zM279.1 630.8l2.7 1.7 -.8 .7 -2.5 -1.4zM313 651.1l3.1 .7 -.3 .9 -3 -.5zM397.3 683.3l1.6 .8 -.7 1.8 -1.6 -1.2zM364.4 664.6l1.6 1.3 -1.1 1.3 -1.6 -1zM287.9 624.7l3.5 1.5 -.5 1.6 -2.5 -1.5zM388.5 651.4l1.2 1 -.8 1.3 -1.3 -.5zM438.5 684l1.2 1 -.8 1.4 -1.4 -.9zM319.1 614.1l3.3 1.5 -1.3 .9 -2.8 -1.1zM373.8 655.1l1.2 1.4 -1.2 1.1 -1.1 -1.3zM427.4 658.9l1.7 1.5 -1.1 1.2 -1.7 -1.3zM489.1 698.6l2.3 .7 -.5 1.7 -2.1 -.5zM421.4 679.9l2.9 2.3 -1.4 1.4 -2.9 -2.3zM378.7 678.6l1.9 1 -.6 1.6 -1.7 -.5zM340.2 632.3l1.9 1.4 -.8 .6 -1.8 -1.2zM364.4 636.9l2.6 2.3 -1.4 1.1 -2.5 -2.1zM286.8 632.3l2.7 .8 -.4 1.1 -2.9 -.7zM272.1 618l1.6 1.4 -.9 1.6 -1.9 -1zM314.9 614l2.6 1.6 -.8 1.6 -2.1 -1.4zM473.7 687.9l1.6 1 -.7 .9 -1.6 -1.2zM288.5 622.7l2.1 2.2 -.8 .6 -2.4 -2.2zM432.2 700.8l2.1 .9 -.5 1.4 -1.9 -.4zM475.3 681.2l2.5 1 -.8 1.5 -2 -.9zM268 628.2l2.9 1.3 -.2 1.4 -2.8 -1.1zM439.3 673.3l3.7 .7 -1 1.6 -2.2 -.6zM363.4 667.8l2.6 .8 -.2 1.3 -2.5 -.4zM370.4 642.3l2.5 .6 -.3 1.5 -2 -.3zM374.8 660.4l3.5 .9 -.8 1 -2.6 -.8zM340.6 658.3l3.7 1.4 -.8 .7 -2.6 -.9zM394.8 667.1l2.1 .1 -.7 1.8 -1.3 -.5zM342.6 620.3l1.1 1.8 -1.3 .9 -1 -1.2zM420.6 659.9l1.7 1.5 -1.4 1.2 -1.4 -1.4zM538.6 709.3l2.2 2.5 -1 1.2 -1.9 -1.9zM519.5 706.4l1.9 .8 -.3 1.6 -2.2 -.3zM442.8 685.6l3.5 .9 -.5 1.1 -2.8 -.6zM402.7 660.3l2.2 1.9 -1.2 .6 -1.8 -1.4zM439.4 690.6l1.8 1.5 -.6 1.2 -2.5 -1.9zM491.6 688.9l3.3 1.5 -1.2 1.2 -1.9 -.9zM464.1 678.2l2.3 1.5 -1.2 1.6 -1.8 -1.1zM426.9 660.8l2.6 2 -1.1 1.4 -2.1 -1.9zM267.2 619.9l2.4 1.4 -.2 1.1 -2.6 -1.4zM436.4 695.2l2.1 1.1 -.7 1.4 -1.8 -.8zM289 638.2l1.4 1.5 -.7 1.2 -1.6 -1.2zM383.4 683.1l3.5 2.4 -1.7 1.1 -2.3 -1.6zM434.7 663.8l1.5 1.4 -1.2 .9 -1.4 -1.4zM325.8 627.2l3 2.1 -1 1.6 -2.4 -2.2zM277.3 633.9l2.4 1.2 -1 1.3 -1.9 -.9zM376.7 637.8l2.9 1.5 -.8 1 -2.3 -.8zM398.7 648.2l2.4 .5 -.8 1.9 -2.1 -.8zM413.2 696.3l1.8 1 -.6 1.3 -1.6 -1zM454 715.2l2.1 1.3 -.7 1.6 -1.7 -1.3zM443.3 705.3l1.5 1.1 -.8 1.3 -1.6 -1.1zM386.2 679.3l2.8 .7 -.7 1.2 -2.4 -.3zM335 626.2l1.5 1.3 -1 .8 -1.3 -1.2zM386.9 671.6l2.1 1.1 -1.1 1.8 -1.8 -1.2zM424.7 661.4l2.9 .8 .1 1.1 -3.3 -.6zM463.6 674.8l1.9 .6 -.4 1.8 -1.6 -.9zM419.2 656.5l2.2 2 -1.1 .6 -1.9 -1.6zM358.3 643.8l2 1.9 -1.3 1.1 -1.6 -1.3zM587.4 733.3l1.7 1.6 -1.4 1.2 -1.4 -1.6zM338.2 629.7l3.5 2.5 -1.3 1 -2.6 -2.2zM414.1 697.2l1.8 .4 -.4 1.6 -2 -.6zM444.2 675l3 2.2 -1.2 1.7 -3 -1.9zM318.3 627.8l2.3 1.4 -1.5 1.1 -1.7 -1.2zM441.2 683.5l2.1 1.6 -1.1 1.3 -1.8 -1.3zM426.4 672l1.6 .5 -.3 1.3 -1.4 -.2zM391.8 683.2l3.3 1.6 -.9 .7 -2.1 -.9zM430.2 694.5l1 1.3 -.9 1.2 -1 -1zM466.7 675.8l2.3 .6 0 1.5 -1.9 -.2zM297.1 626.1l3.3 2.2 -1 .6 -2.4 -1.4zM483.9 687.8l1.6 1.4 -1 1.2 -1.5 -1.5zM283.6 618l2.3 .6 -.4 1.4 -2.1 -.7zM334.2 645.6l3 .9 -.5 1.4 -2.4 -.4zM394 670.3l1.9 .9 -.4 1 -1.6 -.6zM343.8 625.8l3.3 .7 -.9 1.6 -2.4 -.5zM337.5 644.9l3.2 .6 -.2 2.4 -3.1 -.6zM305.2 620.5l2.9 .8 -.3 1.5 -2.3 -.3zM387.9 679.5l2.3 2.1 -1.3 1.2 -1.8 -1.7zM514.6 697.4l3 1.1 -.6 .9 -2.7 -.7zM342.8 657.1l2.2 .8 -.3 1.4 -2 -.6zM403.7 675.3l2.5 1.1 -1 1.4 -1.7 -.5zM340.6 638l1.4 1.2 -.9 1.1 -1.1 -1zM372.4 668.4l1.8 2 -1.6 .5 -1.2 -1.7zM418.9 655.1l3 .8 -.7 1.7 -2.5 -.9zM420.5 688.9l3.2 2 -1.4 .6 -2.1 -1.4zM423.6 699.3l1.5 1.7 -1.3 .9 -1.2 -1.4zM293.8 616.2l2.4 1.7 -.8 .7 -1.8 -1.2zM447.8 709.6l2 1.3 -.5 1.4 -2.1 -1.4zM428 695.2l2.5 2.7 -1.4 1 -2.6 -2.1zM361.5 636.4l1.4 1.5 -1 1.5 -1.5 -1.3zM370.5 676.4l2.8 .4 -.4 1.6 -2.3 -.6zM315.7 619.3l1.9 .7 -.7 1.5 -1.2 -.6zM412.7 667.8l2.6 1.6 -1.1 .7 -2.1 -1.3zM272.8 612.1l2.6 2 -1.1 1.6 -2.7 -1.7zM381.6 658.3l2.7 .8 -.4 1.5 -2.6 -.5zM368.1 644.9l2.1 1.5 -.7 1.4 -2.1 -1.2zM260.2 621.4l2.5 1.5 -1.4 1.6 -1.7 -1zM448.2 707.7l2.2 1.4 -.8 1.6 -2 -1.3zM309 617.8l3.3 2.7 -1.3 1.1 -2.5 -2.2zM467.1 715.7l2.3 .8 -.3 1.4 -2.3 -.3zM325.7 625.3l3 .7 -.8 1.1 -1.8 -.7zM286.9 610.8l2 2 -1.1 .7 -1.7 -1.6zM266.1 627.2l2.3 1.9 -.9 1.2 -2.2 -2zM372 674.1l1.4 1.7 -1.1 1.7 -1.3 -1.7zM455.6 670.2l2.5 1.3 -.8 1.5 -2.3 -1.2zM434.7 661.1l3.4 1.9 -1.2 1.3 -2.7 -1.9zM333.4 653.1l1.8 .8 -.8 1.7 -1.5 -.5zM410.8 682.8l2.2 1.9 -1.4 .9 -1.5 -1.2zM428.6 681.9l2.1 .4 -.4 1.3 -2.2 -.6zM413.2 685.6l2.7 .7 0 1 -2.5 -.5zM289.7 635.2l1.6 1.8 -1.3 1.2 -1.1 -1.4zM497.4 694.4l2.4 1.6 -.6 1.3 -2.5 -1.7zM411.4 681.8l2.8 .9 -.4 1.1 -3 -.9zM334 648l3.1 1.7 -1.2 .6 -2.4 -1.1zM476 706.8l1.4 1.3 -1.2 .6 -1 -1zM251.9 619.1l1.5 2 -1.1 .5 -1.2 -1.4zM363.6 638.4l2.2 2.1 -1.1 .9 -2.1 -1.6zM309.7 650.8l3.6 .7 -.3 1.3 -3.3 -.7zM328.2 658.1l1.9 .5 -.3 1.3 -2 -.3zM414.2 669.3l1.4 1.8 -.7 1.1 -1.5 -1.6zM381.6 667.8l1.7 .3 -.3 1.7 -1.8 -.5zM438.5 660.9l1.9 1.8 -.9 .8 -1.4 -1.3zM276.2 622.2l1.8 2 -.7 .6 -1.7 -1.7zM399 653.4l1.8 1.8 -.9 .8 -1.8 -1.8zM394.1 688.3l1.8 .8 -.7 1.2 -1.3 -1zM389.5 668.9l1.7 2 -1.3 1.1 -1.1 -1.6zM464.9 716.2l2.4 2 -1.2 .5 -1.5 -1.4zM348.1 646.2l2.5 2 -1.2 .6 -1.4 -1.3zM342.3 646.2l2.8 .8 -.3 1 -2.4 -.6zM461.5 706.7l2 2 -1.5 1.6 -1.9 -2.1zM387.1 645l2.5 .9 -.7 1.2 -1.9 -1.1zM408.2 694.7l2.9 1.1 -1.2 1.5 -2 -.8zM322 628.8l2.5 2 -1 .9 -1.9 -1.5zM272.2 612.3l1.8 .8 -1 1.9 -1.4 -1.1zM295.7 628.1l3 1.6 -1.2 1.3 -2.4 -1.5zM429.9 689.3l1.6 1.5 -.8 1.2 -2 -1.5zM402.2 688.4l2.7 1.4 -.3 1 -2.9 -1.4zM383.4 648.8l3.2 1.2 -.5 1.8 -2.7 -1zM450.5 697.9l2.2 .8 -1.2 1.8 -1.4 -1zM359.5 669.7l1.8 1.4 -1.3 1.2 -1.4 -1zM498.2 699.1l2.1 1.2 -.8 1.2 -2.2 -1.3zM425 661.9l1.2 1.2 -1.1 1.2 -1 -1zM350.7 640.1l3.3 2.2 -1.3 .6 -2.7 -1.6zM448.3 666.4l1.6 1.6 -1.3 1.2 -1.5 -1zM447.2 696l2.9 .8 -.8 .8 -2 -.7zM279.2 627.7l2 1 -.9 .6 -1.5 -.7zM326.3 642.9l3 1.1 -.8 1.3 -2.3 -.7zM448.1 672.3l1.6 1.2 -1 .9 -1.5 -1.5zM432.1 705.8l2.8 1.2 -.5 1.7 -2.1 -.7zM361.5 646.9l1.4 1.4 -.9 .6 -1.2 -1.1zM317.6 635.7l2 .6 -.4 1.4 -1.9 -.1zM451.9 682.3l2.7 1.8 -1.1 .9 -2 -1.1zM314.2 633.8l2.1 1.3 -.9 1.3 -2 -1zM264.9 626.7l1.3 1.5 -1.2 .7 -.9 -1zM389.1 660.9l1.9 1.8 -1.1 1.6 -1.7 -1.7zM503.4 726.7l1.8 1.3 -1 .8 -1.1 -.7zM430.7 690l1.6 .9 -.6 .8 -1.4 -.8zM533.6 706.8l2.1 1.3 -.9 1 -1.7 -.8zM392.8 675.5l2.8 .9 .1 1.5 -3 -.8zM408 678.3l2.6 .9 -.5 2.1 -2.5 -1.4zM593.2 745.8l2.3 2.1 -.5 .9 -2.7 -2zM411.1 688.5l2.3 1.4 -1 .9 -2 -.9zM400.6 662l1.9 .8 -.5 1 -1.6 -.4zM405.6 686.1l1.8 1.7 -1.3 1.2 -1.5 -.9zM398.5 652.2l3.1 1.4 -.2 1.5 -3.1 -1.2zM351.4 659.8l2.7 1.3 -.7 .9 -1.8 -1.1zM444 666l2.5 1.3 -.9 1.6 -1.9 -1.4zM349.4 638.8l1.7 1 -.6 1.3 -1.4 -.6zM384.1 644.5l1.4 .5 -.5 1 -1.3 -.7zM304.8 631.3l2.8 2.7 -1.4 .7 -1.8 -1.4zM472.2 682.9l1.9 1.3 -.9 .9 -1.6 -1.1zM316.2 631.1l1.8 1.5 -1.5 1 -1.3 -1.1zM435.8 666.7l2.7 1.3 -.8 1.5 -2.5 -1.5zM482.5 718.2l1.5 1 -1 .9 -1.2 -.7zM396.5 687.4l2.3 1.9 -1.1 .4 -2 -1.4zM316.3 624l1.8 .7 -.5 1.7 -1.6 -.6zM443.6 698.2l1.1 1.6 -1.4 1.2 -.9 -1.5zM274.1 621.2l2.9 2.5 -1.4 .7 -2.3 -1.8zM304.6 646.4l4.4 1 -1 1 -2.9 -.9zM454.2 678.5l2 1.7 -1.3 1.3 -1.5 -1.4zM336.3 630.5l2.8 1.7 -1.2 1.2 -2.3 -.9zM409 656l1.7 .8 -.8 1.3 -1.4 -.8zM330.1 628.7l1.9 1.6 -1.3 .7 -1.4 -1.2zM318.8 636.8l2.4 1.2 -.4 1 -2.1 -1.1zM495.9 686.9l2.2 1 -.9 2 -1.6 -1zM258.3 618.2l2.9 1.7 -1 .6 -2.1 -1zM471.2 697.9l2.9 2.6 -1.1 .4 -2.4 -1.9zM418.3 689.3l1.7 .7 -.4 2.2 -1.6 -.7zM367.8 670.4l3 .8 -.7 1.8 -2.7 -.5zM480.6 709.8l2.3 .5 -.6 1 -2.2 -.6zM434.3 685.2l2.2 .8 -.8 1.7 -1.8 -.3zM397.8 673.7l2.9 2.1 -.7 .8 -2.4 -1.7zM363.4 659.3l1.6 1.2 -1.3 1.2 -1.4 -1.3zM462.2 680.4l2.7 1.6 -.6 1.7 -2.6 -1.2zM360 657.1l2.6 1.4 -.9 1.2 -2.4 -1.1zM248.9 620l3.9 .7 -.5 1 -3.6 -.6zM335.4 658.8l1.6 1.3 -1.6 1.4 -.9 -1.1zM384.3 650.6l1.1 1.4 -1.1 .6 -1 -1.2zM267.5 618.1l1.1 1 -.5 1.1 -1.1 -1.1zM251.5 623.3l1.4 1.6 -1 .7 -1.6 -1.4zM401.5 666.4l2.3 2 -.9 .6 -2 -1.7zM447.7 675l3.2 1.2 -.6 1.2 -3.2 -1.3zM435.3 675.6l2.2 .7 -.8 1 -1.9 -.4zM321.2 623.6l3.2 1 -.8 1.4 -2.7 -.7zM279 609.7l2.2 1 -1 1.7 -2 -1zM478.3 690.8l2.3 2.3 -.6 1.2 -2.3 -1.7zM336.9 622.4l1.5 1.6 -1.1 1.2 -1.8 -1.3zM389.6 675.7l3 1.1 -.8 1 -2.5 -.6zM315.6 626.1l1.7 .9 -.8 1.7 -1.7 -1.1zM278.8 612.5l1.7 .8 -.6 1.2 -1.5 -.6zM394.4 654.3l2.3 2.9 -1.5 1 -2.5 -2.4zM293.3 637.8l1.5 .3 -.5 2.1 -1.4 -.7zM346.7 624.8l1.2 1.3 -1 1 -1 -.9zM297.5 618.6l2.3 1.9 -1.1 1 -2.3 -2.2zM286.1 617.9l2.1 .3 -.3 .8 -2.1 -.1zM322 623.9l2.2 1.6 -1 1.3 -1.9 -1.6zM293.7 639.2l3 2 -1.4 .7 -2 -1.3zM513.9 697.7l1.8 1.5 -1.1 .5 -1.2 -1zM342.8 630l2.8 1.3 -1.5 1.7 -2.3 -1.4zM382.5 650.5l2.3 .5 -.6 1.2 -1.6 -.7zM412 652.2l1.8 1.1 -.7 1 -1.4 -1zM361.4 653l1.9 2 -1.3 .7 -1.7 -1.6zM305.3 623.8l2.1 1.5 -1.2 1.3 -1.4 -1.3zM295.3 633.5l1.9 2.3 -1.6 .8 -1.6 -1.3zM303.7 625.2l3.8 .8 -.6 1.1 -3.1 -.5zM282.2 635.4l1.8 1.4 -.3 .9 -2 -1zM360.7 668.8l3.8 1 -.6 1.4 -3.3 -.6zM384.8 672.4l3.1 2 -1 1 -2.5 -1.3zM379.1 664.4l3.7 1 -.6 1.2 -3.1 -.7zM416.2 651.5l1.7 1.8 -.9 .7 -1.3 -1zM441.3 687.2l1.6 .5 -.5 1.2 -1.5 -.7zM419.4 660.3l1.4 .7 -.8 1.6 -1.4 -.9zM340.7 642.6l2.4 2.2 -1.2 .6 -2.5 -2zM476.2 705.7l3.1 1.7 -1.2 1.4 -2.3 -.9zM321.7 638l1.4 1.4 -1.1 1.3 -.9 -1.2zM537.3 713.9l2.5 .6 -.6 1.1 -1.6 -.7zM366.1 672.1l2.5 1.3 -.6 1 -2.4 -1.1zM479.8 678.3l2.4 2.5 -1.3 1.1 -2.2 -2.1zM318.4 641l2.2 1.7 -.7 1.3 -2.5 -1.4zM324.1 653l2 1.6 -1.2 .8 -1.4 -1zM364.2 649.1l1.8 .8 -.4 1.7 -1.7 -.6zM476.6 699.4l1.8 .9 -.9 1.3 -1.6 -1.1zM435.8 662.4l1.8 2.2 -.9 .8 -1.5 -1.8zM318.1 619l2.6 1.4 -.4 1 -2.8 -1.1zM348.5 658.4l2.3 1.6 -1.3 1.2 -1.7 -1zM372.2 669.4l1.5 .9 -.4 1 -1.4 -.8zM477.4 680.8l2.9 2.8 -1.5 .5 -2 -2zM515.3 696.3l3.5 .2 -.3 2.2 -2.9 -.5zM383.4 659.9l2 1.4 -.5 .7 -1.5 -1.1zM354.3 665.8l1.5 .7 -1 1.2 -1.3 -.7zM382 680.6l2.6 2.2 -1.1 .6 -1.9 -1.2zM407.1 654.9l2.6 .2 -.3 1.6 -2.2 -.6zM444.5 710.4l2 .4 0 1.6 -2.5 -.2zM457.3 678.9l2.9 2.2 -1.2 1.1 -2.4 -1.5zM374.1 645.1l1.4 1.1 -.5 1.1 -1.4 -.9zM361.5 633.5l2.1 .9 .1 1.1 -2.3 -.7zM436.1 706.3l3.2 2.1 -1.4 .6 -1.9 -1.4zM340.5 631.4l1.9 1.7 -.9 1.2 -1.4 -1.1zM280.2 631.2l3.1 1.4 -1 1.6 -2.6 -1.4zM331.2 623.4l3.1 .7 -.6 .9 -2.7 -.6zM353.2 643l2.2 2.5 -1.2 1.2 -2 -2.1zM435.1 695.8l1.4 1.6 -1.2 1.2 -1.5 -1.7zM444.4 693.9l3 .5 -0 1.7 -3.2 -.8zM343.4 656.8l2.8 2.5 -1.3 .5 -2 -1.8zM346.5 643.5l1.9 1.2 -1 1.1 -1.3 -.8zM300.4 635.1l3 2.6 -1.1 1.3 -2.8 -2.1zM365.6 640.8l3.9 1.4 -1.5 1.5 -2.5 -1.5zM449.1 693.9l2.2 2.4 -1.2 .4 -1.4 -1.9zM256.6 616.2l1.7 1.8 -1 .7 -1.5 -1.7zM438.3 669.3l2.8 1.9 -.8 .9 -2.2 -1.4zM326.6 656.2l2.4 2.6 -1.7 1.1 -2.1 -2.3zM349.2 654.9l2.7 1.3 -.8 1.1 -2.8 -1.4zM347.9 628.2l2.4 .4 -.3 1.7 -2.8 -.7zM305.9 641.6l1.2 1 -.5 .8 -1.3 -.7zM497.5 690.7l2.1 1.1 -.6 1.1 -1.9 -.9zM440.7 667.7l1.6 .6 -.5 1.7 -1.5 -.8zM513.6 707.2l2.1 2.2 -1.2 1 -1.9 -2.3zM287.2 615.9l3.3 1.4 -.9 .9 -3 -1.2zM461.1 694.8l2.9 2.3 -1.2 1.3 -2.6 -1.8zM441.7 697.4l2.1 1.3 -1 1.4 -1.7 -1.2zM313.5 651.3l1.4 1.4 -.7 .8 -1.4 -1.2zM350.3 660.8l2 1.5 -.8 1.1 -1.4 -1.4zM301.6 631.4l2.2 1.2 -.9 1.2 -1.9 -1.3zM380.8 675.5l1.7 1.4 -.3 .9 -2.2 -1.5zM254.4 617.6l1.9 1.2 -1 1.1 -1.2 -1zM316.2 629.8l1.1 1.2 -1.3 1.7 -1.1 -1.3zM445.2 664.3l1.8 .9 -1.2 1.2 -1.4 -.8zM361.1 641.4l2.1 1.9 -1.3 .8 -1.2 -1.5zM347.3 629.7l3.2 1.2 -.7 .9 -3 -1zM292.5 620.7l2.3 .8 -.6 1.6 -1.7 -.8zM419.9 687.8l3.6 1.3 -.9 2 -3.6 -1.1zM426.9 658.3l2.3 1 -.9 .8 -2 -.8zM460.7 701.6l2.6 1.1 -.9 1.5 -1.9 -.6zM436 667.8l1.7 1.7 -1.7 1.3 -1.5 -1.6zM308.6 613.7l2.4 1.3 -.5 2 -2.6 -1.3zM450.8 688.5l1.9 1 -.9 1.6 -1.3 -.9zM433.7 658.7l2.2 2.9 -1.5 .5 -1.9 -2.1zM469 677.7l2.3 1.1 -.4 1.7 -2.2 -.7zM359.1 635l2.1 1.2 -.8 .9 -1.7 -.7zM509.7 695.1l2.2 .8 -.5 1.6 -2.2 -.8zM506.3 735.4l3.2 1 -.2 1.3 -3.2 -.6zM319 637.2l2.4 .8 -.7 1.6 -2.2 -1zM303.5 630.8l1.4 1.9 -.8 .8 -1.7 -1.3zM439.5 671.3l1.3 1.7 -1.1 1.1 -1.1 -1.6zM285.2 634.4l2.5 1.9 -1.3 1.6 -2 -2zM432.3 700.6l2.2 1.5 -.7 1.2 -1.9 -1zM308.7 630.1l1.4 .2 -.3 1.5 -1.7 -.3zM448.1 686.6l2.5 2.1 -1 .4 -2.3 -1.6zM453.4 713.5l2.2 1 -.1 1.1 -2.3 -.7zM295.3 631.4l1.5 1.5 -1.1 1.2 -1.3 -1.4zM379.8 647.8l4.1 .5 -.9 1.7 -2.5 -.6zM316.1 627.6l3 .9 -.3 1.2 -2.7 -1.2zM258 626.5l1.9 1.6 -.7 1.1 -1.5 -1.2zM433.9 673l2.3 1.2 -.2 1 -2.7 -.9zM439.2 676.7l3.3 1.5 -1.2 1.7 -2.5 -1.4zM316.9 613.9l2.3 1.3 -.6 1.4 -2.1 -1zM321.7 635l2.3 1.8 -.9 .8 -1.5 -1.5zM336.5 645.1l2.9 1.5 -.8 1.2 -2.4 -1.4zM379.3 639.7l3.3 1.1 -.3 1.5 -3.2 -.7zM463.4 689.5l3.2 1.1 -.3 1.5 -2.9 -.8zM297.4 637.5l2.1 2.1 -1 .9 -1.7 -1.6zM435.2 690.8l3.5 1.2 -.8 .9 -2.8 -.6zM481.3 696.6l2.1 1.9 -1.4 1 -2.3 -1.5zM326.5 613.5l2.2 1.1 -.2 1.1 -2.3 -1zM577.9 728.3l1.6 1.1 -1.2 1.3 -1.3 -1.2zM388.5 644.4l1.9 .9 -.6 1.1 -1.6 -.4zM423.6 656.1l2.1 1.3 -1 1 -1.5 -.8zM458.1 711.4l1.8 1.1 -.2 1 -2.2 -1.2zM426.5 657.2l2 2 -1.3 1.2 -1.9 -1.2zM369.2 640.6l2.3 .6 -.6 1.8 -1.9 -.6zM338.3 658.1l1.9 .6 -.3 1.4 -2.1 -.6zM345.1 664.4l2.2 1 -.6 1.8 -2.3 -1.2zM289.7 637l2.1 1.3 -.8 1.1 -1.4 -.7zM508.2 694.9l1.7 .7 -.8 1.6 -1 -.9zM462.8 680l2.2 .7 -1.2 1.5 -1.7 -.6zM354.5 646.8l2.1 1.7 -.8 .8 -2.2 -1.5zM492.7 684.7l1.2 1.4 -.7 .9 -1 -1zM414.4 680.9l2.3 1.2 -.8 .9 -2 -1.2zM308.6 618l2.3 1.6 -.7 .7 -2.4 -1.6zM398.4 648.5l1.6 .7 -.2 1.5 -1.8 -.5zM283.7 625.9l2.1 2.2 -1 .5 -2 -1.9zM335.9 637.2l1.7 1.7 -.8 1.1 -1.7 -1.4zM341.7 653.8l1.8 1.4 -.9 .7 -1.3 -1zM364.8 640.3l1.2 1.7 -.9 .9 -1.3 -.9zM463.3 691.2l4 1.9 -1.3 .8 -3 -1.4zM256.4 615.4l2.9 1.5 -.7 1 -2.9 -1.3zM428.6 700.1l1.3 1.8 -1.2 .9 -1.1 -1.1zM452.9 698.8l2.6 .9 -.9 1.6 -2.6 -1.1zM295.6 639.7l2.4 1.6 -1.2 1.2 -2.2 -1.6zM311.7 624l2.9 1.5 -.6 .9 -2.4 -1.3zM551.1 716.7l2.6 2.1 -1.4 1.2 -1.9 -1.6zM418.3 684.3l3.5 .9 -.7 1.4 -2.9 -.5zM428.5 692.7l2.1 2 -1.2 1.3 -1.7 -1.4zM325.8 631.1l1.1 1.3 -.8 1.4 -1.4 -.8zM395.8 665.6l2.5 1.1 -.9 1.7 -2.3 -1.2zM334.1 645.3l2.1 2.3 -1.6 1.5 -1.6 -1.8zM448.9 711.5l2.4 1.4 -1 .7 -1.7 -.8zM293.8 639.7l4.1 1.5 -1 1.3 -2.6 -.9zM289 611.4l1.9 1.7 -1 1.2 -1.8 -1.4zM362.3 642.3l2.2 2.3 -.8 .6 -2.1 -2zM501.7 703.8l3.3 1.9 -1.2 1.4 -3 -1.6zM398 657.8l2.5 1.1 -1 1 -2.4 -.8zM408.3 648.4l3.1 2.3 -1.1 1.3 -2.7 -1.5zM453.5 677.2l1.4 1.2 -.8 1.1 -1.4 -1.4zM347.7 626l4.1 .8 -.6 1.3 -2.9 -.7zM340.6 660.1l2.8 2.4 -1.3 .6 -2.7 -1.9zM348.2 652.2l1.8 1.6 -.8 1.1 -1.5 -1.8zM366.1 664.3l2.5 .7 -.5 1.3 -2 -.6zM407.2 685.4l1.7 .7 -.7 1.5 -1.5 -.7zM340.6 627.5l2.2 .4 -.6 1.2 -2.1 -.6zM371.8 673.4l3.4 1.7 -.5 1 -3.2 -.9zM369.7 676.5l1.3 1.2 -.7 1 -1.1 -1zM373.6 664.9l2.2 1.1 -1.2 1.8 -1.3 -.9zM354.7 626.4l.8 1.4 -.8 1.6 -1.1 -.9zM406.4 654.1l3.6 .9 -1 1.3 -2.8 -.2zM373.6 662.8l3.2 .8 0 1 -3.1 -.9zM339 620.8l2.4 1.3 -.6 .7 -1.9 -.9zM288.8 622.9l2.2 1.3 -1.1 .8 -1.8 -1.3zM407.9 652.4l1.5 1.8 -.8 .4 -1.5 -1.4zM329.3 634.2l3 1.5 -.4 1.5 -2.7 -1.5zM460.3 706.7l3 1.6 -1.2 1.3 -2.4 -1.5zM355.6 641.1l1.6 1.7 -.9 1.3 -1.8 -1.2zM328.5 650.2l2.2 1.1 -1 1 -1.7 -.9zM358.6 669.8l2.7 2.1 -1.1 .9 -1.8 -1.5zM253.2 619.7l3.5 1.3 -.9 1.4 -2.8 -.6zM355.8 670.2l1.5 .6 -.1 2 -1.8 -.4zM333.5 634.3l2.6 1.6 -.6 1.4 -2.2 -1.4zM441.6 682.5l2.1 2.1 -1.1 .8 -1.8 -1.5zM357.3 647.7l2.7 .5 -.6 1.2 -2.5 -.3zM482.6 694.3l1.8 1.1 -.4 1.1 -1.3 -.5zM287.5 619.4l2 2.3 -1.1 1 -1.9 -1.6zM380.5 640.5l1.6 1.7 -1.2 1.2 -1.7 -1.7zM359.6 635.9l1.9 1.8 -1 1 -2 -1.8zM426 667.4l2.5 2.1 -1 .8 -2 -1.9zM424.2 699.8l3.7 .9 -.9 1.3 -2.7 -1zM516.5 698.4l1.7 1.1 -.8 .7 -1.4 -.9zM424.1 679.6l1.7 1.1 -.7 1.5 -1.8 -.8zM331.3 652.6l2 .7 -.7 1.7 -1.6 -.4zM343.7 653.6l1.7 .8 -.6 .8 -1.3 -.5zM567.3 743.9l1.6 1.3 -1.2 1.2 -1.1 -1.3zM393.2 676.1l1.7 .5 -.4 1.5 -1.6 -.5zM293.2 631.1l2 1 -1 1.6 -1.6 -1.1zM338.3 623.2l3.8 .6 -.3 .7 -2.8 -.3zM387.5 664.7l3.1 1 -1 1.9 -2.5 -1.6zM361.6 651.2l1.5 .6 -.2 1.9 -1.7 -.6zM515.6 745.7l3.2 1 -.7 1.5 -2.9 -.7zM328.7 622.7l2.4 1.2 -.6 1.1 -2.3 -.8zM399 690.2l2.4 2 -1.3 1.3 -2.5 -2.2zM424.7 656.4l3.1 1 -.6 1.1 -2.3 -.7zM291.2 616.5l2.6 1.7 -.7 .9 -1.9 -.9zM369.4 643.5l1.5 1.5 -1.1 1.1 -1.3 -1.3zM461 681.1l2.7 .8 -.4 1.6 -2 -.8zM441.6 668.1l1.2 1.5 -1.5 1.3 -.8 -.9zM399.9 665.5l2.5 2.3 -.8 .8 -2.9 -2.4zM407.2 685.2l2.6 2.3 -1.2 .5 -1.5 -1.6zM290.4 616.4l2.3 .9 -.7 1.5 -1.5 -.5zM287 619.7l1.7 .5 -.4 1.5 -1.7 -.5zM300.1 628.5l1.7 1.7 -.7 1 -1.9 -2.1zM374.6 644.5l1.8 1.9 -1 .7 -1.5 -1.8zM458.2 682.8l2.3 1.1 -1.2 1.4 -1.5 -1.2zM371.3 663.9l3.4 1 -1 1.3 -2.6 -.9zM387.1 657.4l3.4 1.6 -1.1 .8 -2.6 -1.4zM408.7 695.4l2.3 .8 -.4 1.4 -2.1 -.6zM335.3 629.4l3.7 .6 -.9 1.3 -2.4 -.5zM290.5 635.2l3.3 1.5 -.9 .8 -3.2 -1.2zM335.4 649.7l2.6 2 -1.5 1 -1.7 -1.2zM349.3 627.5l2.1 2.3 -.8 1.4 -2.6 -2.8zM394.1 686.5l3.9 .7 -1.1 1.2 -2.5 -.4zM306 632.9l3.1 1.2 -.7 1.3 -2.5 -1zM389.4 682.2l3.1 1.8 -.5 1.3 -3.1 -1.7zM357.4 641.2l1.7 1.5 -.6 1.3 -2.1 -.9zM397.4 646.1l3.9 2.1 -.9 1.7 -2.8 -1.6zM332 646.2l1.9 .8 -.4 .9 -2 -.8zM323.8 626.5l2.6 1 -.7 1.4 -1.9 -.4zM476.4 703.8l2 1.8 -.8 1.8 -2.5 -2zM333.5 652.3l2.6 1.7 -.3 1.2 -2.5 -1.5zM329.4 614.6l2 1.3 -1 1.5 -2.2 -1.6zM368.4 655.5l2.3 .5 -1 1.4 -1.5 -.4zM533 742.1l1.8 .9 -.5 2 -1.5 -.6zM285.3 622.7l2.4 1.3 -.8 1.2 -2.1 -.9zM464.9 687.4l2.7 1.3 -.8 1.7 -2.5 -1.3zM411.8 692.3l2.8 1.5 -1 1.2 -3 -1zM442.9 710.2l3.2 1.4 -.8 1.8 -2.7 -1.6zM357.7 633.3l1.6 1.6 -1.3 1.5 -1.4 -1.2zM503.5 696.2l1.7 1.4 -.9 .5 -1.5 -1.3zM284.8 634l2.8 .7 -.2 1.7 -2.9 -.9zM301.9 642.1l2 1.9 -1.3 1.2 -1.9 -1.7zM559.8 733.4l2.8 1.6 -.9 .8 -2.8 -1.7zM434.7 689.7l3.6 .8 -.3 1.2 -3 -.6zM404.8 692.2l3.2 .5 -.6 1.2 -2.8 -.8zM270.9 624.8l1.7 1.3 -.7 1.3 -1.7 -1.1zM307 638.6l1.7 .8 -.5 .8 -1.6 -.5zM343.3 623.6l1.9 .9 -.3 1.4 -2.3 -.8zM313.8 650.3l2.9 1.8 -1.6 1.2 -1.9 -1.4zM376 646.7l2.8 1.1 -.3 1.4 -2.6 -1.2zM370.7 647.4l2 1.7 -.6 1.1 -1.5 -1.3zM339.6 655.5l1.1 1 -1.2 1.5 -1.1 -1.2zM370.1 646.3l2.1 1.8 -.9 1 -1.8 -1.8zM354.8 657.1l2.5 2.2 -1.3 1.9 -1.9 -2zM411.5 652.5l3 .5 -.5 .9 -2.6 -.4zM420.7 656.2l1.6 1.8 -1.1 .4 -1.6 -1.6zM309.8 647l2.5 1 -1.2 1.7 -2 -1.2zM250.6 622.4l1.9 .8 -.4 1.8 -2.1 -.8zM345.1 644.8l2.3 .9 -.5 1 -2.3 -.6zM423.2 685.8l2.1 .5 -.2 1.5 -2.1 -.3zM332.5 653.8l2.2 2 -.6 1.1 -2.4 -1.9zM379.3 650.4l3 1.2 -.5 1.2 -2.4 -1.1zM445.5 677.7l2.5 2.5 -1.2 .5 -1.7 -1.7zM429.6 666.5l3.1 2.3 -1.5 .5 -2.1 -2zM280 627l1.5 1.4 -.7 .6 -1.3 -.8zM446.2 668.8l2.7 .6 -.7 1.2 -2.6 -.6zM293.9 623.6l2 1.5 -.4 1 -1.8 -1.3zM400.5 686.5l1.7 2.5 -.7 1.1 -2 -2.4zM371.8 665.2l1.4 .4 -.3 1.5 -1.3 -.3zM315.7 646.5l1.4 1.1 -.8 .8 -1.1 -1.1zM319.4 611.8l2.3 .7 -.5 1.6 -1.8 -.6zM361.2 648.1l2.5 2.6 -2.2 .9 -1.8 -2.5zM526.8 719.9l2.4 2.3 -1.6 1 -1.7 -1.5zM387.5 654.4l2.7 2.2 -1.5 .8 -1.9 -1.9zM346 621.3l1.6 1.3 -.6 1.2 -1.6 -.6zM386.3 678.2l2.6 1.4 -.3 1.1 -2.3 -.8zM371.4 643.7l2.1 .4 -.5 1.4 -1.6 -.2zM332.4 620.8l1.5 1.2 -.9 1.1 -1.5 -1zM561.7 749.4l3 .6 -.3 1.9 -3 -.7zM360.7 632.1l3 1.1 -1 1.5 -2.7 -.6zM378.8 642.3l3.3 .9 -.4 1.1 -3.4 -1zM423.3 691.8l1.9 1.5 -.8 1 -1.8 -1.4zM382.4 668.7l1.4 1.4 -1 1.2 -1 -1zM375.2 664.6l2.6 .8 -.8 1.6 -2 -.7zM334.8 650.9l3.4 1.7 -1.1 1.4 -2.8 -1.3zM478.5 680l3 .7 -.2 1.1 -2.6 -.8zM360.2 639.4l3 1.4 -.9 1.4 -2.9 -.8zM270.1 630.6l1.8 1.1 -1 1.1 -1.6 -1.1zM470.2 688.8l1.7 1.3 -1.2 1.3 -1.1 -.9zM297.3 610.8l2.1 .6 -.3 1.2 -1.7 -.3zM406.3 690.5l3 .4 -.8 1.2 -2.4 -.3zM240.5 616.5l2.7 .9 .1 1 -3.2 -.7zM387.8 645.3l3.1 2 -1.1 1 -2.4 -1.7zM262.4 626.8l1.9 1.3 -.4 1.2 -2.1 -.9zM505.4 693l2.3 2.3 -1.6 1.5 -1.3 -1.8zM322 616.9l2.2 1.6 -1 1.3 -1.7 -1.1zM414.2 673.5l2.2 2 -1.2 .4 -1.4 -1.5zM284.3 631.9l2.2 .8 -.6 1.4 -2.1 -.4zM352.1 639.4l1.4 1.3 -1.3 1.7 -1 -1.6zM358.7 650.6l1.4 1.5 -.7 .9 -1.5 -1zM434.2 694.4l2.4 2.2 -1.1 1.3 -2.3 -2.2zM369.4 662.1l1.7 .8 -.6 1 -1.1 -.6zM359.7 637.7l2.7 .8 -.9 1.4 -2 -.6zM330.8 641.2l1.8 .5 -.3 1.6 -1.4 -.5zM291.7 612.6l2.2 2.7 -1.5 1.2 -1.5 -1.9zM387 643.4l2 .8 -.6 .8 -1.2 -.4zM481.7 685.6l2.5 2.8 -1.5 .8 -2.1 -2.2zM380.6 661.2l2.3 1 -.7 1.6 -1.8 -.6zM455.5 688.3l1.9 .7 -.8 1.5 -1.7 -.4zM335.4 619.1l4 1.6 -1.4 .5 -2.9 -1.1zM299.7 640.1l3.1 1.9 -1.1 1.9 -3 -2.1zM426.8 695.8l3.1 1 -.1 1.1 -3.3 -1zM505.1 699.6l3.1 1.7 -1.2 1 -2.5 -1.4zM371.3 670.8l3 1.4 -.5 1.1 -3.4 -1.3zM393.8 647.2l2.4 1.7 -1.1 1.5 -1.7 -1.5zM514 723.2l2 2.3 -.9 .5 -2.1 -2zM365.3 653.2l2.2 .8 -.6 1.4 -1.6 -.6zM439 703.1l3.3 1.5 -.4 1.7 -2.7 -1zM330.4 616.3l1.8 1.2 -1.2 1.2 -1.1 -.8zM328.3 637.7l2.4 2.3 -1.5 .7 -1.8 -1.5zM329.1 640.2l2.7 1.3 -1.1 1.5 -1.9 -1.3zM382.5 652.3l2.8 1.8 -.6 1.4 -2.5 -1.8zM373.2 645.9l1.3 1.4 -1 .9 -1.5 -.9zM437.1 693.9l2.4 1.3 -.9 1 -2.2 -1.4zM349.4 631.4l2.1 1.7 -.8 1.5 -2.4 -1.5zM313 618.7l2.2 2.3 -1 1 -2.1 -2.3zM428.5 676l1.8 1.3 -1.2 1.1 -1.5 -.8zM361.2 644.2l3.5 2.1 -1.8 1.2 -2 -1.5zM278.6 624.5l1.5 1.8 -1.1 .6 -1.4 -1.4zM437.5 678.1l2 1.9 -.9 1.1 -2 -1.8zM372.6 656.9l2.1 1.8 -1.4 .9 -2.1 -1.7zM445 709.4l3.1 2 -.9 .8 -2.2 -1.3zM445.8 668.3l2.3 2.4 -1.2 .9 -1.7 -2.1zM364.8 665.3l2 1.4 -.8 .8 -1.8 -1.4zM403.9 685.2l3.2 2.4 -1.5 .7 -2.4 -1.7zM498.5 695l3.3 1.9 -1 .9 -2.7 -1.3zM382.5 655.6l4 1.4 -.7 1.2 -2.8 -1.2zM437.2 666.7l1.9 1 -.7 1 -1.7 -.7zM397.4 680.3l1.6 .9 -.6 1.4 -1.2 -.4zM292.7 636.3l1.7 1 -.8 1.9 -2 -1.1zM528.8 713l3.3 .5 -1.1 1.3 -2.3 -.5zM382.8 644.2l2.6 .8 -.7 1 -2 -.5zM473.8 686.8l1.9 .8 -.2 1.7 -2.2 -.6zM445.8 711.5l1.3 .6 -.3 1 -1.5 -.6zM319.7 614.9l2 1.4 -1.3 1.5 -2 -1.6zM378.5 680.3l2.3 .5 -.7 1.6 -2.2 -.4zM477.9 695.6l1.6 1 -.7 1 -1.4 -.6zM447.4 705.9l2.5 2.3 -1.5 1.2 -1.5 -1.6zM325.7 616.8l1.9 1.9 -1.5 1.1 -1.3 -1.3zM419.6 697.6l2.2 .6 -.7 1.5 -1.7 -.7zM369.1 635.7l1.5 .8 -.8 1.4 -1.3 -.7zM424.8 664.1l2.7 2.6 -1.1 1.2 -2 -2.1zM318.4 640.9l1.9 1.1 -.8 1.2 -1.4 -1zM423.9 686.4l2.8 1.3 -.9 1.5 -1.7 -1zM446.6 695.3l3 1.5 -.9 1.6 -2.4 -1.2zM397.8 686.7l1.4 .7 -.4 1.1 -1.2 -0zM359.1 664.3l2 .6 -0 1.5 -1.9 -.4zM458.5 697.2l4 .8 -.8 1.6 -3.2 -1zM360.9 659.3l1.9 1.5 -1.2 1.3 -1.6 -.9zM517.2 718.8l1.7 1.4 -.9 1.1 -1.6 -1.2zM275 614.8l3.2 .8 -.4 1.5 -2.8 -.5zM440.9 688.9l2.5 1.7 -.8 1.3 -2.5 -1.2zM325.4 640.2l1.7 1.3 -.8 .7 -1.5 -1.2zM382.9 651.5l2.6 2.9 -1 1.1 -2.3 -2.1zM448.6 667.1l1.1 1.8 -1.6 1.5 -1.2 -1.5zM442.2 669.6l3.9 1.8 -1.2 1.3 -3 -1.3zM423.8 667.2l1.5 1.1 -.7 .8 -1.5 -.8zM340.4 640.5l1.3 .9 -.5 .9 -1.4 -.8zM469.8 688l2.3 1.2 -.4 1.1 -2.1 -1.1zM418.3 673.2l3.2 1.4 -1.2 1.6 -2.2 -.9zM353.1 630.4l3.7 1 -.9 1.6 -3.1 -.8zM431.4 670l2.3 2 -1.1 .6 -1.8 -1.5zM472.3 679.4l2.3 1.1 -.5 1.8 -2.2 -.9zM303.5 612.7l.9 1.8 -1.5 1 -.9 -1z" fill="#b68b4a"/>
<path d="M526.2 710l1.7 1.1 -.7 .9 -1.5 -.6zM476.6 720.4l2.4 2 -1.5 1.1 -1.5 -1.8zM554.5 721.4l2.8 2.9 -1.2 1.4 -2.3 -2.7zM492.2 713.1l2.8 2.6 -1.6 .8 -2 -1.7zM494.7 730.4l2.8 1 -.5 1.3 -3 -.9zM497.4 729.2l4.1 1.1 -1.1 1 -2.6 -.8zM514.1 703.6l1.8 1.5 -.6 .9 -1.4 -1zM487.9 732.3l3 1.7 -1.1 1.9 -2.1 -1.5zM486.6 712.6l2.6 1.8 -1.2 .7 -2.4 -1.4zM575 725.5l2.4 1.8 -1.5 .6 -2.2 -1.4zM537.8 710.8l3.4 1.2 -.5 1.2 -2.3 -.7zM560.9 735.9l1.4 1 -.7 1.8 -1.2 -.8zM481.1 724.4l1.6 2 -1.3 1.4 -1.4 -1.9zM501.7 727.6l1.3 1.6 -.9 .8 -1.3 -1.2zM497.5 718l3.2 .5 -0 1.7 -2.9 -.6zM492.2 709.1l2.3 2.2 -1 .7 -1.8 -2zM567 751.2l3.2 1.5 -.4 1.1 -2.7 -1.5zM502.3 708l.9 1.3 -.7 1 -1.2 -1.6zM482.1 722.4l2.7 .6 -.7 1.6 -1.8 -.5zM560 728.8l2 1.6 -.9 1 -1.7 -1.1zM517.1 721.6l2.2 1.3 -.3 1.2 -2.1 -1zM512.4 699.6l3.3 1.4 -1.2 1.2 -2.5 -.7zM500.7 708l2.5 .6 -.8 1.1 -2.2 -.4zM508.5 723.9l2.3 2.2 -1.7 .8 -1.3 -1.6zM573.9 721.8l1.6 1.9 -1.2 1.4 -1.9 -2zM556.1 720.2l2.2 .7 -.6 1.2 -1.8 -.7zM535 714.5l3.7 .7 -.6 1.7 -3.4 -.5zM550.8 710.8l2.1 1.2 -.6 1.6 -2.4 -1.5zM573.9 744.8l3.2 .8 -.4 2 -3.2 -.8zM496.8 707l2.2 1.5 -1.1 1.5 -1.6 -1.2zM508.7 726.9l1.6 .6 -.7 1.7 -1.3 -.6zM495 718.3l2.5 .4 -.6 1.3 -2 -.3zM564.4 724.6l2.4 2.3 -.9 .6 -2.2 -2zM508.1 726.2l2.8 2.5 -1.4 .6 -2.3 -2zM545.8 711.2l1.1 1.2 -.9 .7 -.9 -.9zM543.8 737.6l3.4 1.4 -.8 1.2 -2.7 -1.3zM513 703.8l2.1 2.2 -.7 .6 -2.2 -2.3zM595 730.1l1.4 1.6 -.9 .7 -1 -1.1zM500.7 728.5l3.4 2.3 -.8 .6 -3.1 -1.8zM544.3 718.7l2.2 2.2 -1.9 1 -1.7 -1.7zM547 738.3l2.5 1.4 -.9 1.5 -2.4 -1.4zM517.6 706l1.3 1.1 -1 .9 -1.2 -1.3zM530.1 739.5l1.7 1.1 -.4 1.1 -2.1 -1.3zM585.7 731.2l1.5 1.8 -1.4 1 -1.5 -1.2zM546.1 755l1.3 .7 -1 1.8 -1.3 -.7zM494 706.9l1.3 1.8 -1.2 1.5 -1.5 -1.9zM552.9 760.5l3 1.6 -.6 .8 -2.6 -1.2zM509.7 701l1.8 2.1 -1 .5 -1.8 -1.5zM514.6 715.5l1.9 1.1 -.9 1.2 -1.5 -.8zM519.9 736.8l2.1 .7 -.6 1.7 -1.8 -.9zM476.9 722.8l2.8 2.6 -1 .4 -1.9 -1.5zM537 712l2.7 2.2 -1.3 1.2 -2.3 -1.6zM544.5 740.9l2.2 1.5 -.8 .7 -2.3 -1.5zM522.1 703.5l2.6 2.4 -1 .9 -2.4 -2.2zM575.1 737.4l3.5 .7 -.7 .9 -3 -.7zM489.3 717.4l2.4 1.5 -1.1 1.6 -2 -1.2zM535.7 733.5l2 1 -.8 .7 -1.3 -.5zM521.2 708l1.9 .9 -.5 1.3 -2 -.7zM491.7 708.5l2.8 2.8 -1 1 -2.8 -2.2zM477.5 718.2l2.6 2.5 -1 .4 -3.1 -2.2zM525.5 711.1l2.3 1.7 -1.4 1.3 -1.6 -1.4zM528.8 702.6l1.2 .9 -.6 1 -1.2 -.6zM477.9 727.2l2.3 .4 -.7 1 -1.9 -.3zM505.8 706.9l2.7 .7 -.2 1.8 -2.6 -.8zM524.7 727.9l2.5 1.4 -.8 1.3 -2.1 -.9zM504.8 706.9l3 2.6 -1.1 .5 -2.8 -2.2zM515.1 701.6l2.4 1.7 -1.2 1.5 -1.6 -.9zM499.6 727l1.8 .5 -.5 1.8 -1.8 -.5zM503.3 706.4l3.9 1 -1.4 1.6 -2.5 -.9zM550.5 710.9l2.6 1.1 -.8 .8 -2.2 -.7zM514.2 715.8l2.7 2 -1.2 1.2 -2.6 -1.8zM550.5 726.5l2.2 1.3 -1.3 1.6 -1.5 -1.1zM502 722.1l2.3 1.1 -.5 1.6 -2.1 -.7zM496.1 731l1.7 1.3 -.7 1 -1.4 -1.1zM554.6 748.5l2.2 1.8 -1.1 1.2 -1.7 -.9zM531.4 750.6l1.3 1.2 -1 1.5 -1 -1.2zM522.5 698.9l2.1 2.2 -1 .6 -1.9 -1.7zM548.8 750.1l2.1 1.6 -.7 1.8 -2.6 -1.6zM605.7 762.2l4 1.4 -.7 .9 -3.4 -1.3zM589.6 748.4l1.4 1.2 -.8 .9 -1.2 -.9zM506.8 703.1l3.1 2.6 -1 .5 -2.5 -2.2zM562.5 730.6l1.9 .6 -.8 1.7 -1.4 -.5zM559.9 748.3l2.2 1.6 -1.2 .9 -1.9 -1.4zM503.6 730.2l2.1 1.3 -.5 .9 -2.2 -1.2zM550.6 730.4l1.7 2 -1.3 1 -1.8 -2.3zM522.8 726.6l2.4 2.6 -1.3 .9 -2.2 -2zM526.8 743.5l1.7 .6 -.5 1.2 -1.7 -.3zM486.9 709.9l2.6 .8 -.2 1.6 -2.7 -.9zM504.9 707.4l1.9 1 -.5 1.4 -1.9 -.7zM498.9 732.6l1.8 1.3 -.4 1.1 -1.8 -.6zM525.4 730.8l1.8 1.5 -1 1.2 -1.7 -1.5zM530.5 711.6l1.3 1.4 -1.3 .8 -1.1 -1.3zM509.3 738.6l1.4 1.6 -1.1 1.1 -1.4 -1.4zM529.3 722.2l3.2 .8 -.2 1.2 -3 -.4zM502.8 736.1l1.9 1 -.6 .8 -1.5 -.7zM549.7 723.8l1.1 1.4 -1.1 .9 -1.3 -1.3zM489.6 721l1.5 1.5 -1.4 1.6 -1.3 -1.5zM520.7 697l3 1.8 -1.2 1.7 -2.6 -1.6zM592.7 736.5l2.9 1.9 -1.1 1.1 -2.5 -2zM531.2 729.6l2.8 2.1 -.9 1.4 -2.2 -1.8zM604.9 751.9l1.7 1.7 -1.3 1.2 -1.4 -1zM506 703.9l1.8 1.8 -1.3 .9 -1.6 -1.3zM493.3 715.6l1.6 1.6 -1 1.3 -1.9 -1.5zM537.2 713l2.6 1.5 -.5 .9 -1.8 -1zM525.5 708.7l3.1 1.1 -1 1.1 -2.1 -.8zM546.5 743.7l2.8 .5 -.8 .9 -1.9 -.5zM487.9 732.8l2.4 .8 -.6 1.5 -2.6 -1.1zM517.8 743.1l2.1 1.6 -1.2 1.4 -2.1 -1.3zM523.9 725.5l2.6 1.7 -1 1.2 -2.2 -1.5zM511.4 725.9l1.8 .5 -.8 1.7 -1.3 -.8zM489 722.6l2.8 2 -.7 .8 -2.3 -1.3zM574.8 741.6l2.1 2.5 -1.2 .5 -1.7 -2zM506.2 710.6l2.7 1.1 -.4 1.7 -2.2 -1.2zM560.4 731.8l3.8 1.2 -1 1.2 -3.2 -1.2zM510.2 741.3l2.5 2 -1.1 .7 -1.9 -1.5zM568.4 759.6l1.9 1.6 -1.1 .9 -1.7 -1.2zM541.2 727l2 .6 -.2 .9 -1.8 -.1zM521.1 724.2l1.4 1.3 -.6 1.2 -1.5 -.7zM538.2 718.2l2.1 1.1 -1 1 -1.6 -1zM472.8 719.7l3.7 1.8 -1 1.4 -3.4 -1.9zM536 716l2.3 1.9 -.6 1.1 -2.9 -1.6zM534.6 721.5l2.2 .7 .2 .9 -2.8 -.4zM580.4 725.6l2.2 2 -1.3 1.3 -2.1 -1.9zM514.7 708.3l2.5 1.7 -1.2 .9 -1.8 -1.1zM487.5 716.7l2.9 2.6 -1.9 .7 -1.7 -1.8zM500.6 712.8l1.6 2.1 -1 .4 -1.4 -1.3zM485.9 719.4l3 1.7 -.3 1.4 -2.4 -1.3zM530.3 711.3l1.7 .8 -.8 1.2 -1.3 -.5zM536.7 709.7l2.7 .5 -.5 1.3 -2.2 -.4zM552.7 757.3l2.3 1.2 -.4 1.1 -2.3 -1.1zM640.3 757.5l2.3 1.7 -.8 1 -1.8 -1.4zM507.1 705.9l2.2 1.2 -.5 1 -1.8 -1.2zM545.8 719.8l1.6 .8 -.8 1.5 -1.5 -.3zM539.4 717.6l2.4 .7 -.8 1 -2 -.4zM524.8 744.8l2.2 1 -.8 .9 -1.5 -.6zM525.1 731.9l1.9 2 -1.1 1 -1.8 -1.5zM571 720.8l2.4 2.7 -1.5 1.4 -2.2 -2.6z" fill="#8c6c38"/>
<path d="M465.9 690.2l1.9 .8 -.2 .9 -1.7 -.6zM469 682.2l1.9 .9 -.1 1.6 -2.5 -.9zM431 702.1l1.3 1.1 -.6 .8 -1 -.8zM440.9 697.4l2 1.1 -.8 .9 -1.5 -.7zM491.9 705.7l2.1 .4 -.4 1.1 -1.7 -.7zM464.9 718.6l1.4 1 -1 1.2 -.8 -1zM468.6 698.2l2.7 .8 -.9 1.2 -1.9 -.6zM466.8 695.1l1.5 1.3 -.9 1 -1.3 -1.1zM428.8 703.1l2.1 1.2 -.5 1.3 -2 -.9zM472.1 714.8l1.6 .6 -.2 1.3 -1.7 -.5zM443.9 694.2l2.2 .5 -.1 1.1 -2.1 -.2zM485.7 689.1l2.2 1.2 -.4 .8 -2 -.8zM459.1 702.5l1.1 1.2 -.8 1.1 -1.3 -.9zM465.2 712.5l1.4 1.4 -.8 .8 -1.4 -1.2zM454.7 709.8l2 1.4 -.9 .9 -1.7 -.6zM476 706.1l1.2 1.6 -1 .5 -.8 -1.1zM548.9 710.2l2.5 1.5 -.9 .8 -1.8 -1.1zM447.6 712.9l1.6 .9 -.9 1.3 -1.3 -1zM423.7 702.3l2.6 .5 -.3 1.2 -2.1 -.4zM457.8 692.6l1.8 1.5 -1.1 .9 -1.6 -1.4zM443.3 702.4l1.5 1 -.8 1.3 -1.1 -.9zM470.6 722.9l2.3 .8 -.7 1.1 -1.6 -.2zM442.8 703l2.5 1 -1 1 -1.7 -.6zM541.6 722.1l2.9 .8 -.6 .9 -2.2 -.5zM503.1 702.3l1.2 1.5 -.8 .7 -1.1 -1.1zM477 682.1l1.7 1.4 -1.1 .8 -1.4 -.9zM432.9 707.3l2.2 .3 -.3 1.2 -1.6 -.3zM496.2 713.1l1.7 .6 -.6 1.4 -1.4 -.6zM443.5 707.1l1.5 1 -.4 1.1 -1.4 -.8zM468.7 716.8l2.2 .4 -.4 1.3 -1.9 -.4zM439.9 704l2.2 .6 -.8 1.1 -1.8 -.7zM476.7 684.3l1.5 1.3 -.9 .8 -1.7 -1zM469.9 704.4l1.4 1.6 -1.1 .6 -1.1 -1.1zM495.9 695.2l2.3 1.1 -1.1 1 -1.8 -1.1zM511.1 694.5l1.9 .5 -.4 .9 -1.6 -.4zM441.7 706l1.7 1.6 -.8 1 -2 -1.4zM438.1 701.8l1.9 1.2 -1.1 1.3 -1.6 -1.1zM480.9 709.1l1.2 .8 -.5 1.1 -1.3 -.8zM447.4 706.7l1.4 .7 -.6 .8 -.9 -.5zM480 695l1.9 .7 -.5 .9 -1.6 -.4zM468.9 700.1l2.4 .9 -.8 1.1 -1.7 -.6zM452.2 708.8l2.2 .9 -.7 1.1 -1.3 -.8zM481.2 713.1l1.9 .8 -.3 1.1 -2.2 -1.1zM447.5 700.9l1.2 1.9 -.9 1.1 -1.4 -1.7zM444.4 696.4l1.9 1.2 -.6 .8 -1.7 -1zM465.1 692.7l.8 1.3 -.7 1 -1 -.7zM438.5 707.2l2.2 .9 -.9 .9 -1.4 -.7zM456.4 702.3l1.8 1.5 -1 .7 -1.4 -1.5zM492.1 687l2.2 .2 -.4 1.3 -2 -.6zM453.6 696.3l2.2 1.1 -.5 1 -1.9 -.6zM482.8 688.3l2.3 1.1 -.9 1.3 -1.8 -.8zM464.9 708.8l2.1 1 -.8 1 -1.2 -.8zM513.3 725.1l1.4 1.4 -1.1 1 -1.3 -1.4zM451.8 703.2l1.7 1 -.3 1 -2 -1zM475.5 689.8l2.1 .9 -.7 1.3 -1.4 -.8zM476.3 697l1.8 1.3 -1.5 1.1 -1.2 -1.3zM547.8 736.6l1.5 1.5 -.8 .7 -1.3 -1.1zM495.1 689.5l1.5 1.1 -.7 1.2 -1.5 -.7zM474.3 688.1l2.4 1.1 -.6 1.1 -1.7 -.9zM495.4 715.7l1.5 .7 -.7 1.2 -1.1 -.6zM466.7 701.7l1.9 .6 -.6 .9 -1.3 -.6zM476.6 721.2l2.2 1.2 -1.1 .9 -1.2 -.7zM475.9 703.4l.9 1.1 -.9 1 -1 -.8zM501.6 705.5l.9 1 -.3 .9 -1.5 -.7zM444.3 707.4l2.6 1.3 -.9 .7 -1.6 -.8zM467.9 701.9l1.6 1 -.8 .9 -1.4 -.8zM454.8 704.8l2.5 .7 -.8 .9 -2 -.6zM520.8 724.3l2.2 .9 -.5 1.4 -2.1 -.8zM478.1 683.9l1.1 1.3 -.7 1.1 -1.3 -1.5zM479.9 720.5l2 .7 -.5 1.4 -1.5 -.4zM457.8 716.1l1.9 .6 -.4 1.5 -1.7 -.6zM466.7 720.6l1.6 .9 -1 1.1 -1.1 -.7zM470.1 688.6l1.8 1.6 -1.2 1 -1.5 -1.4zM525.6 705.4l1.5 .7 -.5 1.3 -1.6 -.4zM446.5 699.6l1.5 .8 -.9 1.1 -1.3 -.8zM482.2 722.7l1 1.3 -.8 1.2 -1.6 -1.1zM472.7 687.6l2.1 1 -.6 1.3 -1.7 -.8zM477 689.6l1.2 1.4 -.6 .6 -1.3 -1.2zM440.5 698.6l2.4 1.3 -.9 .8 -1.9 -.7zM441.1 695.2l1.1 1.6 -.9 .8 -1 -1.3zM443.5 698.5l1.9 1.4 -.9 1.2 -1.2 -1zM481.3 711l1.6 1.5 -1 .8 -1.2 -1zM450.6 695.3l1.8 1.5 -.7 .8 -1.7 -1.4zM450.6 700.3l1.5 1.1 -.8 .9 -1.1 -.7zM432.2 696.4l2.1 1.8 -1 .8 -1.6 -1.5zM474.9 679.6l1.3 1.4 -.7 .6 -1.2 -.7zM458 711.3l1.3 1 -.8 .5 -.9 -.7zM425.5 702l1.9 1.4 -.5 1.2 -2.1 -1.3zM441.7 701.8l2.6 .8 -.7 .8 -1.7 -.3zM465.7 717.3l1.5 1.2 -.9 1.3 -1.4 -.9zM515.6 714l1.3 1.2 -1.1 1.1 -1 -1.1zM531.9 703.3l1.1 1.3 -.6 .8 -.9 -1.2zM465.2 699.3l1.6 1.2 -.7 1.1 -1.7 -1.2zM441.5 703.6l2.2 1.4 -.7 1.4 -2.2 -1.3zM467.5 700.4l1.6 1.2 -.5 .9 -1.4 -.8zM497.8 730.6l2.2 1.2 -1 1.3 -1.6 -1zM496 718.8l1.6 1.8 -1 .7 -1.4 -1.4zM448.8 697.9l2.2 .8 -.3 1.6 -1.9 -.6zM460.1 690l1.2 .7 -.4 1 -1.1 -.8zM489.1 692.8l1.6 .9 -.4 1.6 -1.5 -.7zM460.3 699.6l1.5 1.4 -1.1 .9 -1.2 -1.4zM485.2 703.2l1.7 1.3 -1 .6 -1.5 -1zM457.7 688.6l2.1 1 -.6 1 -2 -.8zM531.6 712.5l1.3 1.1 -.8 1 -1.3 -1zM526.6 716.2l1.2 1.8 -.9 .7 -1.1 -1.3zM487.1 717.5l1.4 1.5 -.8 .7 -1.8 -1.6zM485.9 689.7l2 1.2 -.7 .8 -1.8 -1zM446.4 704l1.8 1.1 -.9 1.1 -1.2 -.9zM446.3 708.2l1.3 .6 -.5 1.3 -1.2 -.9zM459.2 715.8l1.4 .5 -.6 1.6 -1.3 -.8zM484.2 703.5l1.7 1.3 -.9 1.3 -1.3 -1.2zM455.4 704.4l1.8 .7 -.5 1.4 -1.8 -.5zM460.2 702.5l2.7 .9 -.9 .9 -1.9 -.5zM541.3 723.1l1.1 1.4 -.8 .7 -.9 -.8zM479.8 694.1l2.3 1.9 -.9 1 -2 -1.2zM479 697.7l1.5 1.4 -1.2 .8 -1.1 -1zM546.8 727.7l1.8 .8 -.4 1 -1.6 -.4zM549.6 727.4l2 .5 -.2 1.1 -1.8 -.3zM494.7 701.9l1.8 1.1 -.7 1.6 -1.7 -.9zM438.9 703.6l2 1 -.5 1 -1.8 -.7zM499.8 691.5l2.7 .9 -.7 .8 -2.2 -.7zM441.5 703.9l1.7 1.1 -.5 1.1 -1.3 -.5zM494.1 701.2l2 .6 -.6 1.1 -1.6 -.4zM494.1 691.9l1.1 1.3 -.9 .8 -1.3 -1.1zM489.9 700.6l2 1.2 -.6 1.1 -1.9 -1zM462.7 720.2l1.7 .8 -.9 1.4 -1.3 -.6zM473.8 700.7l1.8 .6 -.4 1.3 -1.6 -.4zM457.4 701.7l2.1 1.7 -.8 1.2 -1.6 -1.3zM451.6 700.2l1.5 1.2 -.8 1 -1.4 -1zM475.8 687.9l1.5 1.1 -.8 1.1 -1.3 -1.1zM489.4 688.9l2 .7 -.5 1.2 -1.8 -.4zM457.7 693l2.6 1.9 -1.1 .8 -2.1 -1.2zM454.4 699l1.6 .3 -.3 1.2 -1.6 -.3zM502.8 738.5l1.3 1.3 -1 .9 -1.1 -.6zM463.4 711.2l1.8 .9 -.6 1.3 -2 -1zM442.9 695.1l1.1 1.3 -.8 .8 -1.3 -.8zM480.4 690.7l2.4 1.2 -.3 .8 -1.9 -1zM472.7 692.4l1.8 1.8 -.9 .5 -1.5 -1.4zM444.9 705.3l1.5 1.2 -1 .8 -1.2 -.6zM479.3 728.6l1.9 1.3 -.8 .9 -1.6 -1zM457.1 701.5l1.4 1.5 -1.3 1.1 -1 -1.3zM493.7 710.2l2.4 .7 -.4 1.2 -1.9 -.6zM503 732.8l1.1 1.5 -.9 .8 -1.1 -.8zM478.4 709.8l1.1 1.3 -1 1.4 -1 -.9zM517.6 710.6l2 .9 -.5 1 -1.8 -.6zM486.1 725.8l1.5 2 -1.1 .8 -1.4 -1.4zM489.1 724.2l1.6 2.2 -1.1 1 -1.6 -1.7zM511.7 698.5l2.4 1.1 -.9 1 -1.5 -.9zM463.6 705.2l2.1 2 -.8 .5 -1.7 -1.5zM443.1 706.6l1.1 1 -.7 1 -.8 -1zM482.9 717.4l1.8 .2 -.1 1.9 -1.8 -.4zM457.5 711.1l1.8 .8 -.4 .8 -1.6 -.7zM476.2 696.7l1.8 1.2 -.7 1 -1.5 -.9zM460.3 710.8l2.2 1 -.2 1.3 -1.8 -.9zM471.5 725.8l1.6 .6 -.7 1.1 -1.2 -.8zM459 710.2l1.7 1.3 -.5 .9 -1.4 -1.3zM484.8 704.7l1.3 1.1 -.8 1.2 -1.1 -.7zM484.3 719.5l1.3 1.1 -.8 1.3 -1.1 -1.1zM471.6 687.8l1.3 .9 -.7 1.1 -1.2 -.8zM498.7 710.6l2.1 .8 -.7 1.4 -2.1 -1zM523.7 715.5l1.6 1.3 -.7 .6 -1.3 -1zM438.8 703.3l1.2 1.1 -1.2 1.1 -.8 -1.3zM516.4 725.8l1.5 .8 -.7 1 -1 -.7zM462.3 707.9l1 1.4 -.6 .8 -1.2 -1.1zM473 704.4l2.2 .8 -.1 1.1 -2 -.5zM474.1 693.4l1.6 1.3 -.7 .9 -1.4 -.8zM492.2 709.8l1.8 1.1 -.7 .8 -1.5 -.7zM503.6 691.5l2.6 .6 -.4 1.5 -2.1 -.5zM519.1 715.9l2.2 .5 -.5 1.2 -1.9 -.5zM441.9 696.7l1.4 1.3 -.8 .9 -1.2 -1.2zM480.9 688.9l1.9 1.7 -1 .6 -1.6 -1.4zM435.3 696.2l1.9 .9 -.7 .6 -1.5 -.7zM432.4 699.8l1.6 1.5 -1 1 -1.4 -1.5zM486.6 689.6l1.7 1.3 -.9 .9 -1.9 -1.1zM474.4 715.6l1.7 .8 -.7 1.2 -1.5 -.8zM451.7 716.4l2.2 .4 -.4 1.8 -2.1 -.7zM452.4 692.9l1.5 .5 -.3 1.6 -1.8 -.5zM486.9 704.1l2 .4 -.6 1.4 -1.3 -.4zM525.5 710.3l1.2 1 -.5 1.3 -1.4 -.8zM482.4 696.4l2 1.1 -.3 1.5 -1.9 -1zM561.4 730.3l1.6 1.2 -.8 1.6 -1.4 -1zM492.4 720.7l2.1 .5 -.5 1.4 -1.5 -.5zM437 704.4l2.4 .5 -.4 .8 -1.8 -.3zM464.2 707.7l1.7 1.4 -.4 .8 -1.6 -1.1zM479.1 686.4l2.6 1.2 -.9 .8 -1.7 -.8zM505.3 720.7l1.7 .3 -.5 1.1 -1.2 -0zM460.8 692.3l1.7 1.2 -.4 1.1 -1.6 -.5zM499.2 694.3l2.5 .4 -.6 1 -2.1 -.3zM482.5 693.4l1.9 1.1 -.3 1.2 -1.9 -.9zM492.3 702l1.9 .8 -.6 1.1 -2 -.7zM509.9 702.1l2.1 2.2 -1.1 .3 -1.3 -1.2z" fill="#dcdcda"/>
<polygon points="701,801 887,652 884,680 700.5,830.8" fill="url(#rface)"/>
<polygon points="702,783.4 871,648.5 887,652 701,801" fill="#171717"/>
<polygon points="470,675.6 600,733.3 702,783.4 871,648.5 887,652 884,680 700.5,830.8 640,803 480,730.3" fill="#fff" filter="url(#blackTex)"/>
<line x1="701" y1="801" x2="887" y2="652" stroke="#262626" stroke-width="1"/>
<polygon points="75,507.6 342,438 342,444 86,512.5" fill="url(#rimG)"/>
<polygon points="88,512 342,443 871,648.5 702,783.4 600,733.3 453,668 260,586 88,512" fill="#fafaf9"/>
<polygon points="112,518 342,452 800,628 827,666 696,772.5 598,725 452,659 262,571" fill="url(#canvasBack)"/>
<polygon points="117.6,507.5 300,460.3 300,482.9 152.7,525" fill="#f9e3b8"/>
<path d="M133.4 506.7Q146.4 512.6 155.3 521.6M149 498.9Q166.7 506.4 180.3 516.9M164.7 495Q183.1 501.7 197.5 511.4M180.3 491.9Q201.9 498.2 219.4 507.5M197.5 488.8Q219.8 493.5 238 501.2M216.2 485.6Q239.3 488.8 258.4 495M236 481Q260 483.8 280 489.5M256 476Q280 478 300 483" fill="none" stroke="#efbf72" stroke-width="2.2" stroke-opacity=".85"/>
<line x1="152.7" y1="525" x2="300" y2="482.9" stroke="#e9ad68" stroke-width="1.2"/>
<polygon points="775.8,644.7 804,624.7 856,648 827.3,666.2" fill="#e3a86c"/>
<path d="M780.9 646.9L809.2 627M786.1 649L814.4 629.4M791.2 651.2L819.6 631.7M797.4 653.7L825.8 634.5M804.1 656.5L832.6 637.5M809.8 658.9L838.3 640.1M816 661.5L844.6 642.9M822.1 664.1L850.8 645.7" stroke="#c48448" stroke-width=".8" stroke-opacity=".55"/>
<path d="M245.6 571.7L244 577.7M259.6 577.7L258 583.7M273.6 583.6L272 589.6M288.6 590L287 596M303.6 596.3L302 602.3M318.6 602.7L317 608.7M151.2 483L150 487M164.2 479.6L163 483.6M177.2 476.2L176 480.2M191.2 472.5L190 476.5" stroke="#9fd0ee" stroke-width="1" stroke-opacity=".8" fill="none"/>
<path d="M472 667.6L470 674.6M488 674.7L486 681.7M504 681.8L502 688.8M520 688.9L518 695.9M536 696L534 703M552 703.1L550 710.1M568 710.2L566 717.2M584 717.3L582 724.3M600 724.4L598 731.4M616 732.2L614 739.2M632 740L630 747M648 747.9L646 754.9M664 755.8L662 762.8M680 763.6L678 770.6M696 771.5L694 778.5" stroke="#efe0a0" stroke-width=".8" stroke-opacity=".8" fill="none"/>
<path d="M306.5 598.5l4 1.2 3.5 2.6-1 1.6-3.2-1.8-3.6-1z" fill="#333"/><circle cx="314" cy="603.5" r="1.5" fill="#222"/>
<g stroke="#a0a0a0" stroke-width="1"><line x1="711" y1="779.6" x2="721" y2="775.8"/><line x1="778.4" y1="727.6" x2="789.8" y2="722.5"/><line x1="840.6" y1="679.3" x2="852" y2="674.3"/><line x1="640" y1="758" x2="650" y2="760.5"/><line x1="560" y1="721" x2="570" y2="725.5"/></g>
<text class="mt" transform="translate(321.6,603.2) rotate(23.6) scale(1,-1)" style="letter-spacing:3.9px">Me love your walls</text>
</g>
<clipPath id="ftop"><polygon points="123.4,405.4 364.5,330.4 883,540.4 716.5,666"/></clipPath>
<g id="foam">
<polygon points="123.4,405.4 133.4,406.8 706.5,658.6 716.5,666 712,689.7 121,430" fill="#28262a" filter="url(#foamTex2)"/>
<g filter="url(#foamTex)"><polygon points="714.5,664 880,540.4 883,540.4 882,563 712,689.7 716.5,666" fill="#69666d"/></g>
<g filter="url(#foamTex)"><polygon points="123.4,405.4 364.5,330.4 883,540.4 716.5,666" fill="url(#foamTop)"/></g>
<g clip-path="url(#ftop)"><polyline points="113.4,400.5 726.5,669.9" stroke="#2a282c" stroke-width="11" fill="none" filter="url(#bev)"/></g>
</g>
<g id="kraft" mask="url(#kmask)">
<polygon points="137,297.6 397,216.6 939,423 761.6,566" fill="url(#kraftG)" filter="url(#kraftTex)"/>
<polygon points="137,297.6 761.6,566 939,423 938.7,424.8 761.6,568.2 137,299" fill="#cc9060"/>
<path d="M644.2 384.2a.6 .4 0 1 0 1.3 0a.6 .4 0 1 0 -1.3 0zM769.3 498.3a.8 .6 0 1 0 1.6 0a.8 .6 0 1 0 -1.6 0zM541 299.9a.5 .4 0 1 0 1 0a.5 .4 0 1 0 -1 0zM434.4 421.1a.5 .4 0 1 0 1.1 0a.5 .4 0 1 0 -1.1 0zM835.1 431.7a.5 .4 0 1 0 1 0a.5 .4 0 1 0 -1 0zM400.9 390.7a.6 .4 0 1 0 1.1 0a.6 .4 0 1 0 -1.1 0zM499.5 409.5a.7 .5 0 1 0 1.4 0a.7 .5 0 1 0 -1.4 0zM524.8 282.9a.5 .4 0 1 0 1 0a.5 .4 0 1 0 -1 0zM739.2 482.7a.8 .6 0 1 0 1.7 0a.8 .6 0 1 0 -1.7 0zM429.6 374.6a.7 .5 0 1 0 1.5 0a.7 .5 0 1 0 -1.5 0zM533.5 388.6a.8 .6 0 1 0 1.7 0a.8 .6 0 1 0 -1.7 0zM623.2 411.1a.9 .6 0 1 0 1.7 0a.9 .6 0 1 0 -1.7 0zM282.9 277a.7 .5 0 1 0 1.4 0a.7 .5 0 1 0 -1.4 0zM614.2 324.4a.6 .4 0 1 0 1.1 0a.6 .4 0 1 0 -1.1 0zM682.2 452.5a1 .7 0 1 0 2.1 0a1 .7 0 1 0 -2.1 0zM529.6 348.3a.6 .5 0 1 0 1.3 0a.6 .5 0 1 0 -1.3 0zM754.3 385.7a1 .7 0 1 0 2 0a1 .7 0 1 0 -2 0zM180.8 307.5a.7 .5 0 1 0 1.3 0a.7 .5 0 1 0 -1.3 0zM473 277.2a.5 .4 0 1 0 1.1 0a.5 .4 0 1 0 -1.1 0zM519.7 305.5a1.1 .8 0 1 0 2.2 0a1.1 .8 0 1 0 -2.2 0zM557.4 470.8a.5 .4 0 1 0 1 0a.5 .4 0 1 0 -1 0zM771.3 523.9a.9 .6 0 1 0 1.7 0a.9 .6 0 1 0 -1.7 0zM477.7 419.7a1 .7 0 1 0 2 0a1 .7 0 1 0 -2 0zM384.2 403.4a.7 .5 0 1 0 1.3 0a.7 .5 0 1 0 -1.3 0zM651 513.5a.9 .6 0 1 0 1.7 0a.9 .6 0 1 0 -1.7 0zM343.4 358.7a1.1 .8 0 1 0 2.2 0a1.1 .8 0 1 0 -2.2 0zM567.4 330.5a.8 .6 0 1 0 1.6 0a.8 .6 0 1 0 -1.6 0zM314 275.6a.6 .4 0 1 0 1.2 0a.6 .4 0 1 0 -1.2 0zM704.2 521.2a1 .7 0 1 0 1.9 0a1 .7 0 1 0 -1.9 0zM373.7 392.6a.8 .6 0 1 0 1.7 0a.8 .6 0 1 0 -1.7 0zM617 394.3a.9 .7 0 1 0 1.9 0a.9 .7 0 1 0 -1.9 0zM695.2 400.4a.8 .6 0 1 0 1.7 0a.8 .6 0 1 0 -1.7 0zM743.3 373.5a.9 .6 0 1 0 1.7 0a.9 .6 0 1 0 -1.7 0zM491.2 397.5a.7 .5 0 1 0 1.5 0a.7 .5 0 1 0 -1.5 0zM458.7 296.2a.5 .4 0 1 0 1.1 0a.5 .4 0 1 0 -1.1 0zM484 303.7a.9 .6 0 1 0 1.8 0a.9 .6 0 1 0 -1.8 0zM789 469.1a.8 .5 0 1 0 1.5 0a.8 .5 0 1 0 -1.5 0zM327.2 351.7a.8 .6 0 1 0 1.6 0a.8 .6 0 1 0 -1.6 0zM530 466.9a1 .7 0 1 0 2.1 0a1 .7 0 1 0 -2.1 0zM758.8 435.5a1 .7 0 1 0 1.9 0a1 .7 0 1 0 -1.9 0zM670.2 516a.9 .6 0 1 0 1.8 0a.9 .6 0 1 0 -1.8 0zM627.6 504.2a1.1 .8 0 1 0 2.2 0a1.1 .8 0 1 0 -2.2 0zM387.8 326.2a.7 .5 0 1 0 1.5 0a.7 .5 0 1 0 -1.5 0zM202.1 323a1.1 .7 0 1 0 2.1 0a1.1 .7 0 1 0 -2.1 0zM729.6 378.4a.6 .4 0 1 0 1.1 0a.6 .4 0 1 0 -1.1 0z" fill="#a8764c" fill-opacity=".7"/>
<path d="M418.3 273.8a1.8 1.8 0 1 0 3.6 0a1.8 1.8 0 1 0-3.6 0zM438.7 282.6a1.8 1.8 0 1 0 3.6 0a1.8 1.8 0 1 0-3.6 0zM423.1 305a1.8 1.8 0 1 0 3.6 0a1.8 1.8 0 1 0-3.6 0zM475.9 302a1.8 1.8 0 1 0 3.6 0a1.8 1.8 0 1 0-3.6 0zM482.7 317.6a1.8 1.8 0 1 0 3.6 0a1.8 1.8 0 1 0-3.6 0zM554 304.9a1.8 1.8 0 1 0 3.6 0a1.8 1.8 0 1 0-3.6 0zM546.2 327a1.8 1.8 0 1 0 3.6 0a1.8 1.8 0 1 0-3.6 0zM536.4 350.8a1.8 1.8 0 1 0 3.6 0a1.8 1.8 0 1 0-3.6 0zM576.4 351.7a1.8 1.8 0 1 0 3.6 0a1.8 1.8 0 1 0-3.6 0zM583.1 369.5a1.8 1.8 0 1 0 3.6 0a1.8 1.8 0 1 0-3.6 0zM633.8 364.6a1.8 1.8 0 1 0 3.6 0a1.8 1.8 0 1 0-3.6 0zM644.6 381.2a1.8 1.8 0 1 0 3.6 0a1.8 1.8 0 1 0-3.6 0zM700.2 372.3a1.8 1.8 0 1 0 3.6 0a1.8 1.8 0 1 0-3.6 0zM711.9 388.9a1.8 1.8 0 1 0 3.6 0a1.8 1.8 0 1 0-3.6 0zM719.2 408.9a1.8 1.8 0 1 0 3.6 0a1.8 1.8 0 1 0-3.6 0zM728.9 427.8a1.8 1.8 0 1 0 3.6 0a1.8 1.8 0 1 0-3.6 0zM769 428.4a1.8 1.8 0 1 0 3.6 0a1.8 1.8 0 1 0-3.6 0zM809.9 427.3a1.8 1.8 0 1 0 3.6 0a1.8 1.8 0 1 0-3.6 0zM819.7 447.8a1.8 1.8 0 1 0 3.6 0a1.8 1.8 0 1 0-3.6 0z" fill="#94603a"/>
</g>
<polygon points="680.2,499 688,496 698.7,496.7 694.6,504 687,503.5" fill="#55524f"/>
<g fill="#1f3764" stroke="#2b4271">
<line x1="281.2" y1="157" x2="281.2" y2="400.2" stroke-width="1.7"/>
<circle cx="281.2" cy="400.2" r="6.4" stroke="none"/>
<line x1="692.2" y1="262.5" x2="692.2" y2="492" stroke-width="1.7"/>
<circle cx="692.2" cy="492" r="6.2" stroke="none"/>
<line x1="204" y1="498.6" x2="204" y2="749" stroke-width="1.7"/>
<circle cx="204" cy="498.6" r="6.5" stroke="none"/>
<line x1="611" y1="708.4" x2="611" y2="880.3" stroke-width="1.7"/>
<circle cx="611" cy="708.4" r="6.4" stroke="none"/>
</g>
<g class="lb" text-anchor="middle">
<text x="281.20" y="114.7" style="letter-spacing:1.676px">Sound absorbing</text>
<text x="282.10" y="140.1" style="letter-spacing:2.167px">foam</text>
<text x="692.00" y="208.6" style="letter-spacing:1.943px">Built-in</text>
<text x="691.50" y="234.0" style="letter-spacing:1.800px">hangers</text>
<text x="216.50" y="776.7" style="letter-spacing:1.617px">Sturdy wooden</text>
<text x="217.70" y="802.1" style="letter-spacing:1.262px">frame (3.3 cm)</text>
<text x="611.20" y="912.8" style="letter-spacing:1.550px">Italian cotton canvas</text>
</g>
</svg>
</body></html>
